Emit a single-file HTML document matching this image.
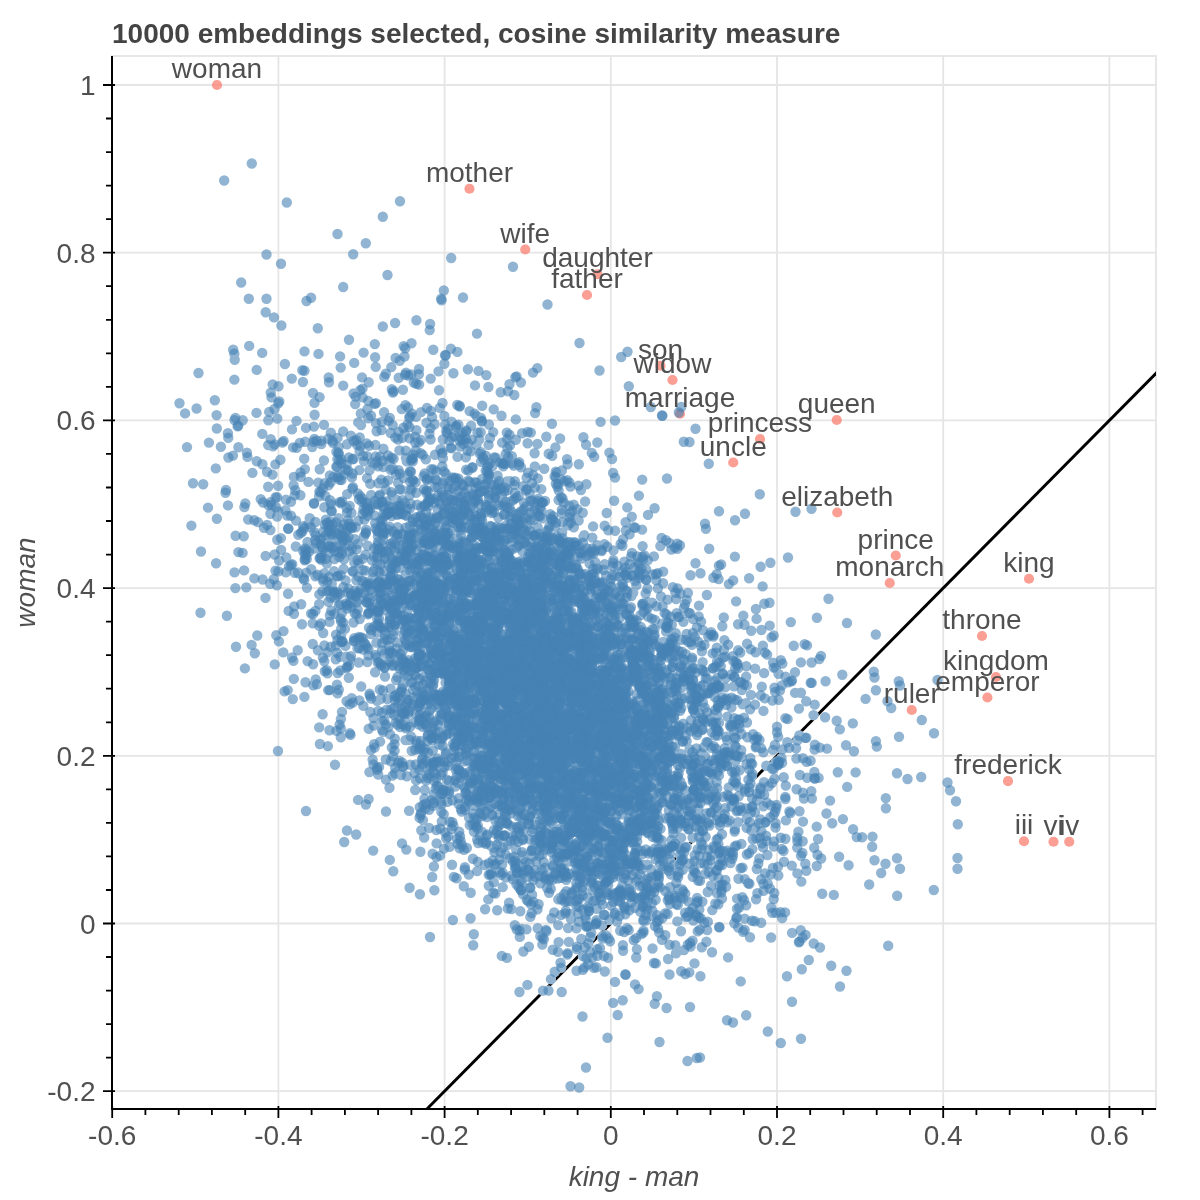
<!DOCTYPE html>
<html><head><meta charset="utf-8"><title>plot</title>
<style>
html,body{margin:0;padding:0;background:#fff;}
body{width:1200px;height:1200px;overflow:hidden;position:relative;font-family:"Liberation Sans",sans-serif;}
svg{position:absolute;left:0;top:0;will-change:transform;}
text{font-family:"Liberation Sans",sans-serif;}
.tk{font-size:28px;fill:#505050;}
.lb{font-size:28px;fill:#505050;text-anchor:middle;}
.ax{font-size:28px;font-style:italic;fill:#505050;text-anchor:middle;}
.ti{font-size:28px;font-weight:bold;fill:#444;}
</style></head><body>
<svg width="1200" height="1200" viewBox="0 0 1200 1200">
<rect width="1200" height="1200" fill="#fff"/>

<rect x="112" y="56" width="1044" height="1053" fill="#fff" stroke="#e5e5e5" stroke-width="1.8"/>
<path d="M278.4 56V1109M444.6 56V1109M610.8 56V1109M777.0 56V1109M943.2 56V1109M1109.4 56V1109M112 1091.2H1156M112 923.5H1156M112 755.8H1156M112 588.1H1156M112 420.4H1156M112 252.7H1156M112 85.0H1156" stroke="#e5e5e5" stroke-width="1.8" fill="none"/>
<clipPath id="c"><rect x="112" y="56" width="1044" height="1053"/></clipPath>
<g clip-path="url(#c)">
<path d="M361.5 1175.0L1192.5 336.6" stroke="#000" stroke-width="2.9" fill="none"/>
<clipPath id="lb"><path d="M363.8 1177.3L1194.8 338.8L1190.2 334.3L359.2 1172.8Z"/></clipPath>
<circle cx="217" cy="85" r="5.1" fill="#fa8072" fill-opacity="0.76"/>
<circle cx="469.5" cy="188.75" r="5.1" fill="#fa8072" fill-opacity="0.76"/>
<circle cx="525.25" cy="249.5" r="5.1" fill="#fa8072" fill-opacity="0.76"/>
<circle cx="597.5" cy="274.25" r="5.1" fill="#fa8072" fill-opacity="0.76"/>
<circle cx="587" cy="295" r="5.1" fill="#fa8072" fill-opacity="0.76"/>
<circle cx="660.5" cy="365.75" r="5.1" fill="#fa8072" fill-opacity="0.76"/>
<circle cx="672.5" cy="380" r="5.1" fill="#fa8072" fill-opacity="0.76"/>
<circle cx="680" cy="413.75" r="5.1" fill="#fa8072" fill-opacity="0.76"/>
<circle cx="760" cy="439" r="5.1" fill="#fa8072" fill-opacity="0.76"/>
<circle cx="733.25" cy="462.5" r="5.1" fill="#fa8072" fill-opacity="0.76"/>
<circle cx="836.75" cy="420" r="5.1" fill="#fa8072" fill-opacity="0.76"/>
<circle cx="837.25" cy="512.5" r="5.1" fill="#fa8072" fill-opacity="0.76"/>
<circle cx="895.75" cy="555.5" r="5.1" fill="#fa8072" fill-opacity="0.76"/>
<circle cx="889.75" cy="583" r="5.1" fill="#fa8072" fill-opacity="0.76"/>
<circle cx="1029" cy="578.75" r="5.1" fill="#fa8072" fill-opacity="0.76"/>
<circle cx="982" cy="636" r="5.1" fill="#fa8072" fill-opacity="0.76"/>
<circle cx="996" cy="677" r="5.1" fill="#fa8072" fill-opacity="0.76"/>
<circle cx="987.4" cy="697.5" r="5.1" fill="#fa8072" fill-opacity="0.76"/>
<circle cx="911.75" cy="710" r="5.1" fill="#fa8072" fill-opacity="0.76"/>
<circle cx="1008" cy="781.1" r="5.1" fill="#fa8072" fill-opacity="0.76"/>
<circle cx="1024" cy="841.25" r="5.1" fill="#fa8072" fill-opacity="0.76"/>
<circle cx="1053.5" cy="841.75" r="5.1" fill="#fa8072" fill-opacity="0.76"/>
<circle cx="1069.25" cy="841.75" r="5.1" fill="#fa8072" fill-opacity="0.76"/>
<g clip-path="url(#lb)"><path d="M825.1 717.3h0M576.8 949.1h0M617.1 921.6h0M749.0 792.1h0M779.0 761.8h0M642.7 885.9h0M588.3 943.4h0M602.0 925.4h0M733.1 799.5h0M716.6 820.0h0M637.6 898.5h0M645.8 883.8h0M709.5 825.6h0M685.0 847.4h0M639.9 885.8h0M647.0 887.0h0M561.2 967.6h0M625.1 909.1h0M619.4 916.0h0M738.7 796.3h0M686.6 847.0h0M683.4 859.5h0M705.6 836.7h0M751.8 776.6h0M641.5 897.1h0M648.0 879.7h0M725.2 808.2h0M732.8 798.3h0M643.8 894.3h0M681.5 860.0h0M723.7 818.1h0M773.8 768.7h0M645.3 895.3h0M777.9 763.6h0M799.3 735.5h0M663.7 866.1h0M734.3 799.5h0M789.1 747.9h0M651.8 877.3h0M645.7 892.4h0M635.3 897.9h0M658.3 883.5h0M724.7 814.1h0M669.9 853.7h0M729.3 796.4h0M586.4 958.2h0M723.7 818.8h0M634.7 907.8h0M703.1 831.1h0M720.1 822.1h0M548.5 990.6h0M797.4 740.4h0M682.2 860.9h0M543.0 990.6h0M660.1 864.6h0M734.0 801.4h0M658.1 873.5h0M699.2 830.5h0M669.5 859.2h0M667.2 869.5h0M654.5 888.1h0M631.7 902.6h0M787.3 742.3h0M630.5 896.9h0M584.9 947.2h0M775.6 762.4h0M583.0 956.0h0M684.2 852.0h0M632.6 895.7h0M738.4 786.9h0M648.3 888.8h0M657.9 874.4h0M678.9 847.3h0M640.4 902.2h0M647.8 878.1h0M668.8 870.7h0M669.1 867.6h0M629.4 910.3h0M782.5 749.4h0M711.4 812.2h0M692.6 837.6h0M624.8 906.5h0M731.5 806.5h0M752.2 773.8h0M656.2 876.0h0M773.0 749.9h0M766.3 765.7h0M659.1 875.8h0M745.1 789.0h0M554.7 971.7h0M750.5 783.6h0M699.1 836.9h0M748.4 779.8h0M730.1 799.2h0M772.2 768.7h0M715.4 808.3h0M673.9 864.7h0M708.7 823.3h0M657.3 886.0h0M605.8 935.1h0M614.8 914.4h0M781.5 758.1h0M590.4 952.3h0M710.7 812.7h0M663.2 860.8h0M550.9 979.1h0M717.3 816.2h0M681.8 851.1h0M645.0 898.6h0M590.3 937.0h0M744.9 791.6h0M749.2 787.4h0M680.0 855.0h0M731.9 800.4h0M602.7 936.2h0M615.1 912.8h0M813.5 715.1h0M778.5 764.3h0M777.9 761.2h0M623.9 907.3h0M602.5 938.6h0M650.1 890.9h0M707.4 822.4h0M717.0 806.5h0M609.5 919.8h0M658.8 879.1h0M702.3 830.2h0M625.3 914.3h0" stroke="#fff" stroke-width="10.4" stroke-linecap="round" fill="none"/></g>
<g stroke="#4682b4" stroke-opacity="0.6" stroke-width="10.4" stroke-linecap="round" fill="none"><path d="M404.0 670.0h0M757.1 737.0h0M490.2 789.3h0M447.4 665.0h0M552.7 723.3h0M442.0 557.6h0M483.6 656.4h0M353.6 393.5h0M719.0 511.2h0M755.7 747.2h0M475.4 668.8h0M549.6 778.9h0M818.6 777.9h0M434.4 631.5h0M548.0 560.2h0M459.3 576.8h0M492.1 814.9h0M328.8 531.5h0M611.6 645.2h0M521.9 753.2h0M495.1 755.0h0M208.0 507.6h0M636.8 676.5h0M678.2 758.2h0M338.6 447.2h0M476.0 703.2h0M535.1 413.1h0M457.8 692.9h0M657.8 806.8h0M421.5 618.5h0M502.0 753.9h0M422.5 532.2h0M733.1 799.5h0M468.5 693.1h0M704.9 756.2h0M588.6 615.6h0M705.0 523.7h0M595.4 702.1h0M510.5 668.2h0M429.4 478.2h0M375.6 528.2h0M526.5 627.2h0M639.9 885.8h0M555.9 769.1h0M449.2 650.7h0M283.5 631.1h0M313.6 441.7h0M481.6 547.8h0M515.2 777.6h0M459.5 612.3h0M654.0 766.5h0M436.2 604.6h0M540.9 771.8h0M458.5 478.7h0M575.8 545.5h0M481.1 516.8h0M552.4 823.3h0M746.7 818.7h0M514.0 749.3h0M430.5 500.2h0M581.4 626.5h0M698.2 762.2h0M553.6 673.9h0M463.0 724.2h0M554.8 743.0h0M523.2 578.3h0M579.3 858.1h0M670.2 645.9h0M319.1 496.3h0M657.9 700.1h0M419.8 714.6h0M642.8 800.9h0M715.2 735.5h0M433.2 676.2h0M399.5 761.0h0M750.0 709.4h0M272.9 446.2h0M448.2 733.4h0M659.5 758.6h0M543.5 737.8h0M566.3 620.2h0M564.8 644.8h0M354.7 613.2h0M399.3 603.9h0M570.2 588.6h0M527.2 784.2h0M412.7 597.5h0M395.2 544.4h0M610.0 735.9h0M569.1 729.6h0M529.3 596.5h0M536.6 615.2h0M712.3 910.1h0M576.5 779.1h0M495.8 612.9h0M610.1 854.7h0M701.6 849.1h0M519.3 513.1h0M551.8 764.5h0M496.1 723.0h0M510.3 632.7h0M496.5 721.7h0M321.3 559.8h0M568.4 658.3h0M469.4 786.2h0M579.6 718.4h0M477.6 575.8h0M700.5 863.4h0M607.6 785.5h0M632.0 678.7h0M513.0 861.6h0M398.1 584.4h0M583.7 799.5h0M538.2 501.1h0M416.4 740.6h0M635.6 667.3h0M421.0 412.1h0M557.3 546.2h0M584.4 846.3h0M590.4 817.3h0M665.5 779.7h0M490.3 637.7h0M565.6 799.0h0M484.6 730.0h0M543.5 555.7h0M536.6 672.8h0M530.0 768.3h0M605.8 727.2h0M294.2 606.4h0M464.9 608.3h0M605.3 711.4h0M676.3 882.7h0M816.9 617.7h0M412.1 647.4h0M436.4 595.0h0M494.6 761.7h0M503.7 713.2h0M346.6 668.0h0M563.0 572.8h0M476.7 721.0h0M486.2 683.9h0M531.8 913.0h0M610.5 642.6h0M569.1 716.3h0M600.6 583.1h0M326.9 522.9h0M569.3 825.8h0M489.0 494.9h0M554.8 626.5h0M278.5 386.3h0M586.4 601.5h0M674.6 797.9h0M888.2 945.8h0M368.7 613.4h0M589.0 908.1h0M637.5 734.7h0M624.2 751.2h0M618.4 716.9h0M303.1 526.1h0M277.3 539.8h0M291.0 515.8h0M443.9 659.4h0M639.4 790.1h0M523.1 838.7h0M409.0 640.9h0M577.1 646.1h0M329.0 576.9h0M588.8 827.8h0M511.9 745.2h0M420.3 702.2h0M542.9 614.9h0M594.6 813.1h0M585.5 744.7h0M663.9 752.8h0M360.2 390.3h0M467.5 667.0h0M614.0 774.0h0M600.9 890.0h0M599.1 645.7h0M334.7 551.3h0M606.2 829.5h0M588.0 615.7h0M528.5 620.1h0M460.3 777.8h0M563.1 556.3h0M498.7 763.1h0M329.0 590.5h0M439.4 535.6h0M585.9 700.0h0M523.5 749.8h0M620.0 802.0h0M467.7 692.5h0M486.1 676.4h0M534.5 735.9h0M545.3 787.9h0M694.0 790.3h0M602.6 686.4h0M330.8 432.7h0M512.3 706.7h0M589.7 853.1h0M520.1 572.0h0M466.1 628.1h0M416.0 416.9h0M582.2 801.7h0M657.7 573.3h0M328.2 690.1h0M536.9 806.0h0M524.2 542.3h0M501.6 557.1h0M382.9 582.7h0M566.2 603.3h0M642.5 757.4h0M690.0 613.3h0M787.3 742.3h0M624.0 878.0h0M487.6 726.1h0M476.7 416.1h0M801.0 1038.8h0M447.1 433.3h0M576.1 843.9h0M578.8 572.3h0M637.3 863.1h0M872.2 846.8h0M596.7 685.6h0M657.2 853.1h0M587.7 612.7h0M545.8 728.5h0M519.3 719.8h0M581.0 676.2h0M539.5 708.5h0M469.4 583.7h0M526.9 805.9h0M541.3 489.1h0M405.5 554.8h0M445.2 707.6h0M331.7 542.7h0M603.3 721.3h0M642.9 714.2h0M445.6 682.8h0M340.8 737.2h0M629.4 738.7h0M356.8 602.3h0M738.4 786.9h0M579.2 817.0h0M287.7 690.1h0M492.0 542.7h0M587.1 731.8h0M626.5 693.4h0M474.4 818.0h0M597.3 867.5h0M656.7 739.2h0M634.8 825.7h0M350.5 601.7h0M538.6 722.2h0M498.9 724.5h0M499.2 624.2h0M529.1 589.9h0M429.6 717.7h0M574.7 806.2h0M275.5 570.6h0M478.2 674.9h0M568.3 555.1h0M483.4 603.6h0M493.2 432.1h0M714.7 763.2h0M329.9 615.3h0M423.2 580.7h0M577.6 641.4h0M474.7 619.9h0M498.4 517.6h0M627.0 626.1h0M697.3 724.0h0M513.1 570.8h0M563.9 655.0h0M477.0 333.6h0M505.3 665.7h0M634.7 871.1h0M671.8 624.7h0M625.3 754.9h0M499.2 582.7h0M581.8 577.7h0M586.4 666.3h0M634.4 567.2h0M446.5 710.2h0M576.0 640.2h0M475.1 632.8h0M628.6 654.5h0M561.3 818.4h0M430.5 763.8h0M510.1 481.3h0M531.6 740.4h0M701.2 753.2h0M567.5 598.3h0M519.0 607.2h0M378.2 774.5h0M256.5 412.9h0M338.9 453.6h0M506.9 481.4h0M671.6 840.0h0M492.1 664.8h0M383.2 514.1h0M364.1 642.8h0M558.7 739.8h0M633.4 663.4h0M503.2 617.4h0M475.4 624.5h0M675.5 647.5h0M575.5 699.8h0M604.4 588.5h0M507.4 448.3h0M394.9 700.3h0M545.4 679.4h0M512.3 688.9h0M480.9 417.9h0M671.4 549.6h0M587.9 897.6h0M560.8 617.5h0M717.6 730.3h0M474.8 789.0h0M608.0 868.7h0M683.4 621.8h0M530.8 761.7h0M560.8 562.9h0M578.6 906.7h0M816.7 866.0h0M403.0 685.0h0M576.9 670.4h0M550.9 979.1h0M620.6 544.0h0M681.8 851.1h0M601.6 782.5h0M654.7 1003.7h0M643.4 773.3h0M425.2 590.3h0M440.5 622.6h0M563.8 868.4h0M463.6 582.5h0M581.1 877.6h0M750.9 812.6h0M484.4 660.8h0M431.3 469.1h0M734.8 846.5h0M699.5 713.0h0M567.0 741.3h0M499.9 872.3h0M662.5 714.9h0M442.7 745.9h0M362.3 580.8h0M484.3 639.5h0M491.9 614.2h0M520.2 661.2h0M291.0 501.7h0M549.2 880.3h0M677.8 905.1h0M504.5 643.4h0M472.6 824.1h0M579.7 634.3h0M589.1 683.3h0M508.4 753.9h0M569.1 582.3h0M573.7 504.7h0M426.5 422.8h0M405.2 640.0h0M416.2 780.4h0M553.0 846.9h0M433.3 349.8h0M519.5 537.9h0M518.5 599.9h0M519.7 834.8h0M369.9 695.8h0M677.1 900.6h0M458.3 658.6h0M556.6 673.3h0M613.2 688.0h0M558.9 624.6h0M582.1 837.4h0M571.9 685.4h0M444.8 676.6h0M343.2 431.5h0M474.7 665.7h0M618.7 828.9h0M268.2 445.1h0"/><path d="M456.2 641.4h0M423.6 576.1h0M452.9 920.0h0M248.8 298.8h0M451.8 703.4h0M684.4 678.3h0M681.2 971.2h0M673.3 833.3h0M401.4 712.1h0M396.8 620.8h0M506.2 532.0h0M542.6 708.4h0M390.7 433.0h0M470.9 506.5h0M624.5 842.5h0M563.9 814.3h0M875.9 741.1h0M470.6 628.6h0M530.9 738.4h0M386.6 501.4h0M489.6 703.1h0M490.1 770.9h0M483.4 719.9h0M646.8 735.1h0M586.4 758.2h0M407.2 703.2h0M597.4 608.4h0M787.0 976.2h0M696.3 914.6h0M337.6 437.9h0M617.9 625.3h0M357.1 593.6h0M531.5 682.8h0M406.0 667.7h0M538.7 733.8h0M519.8 809.4h0M504.9 505.3h0M654.4 637.7h0M587.6 576.4h0M602.6 688.9h0M543.8 939.3h0M536.7 570.1h0M428.6 559.0h0M575.1 778.2h0M238.4 552.1h0M366.7 443.4h0M619.9 901.6h0M510.8 741.7h0M457.2 656.0h0M625.1 909.1h0M463.5 544.2h0M585.6 641.3h0M662.7 802.3h0M665.6 818.2h0M541.7 571.6h0M509.3 688.0h0M531.1 547.5h0M550.5 778.6h0M644.6 768.0h0M723.5 851.3h0M572.6 821.5h0M575.9 716.1h0M752.4 849.1h0M435.6 580.8h0M574.6 851.2h0M580.9 552.7h0M755.1 827.7h0M522.6 840.1h0M658.8 710.7h0M733.0 1022.5h0M604.1 956.0h0M612.5 867.9h0M716.9 893.0h0M781.9 849.0h0M679.3 617.0h0M467.0 527.3h0M614.9 657.2h0M461.1 526.5h0M577.6 568.8h0M614.5 722.3h0M594.4 765.6h0M623.1 539.1h0M356.6 614.1h0M613.1 473.0h0M497.6 620.2h0M698.7 616.4h0M679.4 787.8h0M464.4 505.1h0M384.5 667.2h0M537.6 655.8h0M555.3 688.4h0M574.1 636.7h0M625.4 974.2h0M635.2 853.5h0M578.4 832.2h0M486.3 705.6h0M760.4 819.5h0M524.2 719.1h0M508.7 691.6h0M546.2 644.5h0M636.2 957.5h0M643.4 692.4h0M483.8 663.6h0M452.8 518.3h0M562.0 839.6h0M541.5 869.8h0M543.4 558.0h0M578.7 722.4h0M426.8 609.0h0M554.4 679.4h0M520.2 676.7h0M418.7 654.0h0M529.6 786.7h0M635.6 720.6h0M550.2 707.1h0M470.9 451.4h0M296.5 420.9h0M644.9 745.5h0M606.3 739.6h0M555.8 483.7h0M432.6 853.8h0M694.9 713.2h0M654.0 963.0h0M684.0 950.1h0M443.3 495.0h0M640.8 626.9h0M519.0 722.8h0M254.3 520.3h0M524.4 706.7h0M434.1 582.4h0M475.2 764.7h0M389.5 787.8h0M612.7 755.5h0M482.7 678.3h0M718.3 904.2h0M580.9 742.6h0M497.6 682.1h0M530.7 776.7h0M605.1 884.8h0M478.8 619.1h0M557.8 735.1h0M454.2 478.5h0M587.2 785.4h0M487.2 576.8h0M509.5 655.9h0M735.4 761.3h0M465.5 612.4h0M522.2 732.1h0M621.3 678.9h0M666.6 670.1h0M478.1 593.4h0M376.6 461.5h0M444.0 471.5h0M405.8 450.6h0M640.6 653.4h0M598.0 863.0h0M512.7 688.0h0M542.3 854.2h0M571.2 611.5h0M372.3 462.6h0M427.1 741.5h0M652.9 719.9h0M522.8 665.6h0M481.9 661.9h0M419.2 703.4h0M732.2 858.8h0M430.6 439.5h0M573.4 695.0h0M420.9 515.5h0M575.9 682.6h0M672.1 639.7h0M389.8 607.2h0M576.6 685.8h0M659.7 702.5h0M518.8 614.0h0M425.4 808.5h0M386.8 587.0h0M341.4 480.0h0M485.8 455.8h0M539.2 533.6h0M404.0 714.1h0M621.8 632.6h0M588.6 630.2h0M674.8 779.6h0M526.2 683.5h0M638.3 755.8h0M657.5 697.6h0M448.8 569.3h0M608.2 885.1h0M623.7 777.7h0M538.8 602.1h0M558.7 684.8h0M578.9 673.5h0M713.2 668.5h0M442.8 653.6h0M642.2 479.6h0M458.0 705.8h0M546.2 658.7h0M371.2 494.9h0M608.6 805.7h0M415.5 576.1h0M433.2 670.0h0M755.9 609.0h0M467.7 620.3h0M628.2 880.8h0M443.7 512.3h0M627.6 734.0h0M340.3 604.4h0M541.4 794.9h0M501.5 594.1h0M589.2 738.5h0M608.3 530.2h0M423.4 632.6h0M400.3 505.5h0M450.1 715.8h0M661.7 851.2h0M554.2 912.4h0M532.7 856.4h0M571.5 614.7h0M308.7 523.8h0M540.9 729.8h0M489.6 589.1h0M472.8 678.1h0M436.0 596.0h0M631.2 669.1h0M350.5 734.9h0M475.3 742.5h0M358.7 563.3h0M529.5 702.0h0M302.4 531.4h0M579.9 681.8h0M546.3 436.8h0M293.1 447.4h0M503.7 643.2h0M747.5 737.2h0M814.9 778.6h0M624.7 775.8h0M770.0 888.8h0M371.0 415.7h0M625.6 713.8h0M538.6 904.2h0M459.1 640.2h0M517.2 863.7h0M493.5 605.1h0M506.7 568.5h0M605.0 776.7h0M791.2 681.4h0M654.9 706.8h0M499.1 835.4h0M769.7 625.6h0M409.8 551.8h0M426.3 525.4h0M525.7 687.7h0M504.6 702.0h0M485.3 654.5h0M436.3 664.5h0M381.3 479.6h0M524.9 598.7h0M751.3 830.4h0M759.8 837.8h0M434.1 619.7h0M500.9 716.4h0M407.2 662.8h0M467.9 443.2h0M579.8 655.3h0M522.2 867.1h0M416.7 663.3h0M528.0 667.1h0M501.8 565.7h0M425.0 657.9h0M646.7 666.2h0M409.8 570.4h0M546.5 639.6h0M546.8 702.1h0M521.5 607.8h0M383.4 533.0h0M558.4 670.8h0M776.6 804.9h0M654.0 722.2h0M435.0 454.8h0M595.5 744.8h0M508.7 728.7h0M403.0 599.6h0M781.9 685.4h0M629.5 615.5h0M389.8 859.9h0M552.4 757.6h0M514.2 679.1h0M293.4 660.9h0M735.9 783.2h0M524.8 518.2h0M399.2 529.3h0M407.5 626.8h0M675.3 945.3h0M550.2 514.2h0M554.7 971.7h0M566.4 651.5h0M434.9 592.2h0M724.0 700.0h0M474.7 482.3h0M390.1 511.4h0M462.1 484.5h0M539.4 689.6h0M425.5 583.3h0M539.8 835.8h0M448.9 568.9h0M574.7 648.5h0M493.7 779.7h0M377.6 545.4h0M509.1 902.8h0M364.4 519.6h0M511.2 617.4h0M446.5 790.7h0M586.0 671.8h0M509.6 665.3h0M437.0 738.6h0M501.1 657.4h0M551.4 763.9h0M465.6 718.1h0M444.4 705.9h0M505.6 501.6h0M676.0 953.3h0M504.8 780.6h0M547.6 642.5h0M710.7 812.7h0M480.4 690.9h0M382.1 712.8h0M524.0 566.4h0M441.6 624.5h0M522.5 654.4h0M448.1 613.6h0M636.9 746.5h0M602.7 767.2h0M397.6 527.3h0M619.4 576.9h0M541.9 635.9h0M725.3 687.4h0M608.7 756.5h0M592.9 848.7h0M693.7 821.8h0M662.6 734.9h0M591.8 585.1h0M447.6 801.9h0M734.9 829.2h0M433.5 761.6h0M733.9 686.3h0M466.0 542.6h0M270.4 530.1h0M591.3 755.2h0M654.3 688.7h0M285.8 572.3h0M526.9 726.1h0M420.7 453.1h0M586.4 823.8h0M417.3 638.5h0M589.1 790.4h0M637.4 724.6h0M380.1 587.8h0M283.6 441.0h0M479.6 660.8h0M591.5 735.7h0M607.2 875.4h0M493.8 573.5h0M487.2 718.6h0M349.1 523.5h0M581.3 604.1h0M413.8 382.6h0M276.0 507.2h0M482.4 606.0h0M665.5 714.3h0M581.3 731.0h0M491.7 660.5h0M474.8 709.6h0M494.8 632.8h0M309.7 518.2h0M451.3 606.6h0M511.3 712.1h0M561.7 643.3h0M544.8 734.7h0M737.9 822.2h0M530.9 596.8h0M682.9 741.9h0"/><path d="M462.0 551.1h0M506.1 767.6h0M657.0 740.5h0M762.6 586.4h0M627.1 593.4h0M567.0 747.8h0M627.2 591.1h0M629.8 609.3h0M616.5 815.5h0M562.8 757.0h0M528.6 615.3h0M466.3 800.1h0M457.0 838.7h0M444.6 521.8h0M586.1 730.8h0M413.5 704.3h0M304.4 696.9h0M436.0 539.8h0M471.6 676.2h0M510.1 594.7h0M442.7 584.8h0M517.2 766.5h0M790.8 622.1h0M602.0 925.4h0M482.2 615.7h0M524.4 815.0h0M697.1 735.0h0M559.7 563.5h0M431.9 591.7h0M552.8 557.3h0M355.2 404.1h0M689.2 679.2h0M579.4 603.0h0M603.6 679.9h0M313.9 426.6h0M388.5 420.9h0M569.0 702.4h0M596.2 686.4h0M540.9 770.4h0M399.4 450.4h0M665.3 913.3h0M605.9 721.7h0M551.3 574.9h0M726.1 886.8h0M536.7 638.0h0M687.6 916.4h0M442.9 736.7h0M368.7 382.3h0M605.5 794.7h0M501.7 616.0h0M638.1 669.0h0M699.0 605.6h0M538.2 660.6h0M618.4 825.9h0M731.5 697.8h0M447.5 543.9h0M340.0 502.0h0M531.1 773.9h0M681.1 672.2h0M623.5 850.3h0M702.5 729.4h0M400.4 654.0h0M508.3 713.0h0M644.6 715.2h0M636.0 938.2h0M526.7 627.8h0M455.2 780.3h0M523.3 744.5h0M588.2 926.1h0M485.0 744.3h0M573.0 746.3h0M531.4 730.9h0M677.3 776.5h0M392.6 580.2h0M418.3 641.0h0M532.0 585.2h0M683.4 859.5h0M451.3 448.4h0M702.4 901.6h0M621.3 668.3h0M508.5 570.0h0M814.6 749.6h0M532.8 802.5h0M477.8 798.6h0M674.9 656.5h0M462.5 737.7h0M466.4 697.6h0M570.7 680.1h0M576.2 842.9h0M568.0 776.3h0M548.3 789.9h0M766.8 802.5h0M456.4 426.0h0M664.5 785.9h0M707.8 742.5h0M545.5 636.6h0M584.9 609.3h0M713.4 803.4h0M746.1 676.7h0M669.1 762.4h0M629.1 804.5h0M711.6 760.8h0M577.1 668.5h0M639.4 577.7h0M569.2 611.6h0M579.0 772.4h0M491.5 583.2h0M701.0 785.8h0M459.2 543.3h0M722.2 697.5h0M437.5 758.5h0M640.5 646.4h0M691.2 689.7h0M594.6 871.3h0M642.1 529.6h0M712.3 690.0h0M613.3 726.4h0M576.9 946.8h0M548.6 552.0h0M491.6 672.9h0M413.4 480.6h0M346.6 701.3h0M528.3 702.5h0M473.7 757.8h0M554.8 585.5h0M504.6 640.7h0M546.7 811.5h0M482.1 520.4h0M294.0 613.8h0M430.9 738.2h0M534.8 755.8h0M524.0 761.6h0M504.2 799.0h0M440.0 614.3h0M597.6 626.7h0M661.8 802.4h0M664.3 645.5h0M594.5 720.5h0M430.1 324.0h0M410.2 534.6h0M445.0 355.3h0M533.2 475.1h0M386.8 584.0h0M509.6 508.0h0M429.2 587.5h0M502.7 887.1h0M606.6 622.9h0M666.6 621.4h0M568.9 637.4h0M465.0 657.8h0M512.3 696.8h0M633.0 663.0h0M574.5 715.9h0M785.4 838.7h0M663.4 642.0h0M511.8 826.5h0M488.8 885.7h0M463.1 696.5h0M431.0 543.4h0M482.5 769.0h0M373.8 556.4h0M575.9 564.8h0M352.6 473.5h0M570.1 851.5h0M624.5 705.2h0M639.3 764.2h0M664.6 613.1h0M703.8 747.2h0M476.5 628.7h0M595.1 550.6h0M703.1 831.1h0M499.7 814.5h0M498.1 720.3h0M493.3 592.4h0M631.5 707.6h0M613.4 847.6h0M773.1 662.6h0M544.6 755.5h0M543.6 791.8h0M380.7 663.7h0M636.6 783.3h0M276.9 585.2h0M723.0 796.8h0M320.9 544.4h0M608.5 666.9h0M351.7 698.2h0M455.9 769.9h0M544.2 811.3h0M572.8 773.4h0M628.8 386.2h0M509.3 619.4h0M376.1 657.1h0M527.7 666.0h0M510.1 617.8h0M474.7 757.6h0M543.7 739.1h0M486.8 645.1h0M572.1 511.2h0M412.8 521.7h0M625.2 761.2h0M490.5 675.5h0M573.8 568.2h0M714.6 848.2h0M510.9 638.4h0M571.4 832.5h0M746.2 1015.2h0M502.0 805.0h0M505.2 679.0h0M520.9 872.4h0M421.3 830.2h0M334.8 597.6h0M476.5 597.6h0M806.2 701.2h0M511.5 767.5h0M592.7 687.7h0M419.5 666.1h0M274.6 554.5h0M581.3 718.0h0M552.9 640.0h0M505.1 738.1h0M415.7 640.2h0M579.7 552.8h0M357.8 493.5h0M442.7 613.6h0M514.3 587.6h0M657.8 687.0h0M266.5 254.5h0M410.0 471.3h0M644.8 645.3h0M527.4 984.9h0M485.9 688.7h0M622.7 1000.3h0M795.0 672.2h0M437.7 487.1h0M334.6 592.6h0M539.8 508.0h0M747.7 809.0h0M525.2 700.8h0M631.7 756.8h0M538.8 707.6h0M589.3 684.1h0M522.8 579.3h0M577.8 832.8h0M691.7 689.7h0M652.8 574.4h0M575.4 778.9h0M505.1 614.0h0M489.0 670.5h0M557.3 629.5h0M520.6 639.6h0M577.0 719.6h0M384.0 610.4h0M745.7 808.5h0M496.1 633.4h0M314.4 532.3h0M441.0 774.7h0M274.0 317.4h0M456.9 697.3h0M568.0 784.1h0M631.8 516.7h0M513.6 529.3h0M497.2 749.6h0M658.8 838.9h0M645.1 772.8h0M602.5 832.8h0M619.2 774.7h0M586.2 726.3h0M505.2 835.4h0M463.8 492.5h0M528.5 700.4h0M545.7 588.9h0M746.6 827.7h0M487.2 471.6h0M671.5 805.3h0M633.6 626.7h0M601.1 763.6h0M454.2 660.5h0M549.8 664.5h0M657.2 668.2h0M434.6 424.3h0M514.8 925.3h0M526.0 774.4h0M556.5 792.7h0M673.3 648.9h0M531.3 783.3h0M521.6 688.4h0M595.3 583.6h0M681.8 814.9h0M464.8 809.7h0M643.5 930.6h0M541.8 731.7h0M466.9 559.2h0M598.6 809.9h0M439.4 644.6h0M541.5 736.0h0M337.6 533.6h0M699.4 782.4h0M401.9 713.3h0M237.6 426.4h0M639.8 686.4h0M522.3 660.2h0M480.0 637.4h0M515.3 669.9h0M542.3 685.3h0M515.0 860.5h0M544.0 800.8h0M387.5 699.0h0M550.2 667.6h0M618.5 708.2h0M552.2 669.8h0M458.7 481.6h0M881.2 873.0h0M552.9 759.1h0M362.6 397.4h0M574.2 755.1h0M521.7 882.1h0M566.8 853.5h0M503.3 466.2h0M368.7 612.5h0M575.1 875.6h0M781.5 758.1h0M597.6 694.5h0M658.3 787.9h0M608.6 695.5h0M470.3 624.8h0M508.1 595.0h0M407.3 610.5h0M394.6 750.8h0M546.4 705.7h0M340.9 719.0h0M511.3 755.7h0M482.2 791.7h0M480.7 432.2h0M378.6 531.8h0M549.7 790.4h0M369.0 627.7h0M723.7 884.7h0M699.0 797.5h0M564.6 873.3h0M540.8 739.9h0M389.0 646.3h0M482.0 610.4h0M827.0 748.6h0M559.3 804.3h0M615.2 730.6h0M561.1 784.3h0M715.8 798.0h0M561.4 777.8h0M578.4 757.6h0M552.7 693.5h0M699.7 697.6h0M486.0 610.9h0M606.1 743.8h0M384.3 531.6h0M570.2 587.8h0M603.4 690.3h0M440.3 504.1h0M500.6 852.5h0M662.2 623.7h0M591.9 665.3h0M406.4 555.9h0M611.4 736.7h0M606.8 589.8h0M430.7 378.6h0M747.0 722.5h0M615.2 689.9h0M636.7 678.8h0M764.8 698.4h0M774.0 841.4h0M262.6 579.5h0M471.7 593.2h0M557.0 857.2h0M543.7 668.9h0M695.1 777.2h0M615.9 644.1h0M723.3 657.6h0M716.3 846.3h0M724.6 752.7h0M465.2 562.2h0M535.5 825.0h0M392.8 573.9h0M505.8 816.6h0"/><path d="M597.5 545.2h0M586.8 715.4h0M389.8 651.0h0M439.3 700.8h0M734.2 676.9h0M488.5 627.6h0M548.8 657.6h0M367.0 478.1h0M728.1 957.4h0M548.6 529.6h0M497.2 690.5h0M454.6 641.5h0M502.5 633.6h0M595.9 737.6h0M534.0 663.6h0M457.2 563.4h0M615.1 530.8h0M779.0 761.8h0M598.7 893.2h0M628.3 799.8h0M477.2 839.6h0M510.9 696.9h0M545.0 650.8h0M508.7 557.3h0M547.1 686.5h0M485.8 811.8h0M734.1 753.9h0M659.2 744.3h0M403.0 649.6h0M653.0 667.4h0M710.4 860.0h0M603.6 569.8h0M714.9 713.7h0M572.1 598.0h0M672.4 746.6h0M470.5 554.5h0M655.8 963.4h0M310.8 527.2h0M411.4 618.6h0M586.2 926.2h0M528.9 559.2h0M446.9 564.9h0M518.1 601.8h0M623.6 703.7h0M373.1 607.4h0M582.0 836.0h0M373.5 718.1h0M399.4 668.2h0M516.1 835.1h0M377.7 612.3h0M508.3 755.6h0M505.8 594.6h0M578.7 628.0h0M631.7 638.6h0M655.8 713.4h0M846.5 970.8h0M641.3 829.5h0M433.3 656.9h0M542.6 518.3h0M756.8 869.0h0M444.3 632.5h0M610.3 583.6h0M557.1 720.3h0M503.8 740.0h0M453.5 616.9h0M632.0 726.2h0M487.1 764.5h0M557.5 701.7h0M459.4 664.0h0M492.8 505.9h0M597.6 831.7h0M587.6 716.8h0M466.3 751.5h0M802.7 841.2h0M641.9 819.2h0M492.1 814.8h0M331.7 534.6h0M578.8 824.7h0M422.7 726.8h0M552.3 740.0h0M659.0 858.1h0M467.4 623.4h0M474.5 502.0h0M741.3 682.2h0M628.2 684.1h0M577.8 795.8h0M537.8 478.4h0M569.7 720.7h0M319.1 604.3h0M418.5 591.5h0M358.1 799.9h0M662.0 742.7h0M481.4 771.3h0M604.4 544.2h0M647.4 700.2h0M595.2 715.0h0M510.9 634.3h0M492.1 604.3h0M579.4 774.1h0M459.6 848.2h0M440.1 559.4h0M489.8 778.9h0M710.9 718.4h0M507.0 754.3h0M519.1 831.9h0M433.7 654.6h0M470.1 561.3h0M501.4 584.6h0M469.9 651.0h0M652.9 663.6h0M622.6 849.3h0M404.2 713.3h0M459.7 435.2h0M470.0 557.1h0M657.0 852.2h0M475.8 515.7h0M380.2 627.5h0M600.0 708.6h0M559.4 726.7h0M490.5 508.9h0M713.0 686.9h0M583.4 803.0h0M390.5 576.1h0M611.6 811.5h0M572.1 619.6h0M307.5 542.0h0M647.0 804.4h0M383.6 506.0h0M655.7 821.3h0M572.7 697.2h0M433.8 794.3h0M716.8 647.7h0M735.9 746.7h0M549.5 720.1h0M579.4 668.5h0M557.2 612.8h0M583.4 437.2h0M632.2 575.7h0M653.8 756.7h0M628.7 645.5h0M607.7 727.5h0M711.1 885.5h0M707.3 721.5h0M599.8 754.2h0M515.8 768.8h0M362.0 377.4h0M546.9 543.8h0M749.3 769.6h0M268.4 505.0h0M488.6 560.0h0M865.6 698.9h0M529.1 588.4h0M458.6 664.9h0M579.8 809.2h0M673.3 731.2h0M270.7 439.1h0M553.3 694.2h0M378.6 607.9h0M567.1 719.5h0M570.9 754.4h0M477.1 742.2h0M402.3 651.5h0M516.3 751.5h0M453.7 545.6h0M505.0 650.4h0M578.7 629.6h0M498.8 741.8h0M598.5 800.6h0M570.7 831.2h0M531.7 563.1h0M352.3 459.2h0M656.4 701.3h0M686.5 675.6h0M258.0 522.1h0M671.2 731.6h0M442.1 793.9h0M592.5 683.7h0M574.7 594.7h0M540.4 602.1h0M631.4 753.7h0M482.7 526.9h0M328.5 485.2h0M553.4 664.0h0M410.2 726.7h0M785.4 718.1h0M503.3 618.6h0M575.8 795.3h0M687.8 944.8h0M532.5 600.7h0M806.3 870.7h0M342.1 641.3h0M718.9 565.6h0M553.0 684.7h0M577.3 815.3h0M439.0 786.7h0M396.2 593.5h0M403.0 619.7h0M549.0 552.5h0M477.3 657.5h0M737.8 756.3h0M490.4 696.1h0M406.2 590.7h0M612.8 877.5h0M551.0 624.7h0M506.4 681.8h0M561.7 992.0h0M527.5 768.8h0M766.5 840.8h0M612.8 566.2h0M513.7 533.0h0M606.2 720.1h0M436.1 582.7h0M541.3 770.6h0M488.5 683.9h0M456.3 508.2h0M500.6 635.2h0M583.5 710.7h0M656.6 707.0h0M382.0 502.1h0M564.2 894.3h0M584.0 664.8h0M552.0 733.2h0M816.7 826.6h0M638.2 823.3h0M591.8 833.8h0M467.1 665.5h0M706.5 721.9h0M448.6 581.2h0M594.8 887.4h0M410.9 460.4h0M567.2 670.2h0M504.3 714.1h0M455.5 477.7h0M605.4 627.7h0M515.4 525.2h0M630.0 774.5h0M501.1 669.9h0M562.2 818.7h0M319.6 558.3h0M630.9 607.2h0M515.2 526.0h0M570.2 631.3h0M473.2 783.1h0M764.3 603.8h0M600.4 738.4h0M574.3 752.7h0M485.2 534.2h0M508.1 792.0h0M603.3 679.5h0M631.0 676.7h0M420.1 658.8h0M398.6 470.3h0M559.8 619.8h0M581.0 729.7h0M575.6 542.6h0M558.7 680.9h0M586.8 873.4h0M455.0 746.1h0M683.2 723.7h0M602.4 797.2h0M435.2 523.5h0M538.2 628.2h0M459.7 440.8h0M491.7 713.6h0M453.4 661.4h0M463.8 565.8h0M589.0 554.4h0M476.2 604.0h0M515.8 419.4h0M337.2 652.9h0M591.6 641.4h0M647.6 784.0h0M344.3 524.5h0M567.6 464.3h0M419.6 719.0h0M717.3 715.2h0M224.2 180.5h0M740.3 652.5h0M519.5 713.7h0M456.8 716.6h0M438.7 624.2h0M544.3 748.3h0M733.0 855.6h0M644.7 694.9h0M611.5 857.9h0M477.4 758.9h0M639.3 803.7h0M488.8 863.2h0M493.9 701.5h0M497.5 658.6h0M373.4 764.4h0M563.5 782.6h0M446.5 543.9h0M591.3 819.4h0M659.1 875.8h0M606.7 847.0h0M451.9 725.7h0M621.5 646.7h0M801.8 969.2h0M636.5 714.6h0M449.0 723.6h0M365.6 533.6h0M562.0 680.7h0M522.9 653.8h0M581.3 639.3h0M496.4 652.9h0M546.2 736.3h0M520.5 620.1h0M464.7 761.3h0M502.4 757.6h0M583.1 692.4h0M487.0 817.0h0M634.7 762.7h0M578.1 738.4h0M584.6 730.5h0M592.0 685.7h0M608.5 671.2h0M421.5 584.8h0M418.9 374.2h0M500.9 488.3h0M412.6 596.2h0M582.2 773.1h0M471.3 558.7h0M505.7 567.2h0M423.6 586.6h0M647.0 757.3h0M821.0 655.9h0M670.3 779.1h0M612.9 867.4h0M617.3 695.7h0M518.3 841.7h0M737.0 898.6h0M485.2 697.7h0M593.7 716.1h0M421.2 699.7h0M531.4 850.7h0M490.7 611.6h0M554.7 781.1h0M662.1 715.9h0M466.1 701.7h0M438.4 695.5h0M536.4 407.3h0M704.3 786.5h0M580.1 594.9h0M689.5 442.0h0M474.7 617.2h0M554.6 591.9h0M464.9 651.3h0M583.5 701.1h0M461.5 575.5h0M813.5 715.1h0M506.8 646.1h0M683.9 728.4h0M545.0 501.0h0M382.2 643.2h0M688.4 642.1h0M523.4 629.2h0M616.3 802.2h0M662.0 656.3h0M441.8 492.7h0M588.5 606.0h0M582.8 729.6h0M566.6 807.1h0M661.4 781.0h0M484.9 611.9h0M673.0 666.9h0M424.7 543.1h0M874.5 860.3h0M404.6 587.7h0M716.7 839.8h0M366.5 507.4h0M468.8 568.2h0M434.8 626.0h0M504.7 771.9h0M558.5 579.5h0M509.5 630.8h0M390.6 662.1h0M694.2 729.8h0M586.9 632.0h0M539.1 661.0h0M756.9 793.7h0M484.9 512.5h0"/><path d="M662.2 918.3h0M574.1 699.2h0M380.9 600.0h0M366.8 602.5h0M457.3 405.0h0M404.7 502.6h0M489.2 603.3h0M470.4 551.9h0M588.0 634.9h0M346.5 540.3h0M425.0 611.1h0M518.6 496.0h0M533.8 766.9h0M512.1 670.0h0M548.9 797.5h0M721.4 892.2h0M580.1 753.4h0M697.4 819.5h0M454.8 586.0h0M585.3 574.0h0M490.9 778.9h0M317.9 650.3h0M597.5 768.0h0M565.4 913.4h0M584.7 661.6h0M451.9 499.4h0M614.0 729.2h0M446.7 619.3h0M605.6 670.6h0M521.5 579.2h0M701.6 780.6h0M455.1 698.3h0M615.1 609.9h0M507.7 618.1h0M646.8 728.9h0M552.7 773.0h0M489.6 701.5h0M419.0 618.5h0M683.3 891.1h0M419.2 654.0h0M486.4 611.4h0M606.3 807.3h0M647.0 887.0h0M435.1 631.9h0M489.0 550.5h0M501.3 573.9h0M359.7 437.4h0M634.2 671.4h0M524.8 736.1h0M658.7 848.8h0M469.2 731.0h0M501.4 720.5h0M595.7 900.3h0M715.8 728.2h0M532.0 726.1h0M636.6 751.6h0M468.3 629.8h0M617.0 776.8h0M619.4 916.0h0M508.0 645.6h0M367.4 409.3h0M565.5 808.8h0M571.3 822.0h0M539.7 841.9h0M563.6 678.4h0M623.5 771.9h0M611.1 791.1h0M513.8 645.1h0M461.4 496.4h0M456.5 571.0h0M661.3 778.3h0M644.4 555.4h0M486.7 589.3h0M522.4 737.7h0M604.0 819.9h0M625.8 530.5h0M509.8 592.8h0M235.4 417.9h0M493.7 632.2h0M510.9 523.9h0M412.9 519.1h0M616.4 830.5h0M358.4 592.4h0M545.1 628.0h0M512.0 772.5h0M632.1 730.6h0M542.3 591.0h0M610.8 579.4h0M562.3 769.2h0M472.8 537.3h0M555.4 590.8h0M358.3 520.7h0M370.1 509.2h0M456.0 695.9h0M374.8 569.2h0M449.4 624.8h0M435.5 618.2h0M580.1 655.4h0M576.7 618.5h0M505.3 599.1h0M665.0 707.7h0M694.7 855.1h0M351.4 512.9h0M514.7 748.2h0M567.5 790.1h0M443.0 691.7h0M526.2 594.9h0M501.9 698.6h0M435.2 566.5h0M434.7 531.3h0M303.5 578.3h0M481.4 513.3h0M597.6 885.7h0M516.8 827.3h0M346.3 532.4h0M630.1 652.8h0M315.7 535.5h0M562.4 622.9h0M573.0 623.6h0M581.6 731.8h0M388.4 512.2h0M430.8 646.7h0M590.1 718.5h0M533.4 741.6h0M646.7 697.7h0M679.9 864.6h0M220.9 446.8h0M430.1 498.5h0M561.9 785.4h0M775.9 912.8h0M921.8 720.0h0M802.9 758.2h0M594.8 849.3h0M404.3 675.1h0M511.6 587.7h0M442.8 790.1h0M610.3 597.5h0M800.9 662.4h0M465.9 711.0h0M535.7 658.5h0M507.8 908.6h0M610.1 941.3h0M545.9 929.9h0M311.1 613.6h0M666.6 614.5h0M487.3 649.8h0M525.5 733.2h0M642.9 747.7h0M500.1 655.0h0M594.6 820.5h0M600.0 766.7h0M489.7 645.1h0M377.2 769.8h0M506.7 612.1h0M424.0 615.8h0M479.7 527.0h0M491.5 602.0h0M669.9 853.7h0M627.8 657.2h0M546.1 555.8h0M527.3 699.9h0M540.0 802.1h0M415.7 713.9h0M446.0 754.0h0M508.0 766.0h0M424.5 798.8h0M478.1 765.1h0M422.9 542.6h0M553.2 519.9h0M434.1 679.6h0M431.9 648.7h0M602.1 680.3h0M599.7 637.1h0M504.0 835.7h0M493.2 659.4h0M466.4 724.6h0M461.7 733.4h0M601.1 702.0h0M425.3 680.6h0M540.4 771.0h0M655.0 619.9h0M412.7 461.4h0M363.4 705.9h0M619.7 892.9h0M545.5 732.3h0M566.9 644.9h0M558.1 640.6h0M499.5 732.7h0M382.4 501.8h0M336.3 466.8h0M467.4 664.5h0M547.8 566.2h0M719.4 927.4h0M537.0 754.4h0M367.6 515.9h0M505.4 760.8h0M448.7 614.7h0M604.4 649.4h0M491.4 680.1h0M629.7 862.4h0M456.4 564.3h0M541.6 565.1h0M478.1 665.4h0M377.1 624.9h0M704.5 863.7h0M561.8 785.6h0M518.0 786.7h0M574.1 848.8h0M524.7 587.6h0M442.3 466.3h0M544.3 651.6h0M631.7 902.6h0M414.5 527.5h0M711.4 855.9h0M611.4 865.4h0M530.6 672.8h0M756.3 838.4h0M484.9 568.6h0M693.3 790.1h0M640.3 677.4h0M568.4 552.7h0M492.2 639.0h0M429.0 628.2h0M583.5 664.8h0M652.7 694.4h0M488.4 387.0h0M624.8 780.1h0M558.9 714.9h0M429.3 517.1h0M337.7 576.4h0M378.3 571.8h0M479.2 559.8h0M545.7 733.5h0M741.9 690.0h0M821.2 858.5h0M542.7 741.1h0M648.9 691.5h0M475.2 633.6h0M543.5 609.2h0M548.5 570.8h0M600.0 705.6h0M633.4 663.9h0M756.8 739.3h0M674.4 759.1h0M519.2 462.1h0M436.0 732.6h0M433.9 802.5h0M719.7 865.5h0M734.1 730.9h0M665.9 540.3h0M594.8 677.0h0M582.6 886.8h0M529.0 578.2h0M494.4 641.7h0M799.0 708.6h0M585.3 668.7h0M518.5 638.8h0M553.0 621.0h0M461.3 699.6h0M581.5 558.5h0M391.6 623.5h0M502.0 807.1h0M588.0 821.1h0M516.7 602.8h0M556.2 694.2h0M562.6 733.2h0M445.9 604.8h0M731.8 725.0h0M479.2 603.4h0M410.9 682.6h0M642.8 730.8h0M550.2 600.7h0M563.4 707.7h0M433.0 805.9h0M395.5 599.4h0M556.3 747.4h0M648.6 754.0h0M693.2 765.7h0M681.9 786.2h0M581.6 692.2h0M623.1 950.7h0M537.5 909.2h0M448.6 664.7h0M586.6 706.2h0M558.5 618.3h0M380.0 456.7h0M644.0 679.5h0M485.7 504.7h0M691.3 809.8h0M678.6 682.4h0M635.9 863.6h0M671.7 692.2h0M656.2 876.0h0M306.5 301.0h0M707.4 692.9h0M585.7 919.2h0M509.7 648.2h0M590.8 783.9h0M325.7 535.3h0M403.9 661.5h0M559.7 797.9h0M359.7 619.0h0M458.5 671.0h0M523.1 674.3h0M337.5 234.0h0M744.0 717.7h0M623.5 678.6h0M634.4 774.3h0M637.9 712.9h0M624.3 695.7h0M377.8 662.8h0M600.3 718.9h0M336.2 522.4h0M531.3 622.7h0M718.9 853.1h0M588.3 803.2h0M464.5 734.7h0M585.6 633.2h0M696.5 703.1h0M540.8 705.8h0M481.8 755.6h0M631.2 556.5h0M414.8 618.4h0M506.5 614.7h0M542.5 701.0h0M323.1 578.7h0M381.7 586.0h0M601.0 745.8h0M402.2 595.2h0M578.0 685.0h0M401.8 582.4h0M641.8 803.2h0M343.2 385.6h0M494.4 625.8h0M496.5 527.0h0M488.1 612.9h0M645.0 810.7h0M555.4 748.2h0M456.7 556.5h0M400.8 591.7h0M384.1 516.6h0M538.9 675.3h0M314.1 503.6h0M528.8 729.7h0M519.9 662.1h0M622.7 609.3h0M678.8 412.5h0M558.2 565.5h0M548.7 598.0h0M687.5 727.4h0M392.6 665.9h0M567.9 664.7h0M457.6 568.2h0M419.6 516.9h0M736.8 811.3h0M539.2 682.4h0M487.2 466.9h0M265.6 555.9h0M664.9 729.7h0M420.8 740.9h0M419.5 706.4h0M620.4 722.1h0M687.3 802.7h0M564.8 690.0h0M540.5 798.7h0M400.6 508.1h0M660.6 697.1h0M589.6 767.3h0M487.7 608.2h0M485.8 843.7h0M601.6 864.8h0M516.3 565.1h0M558.7 490.6h0M440.6 567.9h0M718.3 877.7h0M656.8 710.9h0M544.9 731.2h0M592.9 834.9h0M368.7 728.8h0M561.5 777.1h0M620.5 745.5h0"/><path d="M581.9 741.7h0M571.5 846.7h0M480.9 765.3h0M602.3 787.7h0M596.6 650.3h0M534.9 554.8h0M568.8 824.7h0M557.9 878.5h0M440.9 586.3h0M561.3 594.4h0M365.8 243.2h0M594.6 611.0h0M421.1 710.4h0M521.0 816.9h0M697.1 688.6h0M719.4 759.5h0M267.1 524.9h0M418.8 656.5h0M578.5 744.2h0M530.8 694.9h0M564.3 740.7h0M477.9 561.5h0M488.9 474.9h0M427.9 623.9h0M612.4 574.9h0M594.8 652.6h0M435.0 479.3h0M541.3 755.3h0M539.8 581.0h0M572.9 677.9h0M729.5 755.4h0M559.2 770.4h0M544.1 630.7h0M429.0 637.6h0M343.2 540.3h0M490.1 534.8h0M457.5 843.8h0M680.1 767.9h0M387.5 275.0h0M500.0 606.3h0M610.8 705.0h0M414.5 537.8h0M509.4 666.4h0M508.7 810.1h0M669.1 781.6h0M402.3 533.7h0M412.5 629.6h0M404.8 630.9h0M503.1 671.7h0M506.8 777.3h0M553.8 599.6h0M523.3 713.5h0M577.5 765.7h0M595.9 708.9h0M652.9 723.0h0M426.6 600.2h0M567.4 827.6h0M627.5 805.5h0M600.5 815.8h0M574.9 675.1h0M379.1 611.1h0M751.0 763.2h0M420.4 851.7h0M467.1 557.3h0M634.3 664.5h0M580.7 778.6h0M488.4 671.1h0M528.1 556.9h0M544.2 839.8h0M527.6 443.3h0M440.5 636.4h0M428.1 688.5h0M560.1 673.3h0M404.3 616.0h0M680.9 754.0h0M526.4 762.0h0M621.2 895.5h0M803.9 798.5h0M575.7 656.8h0M549.4 878.6h0M387.2 606.2h0M707.8 763.6h0M658.7 683.1h0M755.0 812.2h0M490.9 716.1h0M672.0 666.9h0M300.8 476.8h0M430.5 519.1h0M502.4 544.1h0M406.3 726.6h0M697.1 897.9h0M699.3 774.5h0M627.0 928.2h0M591.8 452.9h0M285.4 510.3h0M576.2 845.3h0M414.1 533.1h0M610.7 755.8h0M436.6 843.4h0M765.0 822.5h0M465.8 687.4h0M389.5 653.2h0M593.1 526.4h0M443.3 539.5h0M524.4 762.1h0M325.8 558.9h0M574.4 780.0h0M520.7 543.6h0M654.8 645.9h0M323.2 581.2h0M572.7 600.9h0M580.2 636.8h0M528.3 659.4h0M463.2 595.0h0M441.3 811.7h0M362.5 388.6h0M365.0 502.5h0M511.0 688.7h0M533.6 750.7h0M535.5 775.5h0M689.8 811.8h0M334.6 613.7h0M514.5 716.8h0M586.2 696.3h0M516.7 693.3h0M837.8 772.2h0M454.2 519.1h0M549.1 892.7h0M532.6 691.4h0M541.1 695.0h0M554.7 611.8h0M565.7 634.5h0M542.1 609.9h0M621.3 735.1h0M499.7 671.6h0M525.2 623.1h0M503.0 546.7h0M447.1 692.2h0M494.3 551.5h0M557.9 731.6h0M599.4 582.9h0M576.1 850.8h0M423.8 506.4h0M458.7 798.2h0M615.3 779.6h0M652.2 747.3h0M614.2 682.0h0M563.8 646.5h0M542.5 688.7h0M552.3 754.3h0M286.0 499.7h0M551.1 812.3h0M635.3 897.9h0M485.1 484.1h0M600.7 762.1h0M482.6 599.4h0M618.3 658.3h0M499.9 685.9h0M637.3 556.5h0M459.4 770.1h0M419.0 369.0h0M436.4 471.4h0M472.6 556.0h0M660.8 660.2h0M558.1 597.4h0M634.7 907.8h0M382.3 521.2h0M360.3 496.2h0M483.3 623.0h0M584.4 627.1h0M527.7 432.0h0M464.3 700.9h0M488.5 582.9h0M673.9 784.4h0M375.1 357.3h0M304.1 528.1h0M312.7 644.0h0M546.1 809.3h0M561.7 686.4h0M649.8 652.0h0M606.6 614.0h0M444.2 544.4h0M610.4 796.0h0M460.0 446.6h0M797.4 740.4h0M559.4 576.0h0M413.3 563.1h0M476.1 669.9h0M660.1 864.6h0M597.1 816.5h0M373.6 725.6h0M831.2 965.8h0M806.6 761.9h0M553.1 579.7h0M579.1 574.4h0M637.3 862.2h0M527.4 772.0h0M438.1 632.6h0M570.9 522.8h0M636.9 730.0h0M587.1 805.9h0M591.9 712.5h0M541.5 764.0h0M780.5 912.3h0M677.2 543.7h0M521.0 625.1h0M629.4 713.3h0M642.6 790.4h0M421.7 599.9h0M368.2 596.4h0M492.7 786.6h0M492.4 567.2h0M460.7 555.4h0M510.0 711.8h0M518.6 766.7h0M561.5 679.6h0M622.3 602.8h0M588.6 757.9h0M527.4 626.9h0M478.9 628.2h0M343.2 287.0h0M704.8 768.7h0M511.1 575.1h0M454.7 685.2h0M533.3 684.8h0M500.0 790.4h0M320.4 539.8h0M367.6 545.8h0M563.1 598.5h0M445.4 657.3h0M593.0 573.7h0M550.0 638.1h0M409.8 605.0h0M464.9 652.2h0M577.2 689.3h0M716.6 574.1h0M773.7 635.5h0M416.5 743.4h0M533.9 728.8h0M490.7 845.6h0M535.0 612.4h0M502.1 864.5h0M391.1 709.1h0M648.3 888.8h0M487.5 695.5h0M430.2 618.9h0M457.4 351.9h0M623.0 728.6h0M483.1 639.6h0M693.2 619.1h0M635.0 865.7h0M640.4 902.2h0M457.7 672.5h0M493.7 708.8h0M514.3 682.9h0M562.7 846.6h0M634.9 852.9h0M554.0 813.7h0M692.8 764.6h0M464.8 664.0h0M400.9 723.8h0M799.5 941.6h0M523.7 608.0h0M524.8 691.3h0M601.2 777.6h0M746.3 666.2h0M785.4 799.0h0M443.1 671.1h0M630.6 620.2h0M435.2 601.3h0M418.2 633.4h0M777.0 732.3h0M517.8 590.9h0M449.3 719.0h0M468.1 578.8h0M510.7 651.5h0M641.3 934.1h0M604.8 971.5h0M524.4 780.8h0M524.2 676.7h0M683.3 659.2h0M713.0 668.0h0M667.7 710.5h0M571.3 548.7h0M454.9 665.9h0M525.2 631.9h0M405.4 693.4h0M468.4 557.2h0M354.3 638.1h0M528.5 749.3h0M353.2 254.2h0M538.2 735.6h0M775.2 811.8h0M493.6 847.8h0M225.5 492.7h0M347.0 512.6h0M528.5 622.7h0M448.4 676.1h0M527.9 572.3h0M573.6 628.2h0M713.9 790.9h0M634.3 704.3h0M530.5 520.3h0M476.4 683.5h0M426.1 780.6h0M440.8 801.7h0M526.7 612.3h0M661.0 596.5h0M536.1 813.5h0M600.9 839.3h0M517.4 655.7h0M625.8 757.4h0M598.8 744.4h0M585.7 756.2h0M523.4 647.5h0M478.7 486.3h0M543.0 683.7h0M614.8 914.4h0M552.4 663.7h0M673.2 846.1h0M659.7 694.7h0M560.3 688.8h0M414.0 722.4h0M525.0 800.0h0M509.6 757.3h0M578.6 702.0h0M557.2 650.4h0M447.4 662.7h0M390.1 616.5h0M647.8 560.1h0M555.6 577.9h0M421.7 625.6h0M451.2 258.0h0M428.1 573.8h0M517.1 737.7h0M544.5 694.1h0M532.1 782.9h0M564.6 828.3h0M759.0 823.5h0M464.0 684.5h0M381.1 593.3h0M493.1 714.4h0M626.9 800.1h0M609.5 691.4h0M596.0 779.9h0M478.0 601.7h0M679.9 797.0h0M674.4 637.5h0M583.4 788.6h0M520.0 540.4h0M696.4 748.4h0M374.6 747.6h0M601.3 652.4h0M333.6 592.0h0M604.0 719.1h0M459.6 580.8h0M633.3 665.5h0M667.6 651.8h0M669.2 817.6h0M677.9 807.5h0M518.8 887.3h0M536.3 679.8h0M434.6 636.9h0M658.1 928.4h0M496.3 679.2h0M500.8 646.8h0M583.6 881.6h0M336.0 634.6h0M613.3 615.8h0M571.0 658.5h0M527.3 608.5h0M586.1 641.0h0M717.0 806.5h0M329.5 730.2h0M573.5 819.7h0M540.2 790.6h0M566.9 789.3h0M541.1 713.0h0M568.5 797.3h0M700.0 880.9h0M488.4 672.4h0"/><path d="M444.1 513.5h0M605.5 762.5h0M586.0 785.6h0M398.7 657.6h0M647.4 832.4h0M397.7 506.0h0M629.5 892.8h0M593.4 790.7h0M566.4 891.2h0M695.3 762.6h0M450.8 579.4h0M620.9 653.0h0M543.4 786.5h0M537.1 701.3h0M542.8 736.0h0M513.5 701.3h0M641.8 817.2h0M530.8 432.6h0M367.3 662.0h0M628.1 752.2h0M609.2 668.3h0M431.1 540.3h0M555.9 522.6h0M366.5 602.3h0M540.9 773.2h0M495.3 650.1h0M490.1 525.9h0M465.4 556.5h0M624.6 785.9h0M391.3 546.3h0M360.4 446.1h0M561.5 809.1h0M549.1 750.6h0M625.0 567.6h0M738.1 624.2h0M510.3 807.3h0M574.7 587.5h0M349.1 665.9h0M661.8 653.8h0M565.8 854.4h0M645.8 883.8h0M536.4 575.1h0M491.4 484.6h0M732.7 656.3h0M719.6 755.5h0M571.1 675.7h0M448.0 643.7h0M520.7 725.9h0M662.4 719.3h0M523.5 533.4h0M592.1 882.1h0M556.0 571.0h0M564.3 570.0h0M477.3 792.0h0M431.0 613.7h0M409.9 525.8h0M597.0 810.0h0M425.1 660.2h0M507.5 584.9h0M579.8 645.3h0M705.5 694.4h0M448.4 762.1h0M682.8 869.8h0M563.8 790.1h0M501.6 746.8h0M563.1 744.2h0M584.0 672.4h0M594.9 643.2h0M408.0 598.0h0M547.0 656.0h0M623.1 586.8h0M470.9 622.0h0M638.2 820.2h0M392.9 756.1h0M530.2 798.7h0M611.2 664.1h0M705.6 836.7h0M517.4 663.0h0M506.4 747.4h0M670.7 648.9h0M671.2 718.9h0M520.4 766.2h0M606.5 881.4h0M638.5 686.6h0M475.6 685.6h0M767.7 883.8h0M569.9 693.9h0M569.5 712.6h0M275.4 464.4h0M464.6 512.4h0M415.6 482.4h0M449.6 681.4h0M727.4 716.6h0M337.5 592.3h0M678.8 735.3h0M608.3 778.0h0M660.4 546.0h0M542.6 717.5h0M633.7 940.1h0M654.3 728.7h0M528.2 681.5h0M385.9 724.6h0M695.5 428.8h0M445.4 591.1h0M743.1 931.8h0M599.3 738.9h0M544.3 703.4h0M329.2 553.3h0M513.2 763.6h0M666.5 749.4h0M414.6 773.1h0M765.0 652.6h0M531.8 568.5h0M456.7 761.0h0M589.9 812.7h0M626.9 833.8h0M734.7 745.4h0M524.7 530.5h0M590.5 740.8h0M465.0 504.5h0M513.8 734.7h0M359.4 700.4h0M628.9 842.3h0M523.5 871.0h0M448.7 699.5h0M559.4 540.9h0M510.8 578.7h0M384.8 552.6h0M591.4 781.4h0M578.5 485.6h0M501.8 650.1h0M539.4 696.2h0M734.3 799.5h0M595.2 675.9h0M457.0 650.5h0M407.0 541.6h0M583.7 632.5h0M522.8 791.0h0M388.9 626.8h0M455.4 616.2h0M639.3 831.2h0M625.0 713.3h0M656.2 838.4h0M563.0 585.7h0M543.9 607.7h0M449.4 440.7h0M563.5 809.3h0M517.2 629.7h0M547.0 759.9h0M557.6 682.6h0M556.5 831.5h0M515.8 798.2h0M318.2 482.6h0M633.1 653.9h0M618.9 727.1h0M298.3 534.7h0M324.4 507.3h0M588.6 789.9h0M467.4 450.5h0M302.3 370.2h0M448.7 494.9h0M390.9 550.2h0M559.3 734.4h0M319.3 625.9h0M627.0 717.0h0M598.4 734.2h0M495.8 763.4h0M508.0 391.3h0M424.2 837.5h0M779.9 690.6h0M611.4 680.4h0M528.2 472.7h0M436.3 540.2h0M709.7 688.4h0M527.0 790.6h0M561.0 662.3h0M553.0 717.6h0M613.8 697.9h0M543.3 801.2h0M613.1 724.3h0M667.0 478.5h0M638.3 756.1h0M314.4 438.9h0M604.0 697.2h0M545.8 610.6h0M549.7 770.4h0M343.2 622.6h0M598.2 838.6h0M426.3 715.8h0M637.2 841.6h0M506.1 640.9h0M561.1 798.3h0M578.4 822.7h0M556.6 717.6h0M356.0 596.0h0M626.0 807.0h0M588.2 744.0h0M562.5 592.9h0M658.7 755.2h0M459.2 831.7h0M306.2 572.6h0M524.3 624.4h0M614.0 605.8h0M600.4 670.5h0M568.0 778.7h0M433.9 591.2h0M555.3 811.8h0M454.9 585.7h0M353.0 487.1h0M541.9 663.4h0M629.4 892.2h0M502.1 792.7h0M536.0 646.7h0M634.0 830.7h0M654.1 746.5h0M663.2 719.1h0M741.5 734.0h0M717.3 772.5h0M684.4 805.1h0M424.1 588.5h0M652.1 801.0h0M503.9 586.2h0M408.9 533.1h0M465.3 806.9h0M528.3 819.9h0M567.4 734.7h0M681.1 837.8h0M751.2 630.7h0M615.7 679.6h0M511.1 691.8h0M321.2 440.8h0M654.7 829.3h0M803.0 821.6h0M498.7 586.3h0M407.9 548.8h0M536.5 697.3h0M425.5 531.4h0M423.0 582.8h0M447.3 656.0h0M609.0 591.2h0M541.1 558.2h0M494.0 788.3h0M271.5 505.1h0M530.6 666.8h0M640.4 771.3h0M554.7 653.8h0M436.1 593.8h0M554.4 859.4h0M713.4 635.1h0M584.9 711.9h0M381.8 422.0h0M498.9 601.5h0M407.1 620.7h0M411.9 533.3h0M649.5 724.3h0M610.2 626.3h0M546.5 538.2h0M596.5 770.8h0M666.5 626.1h0M669.1 867.6h0M362.0 501.7h0M645.2 685.6h0M446.4 574.7h0M621.9 779.9h0M553.3 865.9h0M652.6 720.3h0M636.5 674.7h0M536.7 676.1h0M514.8 577.9h0M703.0 685.0h0M458.6 558.0h0M431.4 521.1h0M495.4 893.6h0M576.2 567.4h0M638.9 495.6h0M440.3 828.5h0M531.7 717.9h0M398.7 377.7h0M463.4 678.0h0M585.2 616.2h0M497.0 844.8h0M777.9 866.7h0M349.7 704.3h0M510.2 697.7h0M875.8 634.5h0M545.3 575.9h0M728.8 858.5h0M639.9 799.1h0M731.5 806.5h0M606.6 788.0h0M532.5 811.4h0M497.0 743.8h0M541.6 812.8h0M533.4 610.5h0M605.5 733.7h0M551.4 707.1h0M480.7 669.1h0M447.2 637.2h0M730.5 863.0h0M327.1 591.2h0M531.2 693.4h0M580.8 643.3h0M677.6 875.1h0M508.8 777.4h0M438.2 596.7h0M573.6 801.8h0M637.5 710.9h0M487.5 695.3h0M763.4 806.2h0M656.0 574.2h0M524.8 771.1h0M521.6 629.5h0M494.7 608.2h0M694.3 707.4h0M619.0 810.8h0M494.7 536.2h0M648.2 741.8h0M505.0 752.2h0M810.7 682.8h0M451.1 675.5h0M582.5 610.1h0M476.7 617.5h0M542.2 819.1h0M421.9 655.8h0M663.2 860.8h0M325.4 552.2h0M546.2 751.2h0M555.0 874.2h0M707.2 930.1h0M523.6 634.3h0M478.3 667.2h0M470.6 547.7h0M496.0 611.8h0M510.0 622.9h0M449.0 622.5h0M614.6 873.8h0M537.6 556.2h0M364.0 593.5h0M484.4 707.5h0M507.2 690.4h0M479.3 503.8h0M343.6 568.9h0M555.8 471.7h0M413.0 458.4h0M630.5 821.9h0M512.7 763.7h0M477.8 714.7h0M499.6 718.4h0M592.5 768.4h0M550.3 815.1h0M545.3 558.0h0M577.2 791.5h0M777.9 761.2h0M508.8 557.0h0M590.8 682.7h0M432.4 657.5h0M580.0 726.4h0M581.8 748.0h0M736.4 755.8h0M551.6 666.1h0M770.2 817.4h0M623.9 907.3h0M481.5 588.8h0M506.7 555.5h0M448.4 619.1h0M573.1 830.2h0M538.1 662.6h0M405.3 348.3h0M528.3 562.5h0M707.4 822.4h0M550.8 555.5h0M645.8 650.7h0M624.8 757.3h0M523.6 532.4h0M590.8 872.4h0M545.9 626.2h0M842.3 674.8h0M279.3 401.4h0M605.1 745.0h0M504.5 514.4h0M430.4 683.6h0"/><path d="M326.8 670.1h0M589.6 725.5h0M604.5 730.3h0M539.0 601.6h0M389.0 513.3h0M609.0 849.2h0M347.8 604.8h0M588.2 841.4h0M533.2 713.5h0M635.3 724.4h0M749.0 792.1h0M409.5 739.9h0M543.1 549.4h0M708.8 693.1h0M468.8 624.5h0M411.0 471.8h0M574.2 676.4h0M538.3 643.6h0M811.3 791.3h0M606.0 869.7h0M628.5 830.8h0M470.9 591.1h0M439.6 651.8h0M512.1 620.4h0M541.7 599.1h0M683.9 681.5h0M527.5 517.3h0M648.7 642.5h0M385.8 759.5h0M453.7 702.4h0M646.1 761.1h0M564.8 901.7h0M737.1 665.3h0M679.2 727.3h0M538.3 587.7h0M233.2 349.8h0M515.4 570.1h0M514.5 734.1h0M412.5 479.9h0M426.8 643.2h0M709.5 825.6h0M629.6 534.4h0M578.2 789.1h0M540.4 563.7h0M548.7 763.4h0M560.5 651.0h0M611.8 785.2h0M501.8 717.2h0M472.4 496.2h0M661.4 649.5h0M641.0 806.4h0M582.9 969.7h0M709.2 783.2h0M420.2 719.7h0M549.8 673.1h0M458.2 609.8h0M474.5 633.5h0M458.9 664.5h0M459.4 717.0h0M468.1 480.7h0M480.0 573.7h0M442.4 713.9h0M734.6 772.6h0M679.0 651.3h0M551.4 620.9h0M558.1 484.0h0M557.9 727.4h0M641.7 817.2h0M625.7 707.9h0M394.2 625.1h0M345.6 469.5h0M584.4 639.8h0M565.5 716.7h0M487.7 621.7h0M491.5 526.5h0M472.8 744.2h0M531.1 639.6h0M641.4 820.1h0M546.2 748.5h0M698.0 880.5h0M292.0 657.5h0M569.5 791.2h0M641.8 756.5h0M512.3 804.2h0M325.3 496.0h0M600.1 685.6h0M560.5 559.7h0M356.4 580.3h0M384.3 570.8h0M573.5 852.5h0M612.0 459.0h0M624.8 748.8h0M630.5 769.6h0M416.1 557.7h0M564.3 784.0h0M625.9 842.1h0M607.8 821.5h0M561.7 559.9h0M450.6 599.3h0M470.6 918.2h0M584.3 535.1h0M254.4 578.4h0M626.5 701.4h0M524.3 696.0h0M501.7 655.9h0M278.0 751.0h0M504.7 657.5h0M375.2 523.1h0M632.9 619.5h0M622.7 708.9h0M678.2 877.0h0M475.3 700.5h0M572.6 679.4h0M332.6 524.6h0M442.6 772.3h0M451.3 530.6h0M431.0 593.2h0M610.1 780.3h0M587.8 642.0h0M761.2 748.4h0M780.7 837.7h0M638.1 562.6h0M444.0 702.3h0M715.1 710.1h0M496.2 733.2h0M609.4 741.5h0M600.4 812.5h0M571.0 569.1h0M532.5 741.4h0M421.7 591.9h0M550.4 836.0h0M591.1 765.5h0M654.1 892.1h0M586.2 644.5h0M347.3 666.9h0M460.6 686.8h0M599.7 598.2h0M628.1 682.6h0M520.0 736.5h0M450.6 696.7h0M668.0 750.3h0M604.8 716.8h0M510.0 516.9h0M957.8 824.2h0M606.0 575.6h0M390.6 638.6h0M593.9 713.9h0M531.4 616.0h0M454.6 436.1h0M524.1 592.1h0M445.4 709.6h0M752.8 839.2h0M567.4 954.5h0M568.5 634.6h0M459.0 756.7h0M509.1 661.5h0M458.2 667.2h0M587.1 870.6h0M474.8 645.5h0M569.2 688.5h0M717.9 688.4h0M300.4 495.3h0M438.5 672.7h0M501.3 607.3h0M685.5 823.0h0M418.1 596.5h0M610.6 705.0h0M532.6 581.1h0M472.8 727.9h0M531.2 689.3h0M461.9 598.4h0M478.2 616.2h0M608.4 765.6h0M416.3 492.7h0M554.0 793.2h0M405.2 374.7h0M603.9 834.9h0M427.2 727.2h0M579.5 343.0h0M489.1 680.0h0M433.3 683.7h0M720.8 768.4h0M554.6 649.6h0M569.6 666.8h0M495.1 614.0h0M682.2 860.9h0M655.3 673.0h0M793.7 645.7h0M460.9 809.0h0M377.2 632.6h0M693.8 819.5h0M471.0 559.7h0M516.2 605.4h0M467.6 557.1h0M496.8 575.3h0M484.8 599.5h0M569.5 645.2h0M625.4 737.8h0M371.1 589.9h0M580.7 821.5h0M460.9 534.4h0M551.8 843.4h0M553.8 607.2h0M591.2 932.9h0M619.2 860.0h0M570.8 667.2h0M792.0 680.5h0M592.3 778.8h0M536.1 788.6h0M632.7 658.1h0M460.9 584.0h0M566.3 551.1h0M519.1 694.3h0M630.5 896.9h0M507.0 782.6h0M598.5 804.7h0M739.6 770.3h0M587.2 652.4h0M379.8 548.5h0M518.0 816.2h0M513.0 266.8h0M542.0 693.6h0M526.4 721.9h0M674.9 703.7h0M417.5 694.3h0M617.9 784.7h0M421.4 628.5h0M649.1 820.4h0M515.8 788.7h0M713.8 746.1h0M655.7 678.1h0M785.9 820.4h0M574.5 707.3h0M527.9 691.2h0M227.9 433.3h0M422.1 517.6h0M507.5 573.1h0M391.7 567.0h0M648.0 798.4h0M717.2 788.2h0M403.4 427.7h0M519.1 675.1h0M503.6 672.7h0M708.4 850.0h0M592.4 673.8h0M540.1 677.8h0M426.0 690.8h0M522.9 628.7h0M494.0 512.3h0M266.5 298.8h0M891.2 708.0h0M503.8 799.1h0M524.9 608.6h0M613.4 560.1h0M519.4 774.7h0M547.0 633.1h0M531.9 578.8h0M396.8 648.5h0M639.9 685.5h0M521.9 637.3h0M496.2 715.1h0M544.9 832.3h0M522.8 724.1h0M583.5 536.7h0M544.9 656.7h0M643.6 611.8h0M405.5 740.1h0M505.0 599.1h0M523.1 582.5h0M277.1 516.5h0M802.5 937.7h0M475.9 661.6h0M745.8 703.1h0M238.4 447.3h0M203.2 484.3h0M756.5 746.6h0M469.4 592.7h0M421.8 607.6h0M631.7 875.4h0M511.7 500.9h0M488.3 465.5h0M458.4 424.7h0M526.5 653.2h0M579.4 847.4h0M589.6 823.6h0M504.2 553.4h0M410.5 630.3h0M457.7 655.3h0M499.2 661.6h0M675.0 843.8h0M355.7 527.2h0M484.7 865.0h0M704.4 789.3h0M485.9 631.3h0M478.2 647.5h0M631.9 765.8h0M475.2 499.9h0M500.8 694.6h0M805.3 863.7h0M595.1 580.8h0M507.5 695.7h0M554.0 669.4h0M485.1 531.2h0M462.8 439.7h0M699.3 909.5h0M397.5 697.1h0M377.2 611.1h0M750.4 758.2h0M612.1 776.8h0M487.6 577.7h0M513.5 590.1h0M568.1 663.4h0M618.6 683.8h0M633.3 672.6h0M605.8 935.1h0M588.1 735.8h0M644.7 717.6h0M664.4 770.4h0M545.2 875.7h0M278.2 511.5h0M727.0 1020.2h0M425.4 697.7h0M321.8 546.7h0M497.9 623.8h0M591.2 788.9h0M505.1 540.5h0M490.3 624.5h0M424.9 598.3h0M570.5 569.8h0M567.6 614.1h0M574.2 722.9h0M577.4 788.2h0M640.4 911.9h0M505.9 786.8h0M676.1 599.1h0M611.9 642.7h0M469.7 796.6h0M448.7 615.7h0M368.3 418.2h0M899.0 736.8h0M688.1 799.6h0M506.2 728.9h0M428.3 669.7h0M480.0 453.9h0M633.7 734.7h0M379.4 522.9h0M696.3 702.4h0M415.5 687.3h0M590.7 592.2h0M616.6 848.6h0M495.1 751.7h0M605.3 671.4h0M408.1 713.5h0M588.3 602.4h0M586.1 607.2h0M409.1 810.7h0M625.9 863.8h0M488.8 791.6h0M568.6 578.4h0M540.2 685.1h0M489.9 703.3h0M603.0 816.7h0M408.6 663.6h0M542.9 637.8h0M576.7 887.8h0M473.8 934.3h0M563.9 757.1h0M648.3 702.4h0M742.6 704.2h0M509.1 551.9h0M398.0 561.9h0M708.3 798.5h0M700.4 976.2h0M552.7 678.6h0M549.9 709.4h0M509.9 681.0h0M608.9 625.7h0M599.5 670.3h0M594.5 685.6h0M506.4 529.1h0M497.8 649.1h0"/><path d="M539.7 730.2h0M578.8 464.2h0M484.7 599.3h0M437.0 633.9h0M818.1 839.0h0M554.0 812.3h0M512.9 673.7h0M718.5 686.3h0M576.8 949.1h0M604.7 679.5h0M534.8 692.7h0M554.6 832.0h0M474.4 758.8h0M615.2 640.0h0M743.9 684.5h0M405.1 706.9h0M760.4 787.5h0M531.6 646.1h0M246.9 452.7h0M560.3 757.8h0M588.3 943.4h0M589.1 911.1h0M488.5 700.8h0M482.1 589.6h0M493.1 604.8h0M567.3 853.5h0M639.2 574.0h0M605.1 767.0h0M433.1 762.8h0M552.4 848.2h0M536.1 614.3h0M405.5 527.8h0M398.1 763.2h0M490.3 796.2h0M324.7 483.3h0M364.0 461.3h0M582.7 631.9h0M716.6 820.0h0M344.9 537.7h0M370.3 483.9h0M608.0 767.3h0M476.7 548.8h0M616.8 750.9h0M304.9 469.1h0M546.7 819.0h0M304.7 554.2h0M349.2 551.2h0M510.6 662.9h0M581.6 735.0h0M476.1 579.6h0M463.9 702.2h0M646.0 773.0h0M519.3 795.0h0M595.6 608.3h0M617.2 794.8h0M567.3 689.8h0M484.0 814.8h0M473.5 508.4h0M441.9 569.3h0M483.4 625.4h0M561.3 865.2h0M509.1 757.5h0M472.3 467.1h0M475.1 823.5h0M587.0 773.4h0M451.9 725.0h0M467.6 703.0h0M503.5 805.5h0M560.5 652.4h0M775.5 827.5h0M400.1 567.7h0M454.1 501.0h0M367.2 583.8h0M333.8 547.0h0M458.4 561.8h0M425.7 561.4h0M482.9 690.9h0M467.2 679.1h0M525.8 684.5h0M584.9 691.6h0M557.6 682.8h0M603.9 655.7h0M751.8 806.9h0M519.0 464.8h0M760.6 566.7h0M692.7 876.7h0M648.0 685.3h0M494.0 753.2h0M565.7 911.0h0M488.7 505.2h0M540.5 545.4h0M540.5 847.0h0M368.5 655.4h0M554.3 833.7h0M525.4 732.8h0M447.8 540.4h0M555.2 640.7h0M494.6 705.1h0M628.8 821.1h0M557.3 717.1h0M354.8 539.2h0M852.8 723.4h0M464.1 501.7h0M476.7 482.7h0M614.5 752.0h0M465.3 754.5h0M947.5 782.5h0M728.9 584.1h0M340.0 544.0h0M552.4 581.7h0M583.3 632.4h0M577.4 509.1h0M472.5 766.6h0M523.2 831.8h0M848.6 865.3h0M484.5 801.9h0M434.9 565.0h0M577.5 737.6h0M522.1 662.0h0M571.7 696.0h0M630.7 626.9h0M327.2 581.8h0M562.5 498.4h0M613.2 715.4h0M235.4 588.1h0M427.5 502.9h0M427.5 613.6h0M278.9 641.4h0M665.6 702.0h0M629.4 818.6h0M680.9 819.9h0M607.4 609.5h0M241.2 282.5h0M610.3 699.2h0M658.5 667.7h0M579.6 863.6h0M416.3 594.6h0M696.5 699.2h0M606.4 741.6h0M492.1 637.8h0M481.5 810.0h0M395.6 695.1h0M322.6 714.2h0M365.4 511.4h0M643.6 737.2h0M467.5 646.6h0M599.2 727.7h0M432.2 644.3h0M737.4 700.1h0M644.6 721.4h0M436.3 672.4h0M391.8 389.2h0M467.2 648.2h0M602.9 743.6h0M340.7 575.1h0M426.4 490.5h0M503.9 730.3h0M530.3 916.9h0M540.8 632.7h0M487.8 749.2h0M468.7 801.4h0M553.5 835.4h0M372.1 560.4h0M644.2 710.2h0M490.8 672.6h0M618.7 773.9h0M673.0 792.4h0M458.3 641.0h0M498.7 579.2h0M564.7 634.3h0M419.5 564.8h0M595.4 602.2h0M460.2 620.9h0M494.0 864.8h0M593.4 771.7h0M488.5 808.8h0M680.6 897.6h0M547.1 776.5h0M619.9 798.7h0M518.5 653.8h0M498.2 675.6h0M422.3 636.0h0M535.4 710.0h0M648.7 697.4h0M491.2 683.0h0M651.4 718.6h0M607.8 753.2h0M553.1 626.4h0M481.0 461.7h0M625.8 613.6h0M516.1 730.6h0M591.0 756.4h0M658.1 873.5h0M571.5 704.9h0M580.0 695.6h0M416.6 646.1h0M561.8 699.2h0M533.8 587.5h0M442.6 673.2h0M326.8 563.5h0M608.0 699.9h0M461.3 704.1h0M351.0 593.9h0M624.1 775.0h0M662.7 765.7h0M585.8 763.6h0M504.3 742.6h0M428.2 576.5h0M612.2 772.2h0M429.1 809.8h0M516.3 688.0h0M527.1 689.0h0M490.9 726.2h0M502.1 805.2h0M456.0 593.3h0M493.2 794.0h0M315.5 522.0h0M425.4 632.8h0M357.1 444.7h0M743.3 615.6h0M717.1 754.1h0M775.6 762.4h0M802.9 792.7h0M629.3 747.2h0M599.4 721.8h0M704.7 707.8h0M470.5 783.5h0M414.1 633.3h0M500.6 779.4h0M442.4 560.0h0M557.4 749.4h0M600.8 734.7h0M548.8 745.9h0M292.2 564.3h0M515.3 864.9h0M473.6 623.6h0M472.5 605.4h0M537.2 614.5h0M424.3 524.8h0M664.0 745.8h0M542.2 824.7h0M534.6 724.1h0M607.4 643.7h0M410.3 549.3h0M543.2 733.2h0M617.0 744.9h0M397.2 534.1h0M545.0 867.7h0M653.9 668.1h0M434.1 780.9h0M579.2 808.4h0M489.3 763.4h0M550.2 713.6h0M567.3 877.0h0M402.9 389.7h0M504.3 491.2h0M561.6 687.2h0M505.3 671.9h0M581.9 773.0h0M466.2 469.6h0M515.9 660.5h0M384.6 639.1h0M468.7 620.2h0M580.4 646.3h0M509.0 799.1h0M482.6 619.7h0M450.2 679.1h0M748.2 883.2h0M442.5 557.1h0M497.2 539.1h0M773.7 667.6h0M710.6 796.7h0M524.7 668.7h0M631.6 794.7h0M535.7 647.0h0M673.6 846.3h0M434.9 541.5h0M701.9 651.2h0M613.2 600.0h0M341.2 628.8h0M287.2 515.6h0M403.6 591.1h0M654.3 785.4h0M299.7 442.9h0M286.3 557.5h0M446.7 502.4h0M465.0 684.0h0M518.1 733.0h0M557.2 719.5h0M772.9 867.9h0M650.6 776.9h0M456.0 584.2h0M324.9 524.8h0M434.4 890.2h0M530.2 512.7h0M750.5 783.6h0M584.2 669.0h0M760.3 793.9h0M615.1 716.7h0M595.9 792.1h0M711.1 632.2h0M588.3 799.2h0M590.2 589.2h0M537.7 527.4h0M583.9 778.2h0M417.2 504.7h0M553.4 657.0h0M530.4 887.7h0M620.5 692.2h0M501.7 720.8h0M242.7 420.3h0M542.8 581.1h0M624.5 827.3h0M500.1 714.3h0M560.7 782.6h0M379.7 572.4h0M403.5 556.1h0M675.0 726.1h0M606.2 680.7h0M500.0 804.9h0M493.8 578.5h0M514.5 652.0h0M458.9 594.3h0M419.7 603.8h0M492.3 665.4h0M478.4 631.0h0M574.3 665.3h0M685.5 790.2h0M535.5 692.2h0M667.7 900.1h0M725.3 880.0h0M688.5 829.4h0M494.6 630.3h0M451.1 516.5h0M463.2 700.0h0M566.0 555.8h0M719.0 775.4h0M569.3 692.9h0M468.4 676.3h0M689.3 797.4h0M600.8 681.5h0M598.9 822.4h0M560.5 810.6h0M539.6 876.0h0M521.1 714.1h0M466.7 731.8h0M776.3 807.7h0M631.7 703.9h0M650.9 823.7h0M638.9 758.2h0M577.3 619.3h0M647.1 762.4h0M479.4 681.2h0M587.2 742.3h0M340.3 670.4h0M291.8 378.6h0M449.4 539.6h0M528.0 649.2h0M485.9 531.6h0M503.9 593.1h0M566.7 693.8h0M485.9 744.1h0M701.8 947.2h0M391.9 569.3h0M473.3 805.2h0M862.1 837.2h0M654.6 644.1h0M518.4 591.9h0M475.1 580.8h0M636.0 652.2h0M452.5 800.3h0M660.5 828.8h0M493.8 540.3h0M539.9 821.1h0M607.0 835.5h0M609.5 919.8h0M622.0 748.2h0M489.7 543.2h0M471.6 580.5h0M707.2 678.5h0M534.9 730.2h0"/><path d="M644.4 826.0h0M417.4 521.9h0M701.3 701.2h0M636.2 733.0h0M574.6 798.4h0M596.3 660.0h0M667.7 647.6h0M491.8 666.1h0M469.1 817.7h0M467.6 611.0h0M590.6 870.6h0M500.7 746.1h0M746.8 854.5h0M477.5 651.3h0M268.3 420.3h0M492.3 466.3h0M570.9 750.0h0M395.1 535.1h0M576.6 684.4h0M474.6 740.0h0M579.9 661.0h0M515.5 673.4h0M545.9 805.4h0M478.1 560.0h0M523.2 775.2h0M496.8 736.3h0M636.3 585.4h0M586.7 665.0h0M581.4 761.5h0M599.4 815.8h0M567.1 625.3h0M543.3 647.3h0M530.6 695.0h0M527.0 544.9h0M379.1 619.0h0M518.9 545.6h0M481.7 592.0h0M486.4 835.7h0M386.6 514.5h0M577.8 815.6h0M481.5 548.9h0M807.0 645.4h0M517.1 727.2h0M496.8 582.2h0M497.0 461.8h0M496.4 710.5h0M651.0 658.5h0M476.0 487.6h0M629.0 810.3h0M452.1 671.5h0M622.1 795.6h0M513.1 836.2h0M676.3 678.5h0M514.3 608.2h0M729.5 820.4h0M382.5 551.5h0M591.4 672.5h0M720.9 702.6h0M551.8 584.0h0M428.4 499.4h0M634.6 626.3h0M516.6 626.5h0M702.9 702.7h0M411.3 623.6h0M508.9 704.1h0M604.7 525.8h0M654.6 508.3h0M401.5 489.6h0M503.5 685.6h0M609.8 623.9h0M795.5 511.8h0M288.1 593.8h0M462.2 516.4h0M408.4 660.1h0M393.1 664.8h0M677.4 828.2h0M459.7 406.6h0M607.2 743.5h0M573.7 669.9h0M270.6 502.3h0M487.5 611.0h0M514.5 484.9h0M597.1 863.3h0M570.6 675.7h0M614.0 726.1h0M478.6 679.9h0M523.4 629.0h0M617.9 900.6h0M633.9 679.1h0M661.6 775.2h0M612.2 638.8h0M565.9 622.9h0M616.0 750.8h0M653.9 556.4h0M502.8 640.5h0M388.1 480.4h0M641.7 694.0h0M525.3 535.4h0M450.9 348.8h0M669.2 650.0h0M579.3 898.7h0M374.2 504.2h0M579.3 852.3h0M487.5 700.6h0M567.3 551.5h0M327.5 673.2h0M504.4 564.6h0M305.2 441.7h0M601.4 638.2h0M601.6 761.4h0M674.0 799.6h0M534.3 676.7h0M466.8 635.8h0M690.1 863.8h0M234.5 420.1h0M581.5 868.4h0M474.1 698.4h0M600.2 795.2h0M531.1 558.9h0M633.1 650.2h0M505.1 737.4h0M421.2 507.3h0M689.6 912.0h0M409.5 646.8h0M516.2 658.2h0M520.3 702.6h0M652.4 640.5h0M571.6 730.1h0M384.4 604.3h0M685.3 974.0h0M532.8 766.4h0M414.9 594.9h0M626.2 726.1h0M614.7 858.6h0M595.5 924.4h0M632.1 863.5h0M597.1 645.1h0M814.4 772.0h0M543.2 502.6h0M555.3 629.0h0M420.4 626.3h0M552.9 843.3h0M502.8 623.0h0M518.4 787.3h0M555.1 686.9h0M639.3 756.3h0M530.6 740.6h0M518.4 524.9h0M645.7 892.4h0M598.9 617.2h0M569.1 505.8h0M368.0 614.2h0M571.8 799.3h0M618.3 741.6h0M476.2 518.7h0M774.5 687.7h0M661.6 651.2h0M589.6 604.5h0M502.1 442.6h0M599.5 758.9h0M492.8 860.5h0M638.6 632.1h0M459.6 704.2h0M557.0 715.6h0M694.8 872.0h0M460.1 698.5h0M615.7 709.1h0M465.9 457.4h0M680.4 593.5h0M755.6 652.3h0M620.3 739.9h0M662.5 688.5h0M610.3 626.8h0M560.5 586.0h0M499.3 534.7h0M621.9 669.0h0M620.4 710.3h0M288.1 528.9h0M565.4 875.5h0M492.1 653.9h0M562.0 658.0h0M433.6 469.5h0M715.8 723.1h0M552.4 794.8h0M445.2 587.0h0M591.2 760.1h0M511.4 661.6h0M532.2 831.8h0M616.4 807.8h0M558.9 678.9h0M588.1 629.1h0M374.2 515.4h0M371.0 634.1h0M445.2 832.4h0M615.0 981.9h0M778.3 765.1h0M531.8 751.9h0M370.9 750.0h0M516.5 884.4h0M558.9 752.7h0M460.7 603.6h0M458.2 633.5h0M666.9 786.7h0M274.5 409.0h0M543.6 686.2h0M487.6 767.5h0M410.2 489.4h0M778.7 699.9h0M434.0 693.4h0M339.3 557.1h0M605.3 772.5h0M649.6 706.4h0M569.2 641.5h0M533.0 621.9h0M398.1 483.1h0M593.1 568.6h0M853.1 829.2h0M546.8 587.7h0M529.9 817.0h0M801.0 855.7h0M564.2 681.0h0M551.3 549.5h0M437.0 514.9h0M611.5 745.4h0M631.2 835.4h0M495.8 457.6h0M456.8 696.8h0M462.2 647.9h0M492.2 596.4h0M475.8 773.0h0M571.4 687.0h0M531.5 688.8h0M676.4 691.0h0M421.2 575.4h0M769.5 602.8h0M620.3 758.4h0M511.7 723.8h0M597.5 705.7h0M407.4 424.6h0M577.3 730.4h0M569.7 774.9h0M553.5 778.6h0M428.7 663.4h0M629.2 737.6h0M734.6 831.6h0M482.2 779.7h0M652.6 703.3h0M459.6 634.0h0M678.9 847.3h0M553.7 599.7h0M734.9 556.6h0M626.5 799.3h0M876.8 746.6h0M585.3 818.2h0M555.1 708.9h0M606.8 689.8h0M365.4 570.6h0M676.6 688.2h0M506.8 432.6h0M493.0 574.7h0M621.4 791.2h0M629.2 808.1h0M483.8 759.7h0M751.9 920.7h0M534.8 564.5h0M567.0 726.8h0M542.0 736.9h0M633.8 527.3h0M631.4 596.0h0M525.7 719.6h0M302.0 624.2h0M534.3 689.2h0M426.8 594.5h0M510.5 647.4h0M375.4 445.0h0M469.3 658.3h0M621.7 677.9h0M478.3 668.1h0M716.3 688.0h0M658.7 726.8h0M490.5 580.6h0M572.0 681.2h0M463.8 741.7h0M621.6 643.7h0M565.2 718.9h0M577.1 777.7h0M570.0 542.2h0M521.4 613.1h0M693.0 633.0h0M422.3 523.6h0M499.6 774.3h0M442.8 483.4h0M662.0 415.5h0M555.6 652.7h0M511.4 689.8h0M200.5 612.8h0M511.6 762.3h0M566.4 728.9h0M607.6 894.8h0M637.3 820.9h0M691.9 797.1h0M437.7 509.3h0M441.5 539.4h0M650.8 706.1h0M558.9 832.4h0M630.9 654.2h0M614.3 725.7h0M580.3 588.5h0M464.0 849.8h0M607.1 635.7h0M469.4 575.0h0M725.1 762.9h0M409.9 508.6h0M738.2 650.3h0M515.8 789.2h0M328.4 438.7h0M525.6 654.8h0M606.2 770.9h0M480.3 520.8h0M483.3 688.8h0M601.3 742.5h0M574.5 890.4h0M539.2 855.9h0M506.7 656.7h0M446.8 534.8h0M582.5 653.7h0M552.2 797.6h0M411.3 604.9h0M551.7 647.0h0M475.6 702.9h0M520.7 625.1h0M581.6 617.0h0M531.3 724.0h0M508.8 578.3h0M574.7 671.8h0M604.0 595.2h0M408.0 407.4h0M633.2 592.7h0M561.6 595.9h0M454.8 631.7h0M491.8 752.8h0M772.3 912.7h0M566.8 775.3h0M502.0 691.6h0M340.8 728.5h0M437.4 704.5h0M514.5 709.6h0M533.9 535.0h0M531.7 598.6h0M510.3 664.3h0M570.1 834.0h0M635.1 639.2h0M525.0 798.8h0M557.0 785.2h0M281.0 263.8h0M511.3 511.4h0M613.5 550.4h0M304.2 579.9h0M711.5 747.7h0M586.5 661.7h0M426.7 478.9h0M381.5 526.2h0M577.0 741.3h0M826.5 813.5h0M549.2 799.9h0M602.5 938.6h0M550.8 888.9h0M552.8 865.8h0M541.7 566.3h0M664.3 766.5h0M501.6 646.6h0M598.1 697.8h0M564.4 650.7h0M608.0 768.3h0M494.0 633.3h0M506.4 613.7h0M534.2 714.8h0M530.4 636.0h0M702.3 830.2h0M643.4 801.9h0M761.8 686.8h0"/><path d="M510.0 445.2h0M496.4 645.3h0M525.1 704.2h0M545.1 806.8h0M548.0 689.8h0M676.5 695.5h0M727.3 850.6h0M380.4 604.4h0M495.9 864.3h0M646.0 579.9h0M607.8 739.0h0M425.9 724.5h0M599.1 874.0h0M665.3 891.1h0M503.5 610.6h0M682.6 740.9h0M542.8 846.4h0M395.6 358.0h0M590.1 768.0h0M494.3 616.2h0M359.3 648.1h0M492.9 761.4h0M698.4 809.0h0M692.8 781.4h0M469.6 411.1h0M670.5 803.9h0M545.0 697.6h0M719.0 852.3h0M471.9 743.9h0M605.3 640.8h0M666.7 795.9h0M615.5 827.6h0M533.5 741.9h0M350.1 658.9h0M417.0 591.4h0M439.8 657.5h0M535.1 790.4h0M696.0 695.2h0M586.5 555.9h0M449.1 681.7h0M322.8 488.4h0M317.6 574.7h0M545.9 579.9h0M636.9 949.3h0M642.3 691.6h0M451.9 437.2h0M561.2 967.6h0M575.8 584.1h0M541.3 631.6h0M396.1 602.5h0M519.9 639.1h0M591.5 581.6h0M709.0 793.5h0M670.2 677.5h0M578.1 818.7h0M478.5 581.9h0M683.9 608.0h0M516.3 693.2h0M541.8 502.6h0M312.7 623.4h0M440.1 584.2h0M431.7 677.1h0M588.6 622.3h0M517.0 683.6h0M514.6 840.0h0M458.1 491.2h0M533.7 618.8h0M620.6 763.2h0M561.9 666.5h0M677.9 806.9h0M604.0 776.4h0M525.6 745.7h0M669.5 944.8h0M619.4 596.2h0M621.9 725.1h0M415.6 570.2h0M590.3 671.4h0M439.3 638.0h0M506.2 581.4h0M771.9 783.0h0M637.1 722.9h0M467.2 760.3h0M598.2 737.3h0M429.9 698.9h0M635.2 831.8h0M741.7 756.8h0M378.1 503.2h0M885.5 863.8h0M494.4 686.5h0M651.1 700.1h0M389.3 601.0h0M651.4 744.5h0M521.7 826.0h0M506.0 731.9h0M735.6 738.3h0M491.3 644.6h0M448.2 532.8h0M552.6 834.7h0M444.4 363.7h0M503.2 779.5h0M469.3 481.7h0M552.2 455.9h0M712.1 732.5h0M234.4 379.6h0M603.2 751.5h0M504.6 789.6h0M392.3 495.2h0M588.6 911.3h0M599.7 716.9h0M575.6 738.0h0M469.9 704.4h0M604.8 708.7h0M544.3 615.0h0M458.2 607.0h0M324.4 645.5h0M562.2 675.4h0M536.3 797.7h0M553.5 592.3h0M486.3 666.2h0M450.4 677.9h0M620.1 871.0h0M485.1 717.3h0M374.8 501.0h0M428.6 557.0h0M681.2 407.0h0M478.4 611.1h0M663.7 866.1h0M588.8 747.0h0M392.6 775.6h0M653.2 795.4h0M544.1 747.2h0M424.3 540.5h0M722.0 834.2h0M338.2 453.2h0M493.5 690.2h0M379.7 592.7h0M421.4 602.6h0M621.6 739.1h0M594.4 576.9h0M653.6 725.2h0M461.7 811.5h0M477.6 547.4h0M453.7 736.0h0M433.2 726.9h0M486.6 579.9h0M301.0 532.9h0M527.2 746.4h0M345.0 628.9h0M515.5 616.0h0M732.1 771.8h0M485.3 540.2h0M497.7 588.3h0M715.6 799.7h0M526.9 755.6h0M456.2 693.0h0M565.2 727.4h0M482.8 842.5h0M674.8 895.8h0M379.8 689.5h0M547.9 743.9h0M597.4 709.4h0M663.2 571.6h0M419.6 817.9h0M630.9 754.4h0M341.2 634.8h0M669.5 974.5h0M536.5 724.4h0M600.0 948.3h0M582.4 585.8h0M773.7 899.0h0M678.9 730.9h0M799.5 811.3h0M593.2 831.6h0M431.3 638.9h0M216.6 415.1h0M598.8 708.4h0M447.0 779.8h0M775.6 823.2h0M468.7 677.8h0M469.4 669.4h0M460.6 718.4h0M509.0 640.5h0M656.8 745.5h0M491.1 785.7h0M304.8 560.3h0M543.0 990.6h0M477.5 432.7h0M348.1 661.4h0M432.0 619.4h0M338.9 552.2h0M414.2 583.9h0M422.5 557.4h0M523.7 509.2h0M617.7 1015.0h0M638.6 733.7h0M584.1 612.1h0M560.1 438.5h0M648.3 662.7h0M339.0 527.9h0M476.5 763.6h0M563.8 815.3h0M340.3 656.7h0M726.2 736.8h0M583.1 684.7h0M811.9 798.6h0M515.5 676.3h0M897.2 895.8h0M628.8 720.6h0M571.1 693.6h0M479.3 632.9h0M508.3 677.4h0M667.0 772.6h0M421.4 620.8h0M612.0 606.7h0M393.8 613.2h0M516.5 643.9h0M340.6 618.8h0M512.6 711.0h0M533.7 550.4h0M507.1 663.0h0M582.2 692.2h0M488.6 473.4h0M476.3 528.3h0M594.2 743.9h0M476.2 826.8h0M638.2 879.3h0M522.8 584.7h0M238.3 425.6h0M465.0 643.5h0M733.2 580.4h0M531.8 803.9h0M410.3 602.8h0M413.4 544.7h0M668.4 647.5h0M558.7 682.3h0M636.9 806.9h0M490.9 687.4h0M545.3 708.0h0M616.2 800.4h0M525.0 592.6h0M521.6 684.1h0M503.3 665.3h0M461.0 652.1h0M507.8 743.5h0M643.8 830.0h0M657.9 874.4h0M501.6 744.9h0M525.5 620.4h0M322.4 591.2h0M626.9 829.0h0M449.6 506.1h0M356.2 440.3h0M423.5 589.9h0M437.9 495.7h0M642.4 756.4h0M549.2 778.6h0M554.6 646.4h0M667.8 628.0h0M648.0 514.9h0M701.1 842.7h0M604.8 737.4h0M766.0 835.8h0M600.6 421.9h0M507.7 553.0h0M491.1 713.8h0M530.7 753.9h0M646.1 635.1h0M579.6 680.7h0M457.9 707.3h0M432.8 750.5h0M540.9 692.6h0M567.6 953.1h0M511.7 541.9h0M430.8 410.9h0M649.4 670.9h0M642.2 854.2h0M656.7 808.8h0M346.2 656.6h0M609.5 744.8h0M539.7 728.3h0M801.3 881.6h0M453.4 373.3h0M381.0 526.7h0M561.3 690.1h0M571.5 667.8h0M406.2 642.1h0M416.1 667.6h0M607.9 776.3h0M484.6 701.2h0M555.9 593.1h0M394.5 744.1h0M649.2 656.1h0M501.3 673.7h0M635.4 856.4h0M515.5 766.4h0M627.3 859.6h0M690.5 575.3h0M459.6 405.8h0M571.0 634.7h0M676.3 904.1h0M639.1 656.7h0M497.1 696.3h0M476.1 661.0h0M365.6 554.6h0M735.8 662.0h0M523.3 683.5h0M364.0 536.4h0M674.4 786.4h0M216.1 563.3h0M726.1 758.4h0M529.6 493.7h0M654.6 629.3h0M461.5 439.2h0M567.4 559.4h0M441.8 714.4h0M770.9 805.3h0M500.4 724.6h0M398.5 600.7h0M737.0 908.7h0M523.5 650.0h0M557.8 708.7h0M482.9 625.7h0M573.2 662.5h0M531.9 599.4h0M639.0 790.7h0M608.2 796.8h0M538.5 579.5h0M539.1 645.2h0M638.3 718.2h0M603.3 785.6h0M550.8 821.0h0M614.9 620.8h0M785.8 785.6h0M503.7 586.1h0M462.6 656.1h0M521.0 695.2h0M437.5 566.9h0M480.2 528.8h0M496.5 647.0h0M454.1 597.7h0M407.7 643.9h0M601.6 790.8h0M602.9 836.4h0M677.6 588.5h0M349.0 339.7h0M702.6 662.1h0M609.0 862.5h0M610.5 616.8h0M554.2 677.8h0M527.7 606.0h0M611.0 586.4h0M481.7 420.7h0M522.1 433.2h0M571.7 693.4h0M477.8 654.4h0M427.9 668.6h0M582.0 719.3h0M396.4 499.8h0M509.8 858.2h0M957.5 858.0h0M541.9 568.8h0M638.5 714.3h0M468.4 603.5h0M716.0 748.6h0M648.1 778.1h0M650.1 890.9h0M574.4 781.6h0M451.7 829.0h0M297.7 650.3h0M730.8 727.0h0M533.2 901.8h0M523.7 652.8h0M833.8 894.9h0M563.1 854.1h0M394.2 608.5h0M494.3 793.6h0M564.8 542.6h0M425.1 594.7h0M560.3 627.5h0M697.6 849.5h0M409.1 564.9h0"/><path d="M506.4 619.7h0M319.7 469.3h0M577.1 829.1h0M361.4 637.4h0M425.1 724.1h0M513.3 794.3h0M368.5 649.0h0M704.2 922.7h0M641.5 568.7h0M424.8 790.0h0M606.7 892.3h0M524.1 502.8h0M429.9 654.4h0M782.1 762.7h0M547.7 737.7h0M357.5 560.3h0M760.4 789.3h0M448.1 598.7h0M511.1 746.3h0M643.0 688.7h0M502.2 673.1h0M536.3 658.3h0M541.8 713.0h0M527.1 608.3h0M415.2 749.7h0M534.2 666.8h0M512.3 765.1h0M562.5 522.1h0M420.6 592.6h0M628.3 705.9h0M589.5 837.6h0M459.3 510.2h0M510.2 538.1h0M619.9 891.0h0M630.1 619.7h0M785.1 912.4h0M477.5 801.9h0M398.3 702.9h0M524.6 800.0h0M455.9 684.1h0M604.2 675.1h0M680.0 545.3h0M677.3 706.7h0M443.7 814.1h0M551.1 688.6h0M638.3 633.6h0M497.9 629.5h0M689.5 912.0h0M463.1 772.6h0M484.8 653.4h0M885.9 808.2h0M341.6 550.6h0M611.9 696.0h0M638.6 819.3h0M767.4 855.0h0M512.0 593.4h0M603.9 853.9h0M515.6 802.6h0M588.0 625.8h0M592.7 890.2h0M561.1 744.5h0M605.0 848.1h0M537.3 547.3h0M646.0 782.9h0M466.7 510.4h0M448.3 599.5h0M557.1 639.6h0M657.6 770.0h0M507.8 647.1h0M529.7 619.7h0M511.4 703.4h0M541.4 593.4h0M603.6 618.4h0M515.9 789.1h0M588.9 608.9h0M499.7 717.4h0M645.1 791.7h0M432.1 417.1h0M273.7 579.3h0M486.4 563.8h0M436.4 830.0h0M529.1 637.5h0M556.3 644.9h0M569.7 590.4h0M580.8 573.9h0M713.4 636.5h0M594.2 456.8h0M490.2 704.1h0M699.1 778.8h0M512.1 597.1h0M548.8 700.0h0M508.4 601.7h0M637.2 700.7h0M522.3 521.3h0M582.0 610.2h0M546.3 674.5h0M560.2 709.9h0M514.0 619.5h0M731.4 707.6h0M530.7 664.7h0M247.5 456.9h0M634.5 756.5h0M485.3 603.3h0M319.3 594.4h0M499.9 706.9h0M674.2 690.5h0M546.9 629.3h0M607.2 756.9h0M456.7 590.1h0M567.0 459.1h0M557.4 486.7h0M531.9 795.6h0M438.5 371.4h0M581.4 651.0h0M513.0 739.6h0M604.3 796.0h0M593.3 723.5h0M501.2 634.3h0M804.6 644.1h0M369.5 470.2h0M512.3 532.6h0M306.0 427.9h0M527.6 525.9h0M597.6 594.3h0M547.7 743.1h0M532.6 749.2h0M544.4 557.5h0M475.8 728.3h0M626.7 703.2h0M579.7 758.4h0M475.5 628.5h0M595.6 615.2h0M585.3 860.1h0M814.5 778.3h0M612.9 840.6h0M399.7 590.4h0M463.6 575.1h0M636.0 726.5h0M537.1 608.8h0M644.4 724.8h0M497.2 910.3h0M736.8 917.3h0M612.2 783.1h0M646.7 906.4h0M663.5 723.5h0M320.3 558.0h0M562.8 608.8h0M589.8 747.2h0M591.0 722.8h0M517.4 546.4h0M547.8 624.5h0M617.1 732.4h0M595.8 760.9h0M598.2 795.3h0M516.3 613.3h0M392.9 542.4h0M493.7 550.7h0M423.0 820.1h0M565.5 847.0h0M718.4 707.6h0M571.4 715.6h0M560.3 541.7h0M579.4 755.9h0M534.2 503.0h0M544.9 728.7h0M454.6 655.5h0M671.8 846.2h0M471.2 653.5h0M408.2 667.8h0M554.8 763.3h0M623.5 656.5h0M416.3 668.2h0M569.9 671.5h0M534.3 620.3h0M374.5 464.0h0M646.3 761.7h0M624.2 932.0h0M436.9 785.6h0M559.4 733.6h0M411.7 413.5h0M505.3 526.0h0M624.0 721.4h0M555.0 661.8h0M515.5 623.9h0M622.4 706.0h0M502.2 675.4h0M407.3 564.3h0M347.0 444.3h0M523.7 748.5h0M683.6 676.0h0M538.8 547.2h0M605.9 892.3h0M609.7 774.8h0M476.4 637.2h0M468.4 499.9h0M539.7 619.7h0M582.6 895.4h0M558.0 756.7h0M691.9 659.7h0M469.1 801.3h0M491.3 609.9h0M608.0 693.8h0M454.9 721.3h0M595.9 820.5h0M442.4 592.6h0M427.8 606.6h0M563.5 728.3h0M542.4 695.9h0M366.0 529.8h0M404.6 619.6h0M361.0 425.1h0M733.3 661.0h0M507.9 671.0h0M482.2 405.7h0M454.5 643.6h0M318.5 353.9h0M275.5 497.5h0M633.6 778.6h0M475.7 703.0h0M489.0 698.6h0M637.7 716.3h0M637.4 682.6h0M589.6 563.6h0M440.4 601.3h0M352.1 548.4h0M191.4 525.6h0M545.3 557.1h0M536.5 839.5h0M614.1 673.3h0M514.2 499.4h0M517.6 674.4h0M565.2 795.5h0M657.0 922.0h0M510.6 665.6h0M706.6 741.9h0M518.0 591.0h0M397.1 514.7h0M471.3 529.9h0M703.7 781.0h0M377.1 700.9h0M527.0 489.3h0M626.3 785.2h0M385.0 676.5h0M696.9 627.4h0M269.2 411.9h0M718.4 844.1h0M367.0 503.0h0M467.8 795.2h0M587.7 833.5h0M609.1 879.9h0M456.7 578.3h0M477.6 650.6h0M595.4 621.6h0M314.4 548.5h0M652.8 638.9h0M320.6 492.0h0M579.7 647.4h0M668.8 870.7h0M548.9 685.0h0M555.4 703.0h0M526.9 737.2h0M614.9 805.4h0M452.0 547.7h0M644.3 720.5h0M647.7 900.5h0M523.2 598.8h0M437.9 623.4h0M599.4 685.2h0M665.3 935.3h0M546.3 738.5h0M448.1 564.4h0M481.2 621.6h0M685.1 912.7h0M592.3 957.8h0M727.4 751.7h0M574.0 542.1h0M615.1 477.6h0M567.4 724.6h0M395.3 437.6h0M358.2 422.4h0M855.6 772.4h0M560.0 843.2h0M397.0 538.6h0M457.7 548.8h0M573.3 623.5h0M623.8 656.8h0M499.3 611.5h0M330.7 597.6h0M493.6 741.8h0M568.9 832.3h0M618.7 801.9h0M637.7 635.6h0M680.6 665.4h0M536.9 785.6h0M337.5 693.4h0M477.2 623.0h0M380.5 564.3h0M555.3 691.5h0M611.3 664.1h0M313.3 685.2h0M457.8 712.2h0M721.9 884.7h0M433.5 637.1h0M508.5 682.2h0M618.6 692.7h0M558.4 602.7h0M434.8 605.3h0M591.8 613.0h0M569.6 708.2h0M340.6 536.2h0M483.9 727.9h0M640.8 824.2h0M515.2 781.9h0M431.8 731.4h0M478.5 370.9h0M546.7 730.8h0M703.2 719.5h0M571.1 790.9h0M663.1 583.3h0M723.0 860.5h0M538.5 687.4h0M612.5 829.0h0M492.7 596.3h0M685.7 736.0h0M480.0 594.4h0M578.4 556.2h0M397.7 535.1h0M477.2 871.1h0M472.7 527.8h0M546.2 787.4h0M749.1 578.3h0M576.6 730.7h0M545.3 709.7h0M515.1 642.9h0M478.8 597.7h0M697.7 793.4h0M514.4 726.6h0M635.3 794.3h0M604.8 670.1h0M628.5 691.6h0M452.8 637.5h0M427.5 557.7h0M315.7 679.5h0M499.7 489.0h0M749.9 822.0h0M429.4 433.8h0M634.2 794.5h0M388.6 506.2h0M573.1 559.6h0M641.6 701.8h0M615.0 637.9h0M718.2 838.4h0M437.9 603.0h0M510.5 560.2h0M578.5 616.5h0M736.5 845.5h0M380.9 698.8h0M552.0 753.4h0M702.3 694.1h0M346.2 603.2h0M498.2 642.6h0M587.5 656.2h0M526.6 477.8h0M620.9 760.6h0M556.6 574.0h0M696.9 688.5h0M561.9 815.5h0M477.5 499.0h0M620.3 701.6h0M632.0 733.2h0M441.5 631.9h0M558.2 735.2h0M619.2 830.9h0M491.2 683.7h0M654.6 634.9h0M629.6 796.8h0M516.7 547.5h0M411.0 538.4h0M625.3 914.3h0M588.4 825.6h0M582.4 806.7h0"/><path d="M393.1 634.9h0M605.4 738.8h0M590.2 629.1h0M514.8 782.6h0M540.3 936.2h0M496.4 497.7h0M411.0 706.6h0M409.3 427.0h0M504.1 758.9h0M950.0 790.2h0M720.8 666.2h0M584.2 612.5h0M532.5 809.9h0M516.3 729.8h0M539.7 709.5h0M449.1 712.7h0M686.6 741.3h0M634.1 776.7h0M352.9 556.7h0M406.4 710.2h0M390.8 543.7h0M481.7 563.1h0M493.6 683.1h0M614.3 661.8h0M508.8 528.4h0M563.8 836.3h0M466.5 430.4h0M338.9 605.4h0M625.6 974.9h0M513.5 709.6h0M687.7 758.5h0M460.8 550.4h0M407.2 599.1h0M430.0 734.9h0M458.0 539.3h0M585.1 660.6h0M687.9 593.0h0M640.7 575.5h0M570.0 751.3h0M572.7 798.8h0M674.9 547.6h0M558.8 659.3h0M621.4 781.1h0M621.3 802.6h0M482.5 652.7h0M708.3 636.5h0M362.9 570.1h0M458.8 559.3h0M560.4 558.4h0M305.0 548.4h0M354.3 562.4h0M605.5 881.0h0M515.7 770.1h0M459.6 693.2h0M538.0 716.7h0M481.7 789.3h0M660.9 666.4h0M532.8 654.2h0M534.2 760.5h0M609.3 717.0h0M571.2 801.1h0M464.6 624.8h0M535.2 535.8h0M690.2 942.7h0M492.1 875.4h0M564.3 754.3h0M566.7 608.1h0M668.9 847.7h0M516.1 809.1h0M504.1 657.2h0M832.2 823.2h0M677.8 655.4h0M652.2 747.0h0M446.5 613.9h0M391.0 608.9h0M643.7 573.9h0M775.2 691.9h0M500.7 620.7h0M522.9 725.9h0M403.8 584.3h0M711.4 687.2h0M726.2 704.8h0M468.8 874.5h0M329.5 545.8h0M562.8 873.0h0M457.5 648.5h0M570.3 750.5h0M610.8 711.1h0M517.6 755.0h0M817.5 854.8h0M665.9 728.0h0M580.0 819.6h0M524.5 583.5h0M337.2 466.8h0M436.5 778.5h0M424.7 473.4h0M521.2 511.3h0M589.5 652.5h0M605.6 631.9h0M356.2 834.5h0M574.6 545.8h0M539.1 703.6h0M771.5 637.4h0M546.5 547.4h0M576.1 781.5h0M559.4 762.2h0M599.7 695.8h0M311.2 569.3h0M558.6 500.0h0M773.8 768.7h0M558.9 755.0h0M530.4 785.4h0M689.6 749.2h0M621.8 814.4h0M610.9 628.6h0M622.2 726.8h0M424.4 748.5h0M559.6 800.5h0M384.6 667.7h0M501.9 798.0h0M466.7 726.5h0M583.6 828.6h0M591.3 636.7h0M474.5 629.2h0M505.5 854.4h0M409.7 416.3h0M570.9 646.7h0M514.8 747.7h0M461.0 733.0h0M628.6 821.4h0M406.3 849.6h0M533.5 716.7h0M658.0 731.3h0M337.5 576.1h0M571.8 892.4h0M464.8 603.5h0M663.4 791.6h0M499.6 772.4h0M467.7 642.7h0M813.7 943.5h0M321.0 623.5h0M583.2 638.6h0M519.2 622.4h0M591.0 649.9h0M516.6 518.2h0M557.8 727.1h0M435.6 788.6h0M700.7 918.3h0M626.9 894.9h0M392.9 602.9h0M547.4 769.9h0M521.3 748.6h0M464.9 591.6h0M477.3 565.5h0M602.7 875.9h0M474.8 545.4h0M567.2 480.3h0M559.3 853.4h0M740.7 981.4h0M573.5 622.0h0M670.8 705.1h0M655.6 899.8h0M617.9 641.0h0M542.4 673.4h0M559.7 554.2h0M869.2 884.5h0M434.9 587.7h0M547.0 747.1h0M583.0 703.2h0M420.6 572.6h0M523.4 951.5h0M552.5 733.7h0M604.7 564.3h0M533.7 713.0h0M670.4 729.5h0M534.2 519.5h0M492.2 708.2h0M483.6 792.4h0M634.4 622.1h0M447.2 694.0h0M654.0 659.9h0M443.6 789.8h0M499.7 581.2h0M692.7 668.2h0M411.9 545.7h0M485.8 550.4h0M586.0 717.1h0M712.7 653.4h0M341.2 641.8h0M524.8 644.0h0M582.7 799.2h0M568.2 700.2h0M664.0 725.2h0M538.4 730.6h0M343.4 587.2h0M617.8 782.1h0M576.8 687.9h0M651.3 729.9h0M491.5 687.3h0M470.9 538.2h0M398.6 432.0h0M482.2 631.1h0M619.6 729.0h0M668.8 810.3h0M395.5 568.2h0M465.1 670.8h0M608.0 750.3h0M611.7 840.6h0M727.1 766.1h0M584.7 734.9h0M509.7 721.4h0M592.6 723.7h0M693.6 780.1h0M569.4 834.5h0M313.8 503.3h0M511.3 665.0h0M648.8 853.6h0M448.5 765.6h0M531.8 722.6h0M313.0 393.0h0M390.0 734.4h0M696.9 781.2h0M657.0 836.6h0M677.3 921.4h0M475.3 564.9h0M506.4 572.2h0M565.3 856.0h0M439.1 501.3h0M750.8 649.4h0M656.1 693.6h0M477.6 643.9h0M605.7 641.3h0M579.0 668.2h0M592.4 867.4h0M488.1 731.8h0M730.3 852.6h0M525.8 596.9h0M460.2 615.2h0M468.6 752.3h0M657.1 915.1h0M549.4 526.2h0M771.1 937.5h0M669.9 904.1h0M558.5 678.3h0M544.3 745.0h0M502.8 800.6h0M579.7 688.9h0M214.8 400.3h0M638.8 718.2h0M684.8 680.8h0M460.6 840.8h0M589.8 770.2h0M739.8 682.1h0M478.8 530.0h0M405.4 405.1h0M613.0 644.7h0M399.6 692.7h0M491.7 728.9h0M642.3 651.3h0M529.6 666.9h0M611.4 657.5h0M614.6 640.4h0M581.7 761.5h0M448.5 718.8h0M386.8 584.9h0M597.3 955.7h0M646.1 639.5h0M516.6 624.2h0M505.5 704.0h0M508.9 651.6h0M504.1 835.5h0M661.6 537.9h0M495.0 793.3h0M378.3 711.0h0M414.9 658.5h0M580.8 758.6h0M521.7 806.0h0M503.2 463.3h0M621.2 665.5h0M477.3 655.8h0M507.8 718.7h0M488.0 478.8h0M477.4 601.2h0M659.6 647.3h0M352.0 528.0h0M443.0 593.8h0M663.5 750.4h0M532.3 764.2h0M755.1 668.6h0M473.6 712.4h0M671.9 713.1h0M752.2 773.8h0M773.0 749.9h0M766.3 765.7h0M394.5 707.6h0M396.1 559.9h0M493.9 654.3h0M481.2 513.3h0M549.0 740.1h0M573.6 723.0h0M399.1 580.2h0M546.5 931.2h0M502.1 497.5h0M551.4 626.8h0M563.5 610.5h0M668.0 622.4h0M759.3 858.5h0M556.6 619.7h0M496.5 579.2h0M427.8 735.3h0M456.5 878.3h0M564.1 587.8h0M526.7 600.3h0M502.8 502.1h0M507.0 667.8h0M531.9 483.3h0M445.9 588.1h0M467.9 369.3h0M517.8 644.1h0M735.9 778.8h0M265.7 312.3h0M353.7 441.0h0M510.4 642.6h0M570.9 861.5h0M522.2 690.4h0M538.5 786.2h0M466.7 607.0h0M702.2 772.1h0M573.1 827.8h0M645.0 898.6h0M489.0 797.9h0M502.7 730.1h0M522.8 639.4h0M577.0 850.8h0M645.2 773.2h0M324.4 573.1h0M466.3 567.9h0M474.0 608.6h0M605.1 655.2h0M553.4 756.5h0M520.3 669.6h0M327.6 652.3h0M558.0 951.9h0M579.9 810.6h0M780.8 1043.0h0M651.0 674.8h0M561.0 679.9h0M667.0 761.0h0M707.7 800.1h0M402.4 500.1h0M581.4 778.8h0M496.1 643.7h0M397.4 724.6h0M466.8 710.7h0M543.4 795.7h0M885.8 798.1h0M626.2 669.3h0M527.8 763.9h0M543.7 707.4h0M493.8 882.4h0M517.1 634.5h0M607.5 778.2h0M543.2 665.5h0M734.9 781.9h0M438.4 636.8h0M519.5 617.1h0M504.9 653.5h0M475.0 667.8h0M644.3 673.6h0M454.0 539.0h0M735.4 777.5h0M599.8 747.0h0M427.6 595.7h0M530.8 542.9h0M591.8 833.8h0M426.1 492.7h0M470.8 636.5h0M566.8 700.9h0M724.8 748.1h0M327.9 746.1h0M585.4 784.8h0"/><path d="M589.0 730.4h0M542.0 697.5h0M799.9 775.0h0M690.9 642.1h0M639.0 564.5h0M536.6 538.6h0M689.3 972.4h0M520.4 717.9h0M810.6 760.7h0M545.3 632.0h0M470.2 570.6h0M405.1 560.6h0M519.0 667.0h0M613.5 804.9h0M566.9 661.9h0M493.8 548.1h0M409.5 631.7h0M427.9 590.0h0M537.6 630.3h0M583.1 773.0h0M444.7 697.7h0M646.2 579.5h0M933.8 890.0h0M537.4 443.9h0M640.5 615.1h0M529.2 824.0h0M343.0 528.4h0M592.3 548.4h0M406.0 372.6h0M814.7 704.6h0M569.7 792.4h0M507.6 711.5h0M659.2 674.2h0M513.4 753.6h0M552.7 803.2h0M667.7 599.6h0M395.0 773.2h0M506.9 674.9h0M476.6 522.0h0M581.3 939.0h0M700.4 803.0h0M469.1 736.0h0M434.8 612.7h0M615.7 834.2h0M469.8 825.1h0M660.1 703.9h0M538.4 702.3h0M332.5 440.8h0M483.8 593.2h0M525.7 862.1h0M441.5 701.7h0M559.9 776.9h0M595.3 647.1h0M546.2 719.0h0M494.6 601.9h0M431.7 580.3h0M562.6 633.4h0M677.2 799.7h0M684.9 698.2h0M472.5 671.2h0M583.5 696.3h0M544.6 569.2h0M474.4 631.2h0M741.4 843.9h0M738.7 796.3h0M228.0 505.4h0M456.1 500.9h0M819.9 747.6h0M521.0 890.0h0M617.6 677.4h0M540.7 698.2h0M468.4 622.9h0M603.8 914.7h0M499.3 777.8h0M615.0 420.5h0M672.5 815.5h0M782.4 663.6h0M469.9 574.9h0M551.8 731.1h0M522.0 929.0h0M368.6 799.0h0M657.8 716.8h0M727.0 740.0h0M460.0 653.0h0M514.5 770.0h0M645.9 849.4h0M511.6 587.5h0M471.5 663.5h0M571.7 712.2h0M624.1 702.3h0M610.5 713.7h0M511.0 564.9h0M440.5 449.2h0M668.7 657.5h0M725.2 808.2h0M505.3 681.7h0M618.0 687.1h0M591.5 656.6h0M522.5 705.8h0M683.4 898.5h0M614.4 838.8h0M701.1 821.2h0M323.2 633.0h0M625.6 794.0h0M519.1 707.7h0M542.1 571.8h0M412.4 682.1h0M525.9 751.3h0M602.8 774.3h0M401.3 708.4h0M296.0 520.6h0M588.2 964.3h0M535.9 609.8h0M636.3 729.9h0M496.9 583.3h0M670.2 785.6h0M544.1 821.3h0M738.2 668.0h0M403.6 544.7h0M391.6 457.7h0M526.6 690.2h0M691.4 694.6h0M578.2 745.8h0M773.9 846.5h0M639.0 658.8h0M300.5 472.5h0M594.8 862.8h0M590.7 702.5h0M712.0 952.2h0M381.6 430.1h0M589.4 866.0h0M431.4 558.7h0M457.2 636.1h0M338.8 689.7h0M543.1 791.8h0M707.2 712.2h0M532.8 714.1h0M639.8 687.5h0M445.0 531.5h0M613.3 771.0h0M658.7 920.1h0M606.5 685.9h0M313.1 614.0h0M349.8 733.3h0M443.5 669.4h0M401.2 624.2h0M653.4 681.8h0M635.0 984.4h0M647.3 690.4h0M379.9 494.6h0M472.7 518.8h0M553.4 644.6h0M600.6 896.9h0M458.4 557.2h0M306.8 559.1h0M643.1 807.6h0M646.0 766.0h0M553.4 722.5h0M628.7 766.5h0M541.4 650.3h0M454.4 669.5h0M469.9 713.4h0M502.7 505.6h0M604.9 695.8h0M507.2 571.4h0M644.2 723.0h0M539.1 745.6h0M466.1 723.0h0M472.3 624.4h0M599.5 370.5h0M450.6 683.2h0M720.1 822.1h0M567.2 725.3h0M589.2 662.7h0M489.8 607.2h0M590.5 688.1h0M479.0 526.5h0M549.8 702.9h0M575.2 862.5h0M616.8 727.9h0M561.3 818.7h0M605.2 836.7h0M356.2 596.3h0M618.3 698.3h0M524.6 730.0h0M686.3 697.7h0M555.3 526.2h0M466.9 848.0h0M455.0 692.2h0M450.0 480.9h0M489.6 593.2h0M562.6 603.3h0M560.6 855.9h0M657.4 836.7h0M627.1 577.7h0M548.8 783.3h0M488.9 424.5h0M525.3 633.7h0M669.5 859.2h0M546.3 665.8h0M796.1 748.2h0M623.3 796.1h0M577.1 668.8h0M539.5 775.4h0M647.6 808.8h0M483.9 786.8h0M616.5 825.0h0M516.5 743.7h0M696.0 873.4h0M556.7 630.4h0M456.5 550.1h0M493.7 409.4h0M541.8 762.1h0M494.0 699.9h0M797.2 847.6h0M474.2 765.5h0M653.6 817.1h0M576.5 928.2h0M523.7 676.4h0M489.6 551.3h0M496.1 531.5h0M460.9 515.0h0M583.4 597.2h0M482.2 773.4h0M579.6 649.2h0M409.3 418.0h0M328.7 377.5h0M670.1 887.2h0M466.6 705.5h0M532.3 591.8h0M426.2 598.6h0M619.4 686.3h0M423.5 676.7h0M531.6 645.3h0M522.2 791.9h0M422.0 766.8h0M521.3 677.4h0M645.6 610.3h0M582.1 695.6h0M605.9 652.8h0M615.9 608.2h0M553.9 793.6h0M382.5 602.7h0M481.7 731.0h0M611.6 781.2h0M719.6 686.7h0M614.7 722.4h0M701.1 760.5h0M558.2 925.1h0M570.0 513.4h0M472.9 799.7h0M622.1 571.3h0M647.8 878.1h0M480.4 759.8h0M438.9 642.9h0M673.0 828.9h0M451.1 639.1h0M563.3 658.7h0M570.7 799.9h0M675.4 592.7h0M527.6 824.0h0M568.9 673.0h0M814.2 847.8h0M349.4 545.5h0M451.8 556.2h0M690.2 671.9h0M666.3 693.3h0M660.3 792.9h0M668.1 959.0h0M594.3 824.8h0M689.3 680.4h0M568.1 747.4h0M314.5 402.9h0M550.6 849.2h0M488.7 769.0h0M561.5 729.8h0M619.3 848.1h0M421.2 666.9h0M216.9 518.8h0M500.9 644.2h0M488.1 568.1h0M396.6 604.3h0M487.3 740.2h0M431.0 595.9h0M538.8 698.2h0M520.9 561.0h0M637.6 664.3h0M301.2 604.2h0M797.4 873.4h0M669.8 755.0h0M345.6 580.4h0M504.0 684.8h0M401.0 775.0h0M504.2 648.7h0M488.6 719.9h0M553.9 735.8h0M418.9 611.8h0M658.5 715.1h0M523.1 729.7h0M438.3 707.2h0M556.3 681.9h0M399.6 549.0h0M748.4 779.8h0M764.2 794.8h0M514.6 720.8h0M615.4 839.4h0M645.6 851.1h0M692.2 657.6h0M525.2 611.1h0M581.7 705.4h0M657.3 886.0h0M650.8 823.7h0M529.4 839.3h0M550.1 651.0h0M603.9 675.1h0M360.0 599.5h0M499.6 581.1h0M228.4 457.5h0M601.3 718.4h0M395.7 722.6h0M538.1 667.8h0M507.7 725.2h0M757.4 893.3h0M525.7 759.2h0M613.7 783.1h0M457.3 681.3h0M434.7 721.3h0M400.1 727.0h0M669.4 542.9h0M655.0 761.2h0M608.5 796.7h0M537.7 655.7h0M467.3 682.7h0M358.0 543.9h0M674.6 811.7h0M493.1 625.5h0M548.4 672.7h0M526.5 929.4h0M420.5 748.4h0M464.3 505.6h0M468.4 470.6h0M560.1 768.2h0M571.4 643.8h0M570.4 686.3h0M478.8 644.8h0M429.4 711.1h0M502.7 847.6h0M595.6 802.8h0M711.3 773.4h0M578.7 684.8h0M514.1 652.5h0M650.3 787.1h0M811.7 682.9h0M431.4 572.4h0M524.0 796.1h0M722.0 898.6h0M481.8 536.5h0M542.1 688.2h0M609.8 637.4h0M438.1 572.2h0M433.9 866.5h0M481.7 738.0h0M494.7 732.8h0M386.7 551.0h0M547.6 659.4h0M671.2 734.9h0M512.3 607.9h0M571.4 730.4h0M378.0 466.4h0M681.6 758.8h0M368.0 584.9h0M469.3 684.4h0M524.2 641.7h0M696.0 758.9h0M580.9 665.3h0M464.0 541.5h0M295.3 490.2h0M658.8 879.1h0M571.5 671.1h0M595.8 713.8h0M591.1 786.7h0"/><path d="M494.9 560.1h0M435.8 521.8h0M594.8 798.9h0M535.6 597.4h0M825.1 717.3h0M524.4 751.7h0M661.6 798.8h0M428.1 735.2h0M539.3 772.9h0M629.3 867.7h0M646.6 823.5h0M526.9 578.5h0M501.2 593.0h0M586.7 645.4h0M582.1 605.0h0M335.8 645.6h0M437.8 574.7h0M533.8 589.2h0M649.5 804.3h0M463.8 886.3h0M278.3 403.3h0M585.9 675.7h0M434.6 522.5h0M617.3 736.8h0M467.5 678.5h0M506.9 743.0h0M541.9 627.4h0M486.9 736.0h0M420.9 665.9h0M491.0 672.0h0M582.2 596.7h0M368.5 509.7h0M560.2 543.7h0M384.3 376.9h0M717.8 700.6h0M718.6 579.1h0M448.1 836.6h0M567.8 805.1h0M778.5 673.8h0M529.4 649.5h0M509.7 691.4h0M479.7 735.5h0M682.1 651.7h0M535.0 487.6h0M586.8 585.1h0M504.0 748.1h0M533.0 829.1h0M452.3 477.4h0M647.4 588.8h0M614.1 659.4h0M423.4 630.1h0M563.0 735.4h0M251.8 163.5h0M510.5 809.4h0M400.1 507.9h0M576.7 726.8h0M600.8 737.8h0M440.2 665.6h0M510.6 576.3h0M615.5 821.9h0M442.9 571.9h0M497.9 484.3h0M396.4 613.5h0M514.9 481.1h0M497.8 805.9h0M774.9 744.9h0M551.5 918.2h0M454.9 578.8h0M540.6 716.9h0M533.1 776.5h0M575.2 580.0h0M428.0 600.4h0M658.3 793.3h0M734.3 737.5h0M887.5 701.2h0M448.3 546.2h0M476.1 551.9h0M472.0 537.3h0M463.5 785.3h0M567.9 685.8h0M498.4 744.0h0M451.8 702.7h0M518.6 755.6h0M464.9 867.3h0M561.3 868.5h0M388.3 564.6h0M502.4 694.2h0M498.6 505.3h0M187.0 447.1h0M609.4 452.6h0M348.6 537.1h0M604.6 706.9h0M700.8 796.6h0M575.6 664.1h0M780.8 660.1h0M545.4 757.5h0M451.4 515.8h0M606.6 648.2h0M957.5 868.8h0M485.9 597.9h0M592.1 663.4h0M521.6 649.5h0M524.6 642.7h0M614.9 866.6h0M430.9 698.5h0M457.7 782.5h0M525.6 678.1h0M723.7 818.1h0M455.3 588.6h0M539.7 655.5h0M716.1 870.3h0M548.5 671.3h0M328.3 601.7h0M438.5 596.8h0M585.0 669.3h0M645.3 757.8h0M541.8 603.1h0M559.8 665.5h0M493.3 892.9h0M473.8 665.3h0M489.8 665.0h0M493.3 677.4h0M617.8 624.9h0M553.1 734.6h0M578.3 876.0h0M551.8 852.3h0M477.6 534.1h0M657.6 669.6h0M662.6 755.8h0M425.1 695.4h0M569.7 558.3h0M546.4 747.1h0M525.7 580.9h0M600.3 851.6h0M519.5 523.5h0M565.8 729.7h0M419.9 524.5h0M628.6 710.7h0M403.6 346.1h0M579.2 780.2h0M514.0 674.6h0M538.6 725.9h0M673.4 821.0h0M358.9 637.0h0M617.3 668.2h0M442.1 738.8h0M566.7 842.7h0M495.8 532.7h0M474.8 682.0h0M425.4 557.7h0M618.3 849.5h0M577.1 700.4h0M562.1 532.5h0M487.7 591.5h0M508.0 662.4h0M429.1 828.0h0M642.3 692.4h0M421.1 812.9h0M613.2 842.2h0M544.9 679.4h0M556.2 753.3h0M506.8 726.1h0M622.9 945.2h0M604.9 687.7h0M623.3 865.4h0M733.3 781.4h0M636.4 675.7h0M774.3 893.0h0M516.3 727.4h0M547.6 572.0h0M596.9 684.8h0M553.0 551.7h0M405.4 663.1h0M429.7 330.1h0M717.8 706.6h0M619.4 690.8h0M469.1 634.6h0M553.0 516.1h0M584.5 967.4h0M572.0 814.4h0M474.8 798.6h0M531.9 768.2h0M599.5 893.2h0M636.4 668.9h0M626.6 714.1h0M565.7 839.7h0M458.1 732.6h0M589.9 710.1h0M457.3 584.5h0M483.7 786.2h0M472.8 494.2h0M601.5 746.8h0M591.7 604.9h0M744.0 900.3h0M563.9 502.8h0M598.0 626.0h0M401.6 607.7h0M397.5 677.0h0M538.3 737.2h0M525.9 574.6h0M513.2 609.4h0M441.8 821.4h0M712.3 774.1h0M449.3 632.8h0M657.0 830.3h0M543.7 579.9h0M539.8 836.0h0M319.2 727.4h0M589.8 789.3h0M583.3 714.1h0M408.9 581.1h0M356.5 549.4h0M311.1 297.8h0M505.7 454.3h0M517.9 759.7h0M610.5 705.0h0M713.0 723.8h0M341.3 545.3h0M604.1 660.9h0M531.9 733.1h0M598.9 777.8h0M478.7 619.5h0M627.2 637.4h0M623.6 696.6h0M391.8 559.1h0M642.4 603.8h0M348.1 470.8h0M543.0 744.8h0M684.2 852.0h0M568.5 827.0h0M579.8 882.2h0M536.2 784.0h0M632.6 895.7h0M570.8 740.9h0M667.9 783.6h0M567.9 802.8h0M662.9 677.2h0M531.4 873.3h0M474.5 413.6h0M552.0 667.6h0M507.2 560.2h0M544.9 810.9h0M489.5 550.4h0M672.9 587.1h0M498.3 694.6h0M435.9 564.4h0M506.7 761.5h0M339.8 594.1h0M727.3 700.5h0M532.0 708.0h0M585.5 715.9h0M584.7 805.7h0M493.8 586.4h0M500.8 791.8h0M424.9 504.8h0M694.6 727.9h0M457.3 547.1h0M463.3 556.3h0M587.9 861.1h0M491.9 513.0h0M424.0 751.4h0M822.2 893.7h0M605.1 642.2h0M641.4 720.8h0M719.0 662.6h0M587.6 639.0h0M546.1 540.0h0M435.4 773.5h0M591.9 750.7h0M570.0 807.4h0M391.1 713.1h0M530.7 628.6h0M446.3 651.7h0M516.3 600.8h0M659.2 714.6h0M430.2 766.3h0M686.6 633.9h0M796.6 789.3h0M756.1 899.3h0M536.1 861.4h0M577.9 714.6h0M557.0 638.3h0M531.0 741.9h0M394.5 696.4h0M431.6 587.6h0M423.3 719.4h0M718.8 731.3h0M417.7 596.7h0M525.5 639.9h0M521.8 646.0h0M440.2 761.0h0M754.7 921.3h0M425.7 700.2h0M384.3 482.9h0M531.0 639.9h0M547.2 804.9h0M449.7 846.7h0M434.7 533.2h0M550.7 749.5h0M473.8 698.5h0M642.5 715.9h0M470.3 703.4h0M544.0 560.5h0M582.2 679.1h0M640.0 803.9h0M431.3 708.6h0M784.0 861.8h0M874.5 677.5h0M390.7 568.4h0M516.8 872.6h0M600.0 704.4h0M643.4 932.6h0M463.7 777.0h0M575.4 793.8h0M528.4 623.8h0M541.0 622.6h0M319.4 491.6h0M669.7 785.3h0M319.6 397.1h0M416.1 607.0h0M568.0 525.3h0M443.1 606.8h0M480.4 650.1h0M251.6 644.9h0M584.3 764.4h0M613.1 1002.9h0M568.4 522.5h0M496.7 664.9h0M533.5 721.0h0M506.4 680.2h0M434.6 764.1h0M654.0 737.2h0M588.1 860.2h0M596.6 657.2h0M685.3 826.1h0M462.2 745.3h0M508.0 740.9h0M776.0 668.2h0M400.4 540.9h0M563.6 739.5h0M465.0 602.2h0M577.9 862.4h0M573.5 701.5h0M594.9 717.2h0M652.2 602.7h0M329.8 524.8h0M442.0 579.3h0M511.8 685.8h0M263.1 502.5h0M756.6 618.9h0M648.0 602.1h0M474.0 779.7h0M468.1 515.6h0M640.4 792.5h0M304.2 458.7h0M568.0 719.3h0M609.9 701.8h0M484.0 671.8h0M622.9 803.1h0M731.4 674.5h0M445.8 355.2h0M331.0 504.3h0M581.2 677.6h0M602.0 646.5h0M686.7 763.8h0M425.1 666.2h0M511.6 686.5h0M558.7 725.9h0M432.0 654.4h0M378.4 483.2h0M621.0 745.7h0M438.3 700.4h0M442.0 619.9h0M470.7 516.5h0M445.8 673.2h0M635.7 794.5h0M498.1 585.3h0M451.0 703.5h0M590.3 586.2h0M584.5 747.9h0M643.9 659.2h0"/><path d="M585.2 750.8h0M331.2 533.2h0M601.7 599.2h0M341.3 459.4h0M567.3 901.2h0M499.0 481.3h0M635.2 846.0h0M577.1 719.4h0M476.0 741.5h0M530.5 622.0h0M586.6 672.9h0M479.4 799.4h0M572.9 690.2h0M520.9 598.3h0M551.1 797.9h0M568.3 762.4h0M468.6 554.0h0M802.4 853.0h0M488.7 874.7h0M622.0 768.4h0M613.3 691.1h0M549.6 740.9h0M349.7 506.0h0M474.4 605.1h0M600.1 750.4h0M691.7 705.3h0M697.6 802.9h0M658.8 820.4h0M393.7 391.3h0M531.3 769.5h0M585.8 734.6h0M613.3 562.7h0M555.6 802.8h0M466.4 605.4h0M591.4 698.7h0M478.8 633.8h0M412.2 666.7h0M586.3 750.7h0M268.2 486.8h0M663.1 716.3h0M685.0 847.4h0M721.1 564.5h0M579.9 806.9h0M535.7 641.2h0M404.7 434.3h0M706.4 813.4h0M371.2 630.0h0M581.5 651.7h0M606.1 871.4h0M454.0 747.0h0M584.9 667.1h0M590.7 832.4h0M484.4 652.3h0M464.7 869.6h0M513.6 613.1h0M440.7 718.4h0M530.1 625.9h0M389.2 460.8h0M615.6 758.5h0M640.4 795.0h0M485.7 545.3h0M464.1 687.4h0M674.5 699.6h0M614.3 784.1h0M542.0 765.1h0M543.3 623.7h0M466.0 431.6h0M374.1 744.3h0M632.3 766.0h0M630.0 742.2h0M598.7 612.1h0M621.2 638.4h0M462.7 567.4h0M618.4 892.3h0M403.7 477.9h0M412.1 458.4h0M531.0 553.7h0M407.3 633.0h0M492.8 741.2h0M584.8 667.9h0M404.6 589.1h0M461.9 573.4h0M556.4 536.3h0M558.6 839.1h0M555.0 818.1h0M522.3 688.5h0M393.3 871.3h0M396.1 680.1h0M444.0 762.1h0M535.1 638.8h0M495.7 641.7h0M591.6 646.2h0M570.4 486.6h0M507.3 439.3h0M539.4 620.1h0M409.4 541.2h0M606.0 821.0h0M548.9 722.4h0M457.7 640.6h0M447.3 576.6h0M543.5 712.7h0M430.6 428.1h0M647.7 743.4h0M610.6 821.9h0M501.1 722.5h0M515.4 377.3h0M545.6 759.6h0M561.2 633.4h0M445.2 694.2h0M676.7 613.1h0M658.0 731.3h0M517.6 562.8h0M528.0 789.1h0M560.9 639.4h0M659.8 700.5h0M457.9 736.7h0M503.1 558.7h0M331.7 583.7h0M417.4 691.6h0M527.9 870.0h0M447.3 562.3h0M446.8 675.2h0M578.9 787.8h0M549.8 710.6h0M625.4 639.3h0M552.3 563.4h0M574.8 739.1h0M543.2 756.3h0M515.8 439.8h0M550.0 666.3h0M452.5 547.9h0M442.3 597.6h0M573.8 527.2h0M497.8 629.2h0M490.8 639.4h0M640.3 630.3h0M544.8 765.8h0M692.6 940.8h0M375.7 366.9h0M468.4 513.0h0M515.9 707.2h0M353.3 571.3h0M539.1 574.0h0M514.1 706.4h0M564.6 649.3h0M391.3 466.9h0M644.3 795.3h0M432.2 548.9h0M467.9 496.8h0M543.4 678.1h0M508.8 653.2h0M637.5 800.6h0M531.9 686.9h0M529.8 887.5h0M448.8 686.8h0M692.6 752.3h0M575.5 587.7h0M532.2 595.3h0M471.2 713.8h0M512.2 549.4h0M518.7 669.3h0M477.9 744.2h0M552.1 561.2h0M627.6 778.3h0M526.1 636.2h0M235.6 535.7h0M518.6 687.1h0M523.3 873.5h0M469.8 581.1h0M453.9 630.2h0M466.2 590.8h0M629.6 828.0h0M485.1 652.5h0M705.6 770.9h0M609.6 670.8h0M452.4 643.6h0M504.5 806.2h0M580.7 717.5h0M521.9 723.0h0M484.1 644.2h0M603.9 864.4h0M746.2 905.2h0M549.9 739.1h0M576.1 869.6h0M549.3 538.4h0M532.2 769.0h0M792.1 932.9h0M544.2 468.7h0M303.2 550.7h0M641.4 850.7h0M503.4 463.7h0M562.2 678.3h0M691.1 720.3h0M464.2 774.5h0M561.8 650.7h0M744.8 879.1h0M480.7 672.4h0M772.4 700.6h0M602.7 749.0h0M477.7 861.7h0M631.3 777.3h0M402.4 437.7h0M431.3 649.6h0M370.4 583.5h0M517.4 579.9h0M456.8 767.6h0M617.4 753.5h0M507.6 490.3h0M505.4 725.4h0M458.3 653.4h0M619.0 674.8h0M473.4 569.3h0M467.5 708.2h0M459.9 502.0h0M351.0 656.3h0M727.6 822.2h0M735.3 770.6h0M551.8 653.3h0M449.2 793.6h0M441.6 300.3h0M472.1 569.3h0M506.2 808.5h0M527.1 717.3h0M341.8 613.1h0M565.6 872.3h0M524.6 596.8h0M715.6 666.7h0M454.6 674.0h0M563.9 755.6h0M576.5 906.2h0M658.8 722.0h0M459.1 770.2h0M534.2 631.4h0M542.4 672.5h0M416.3 563.9h0M535.9 655.2h0M470.3 523.6h0M684.5 660.1h0M422.8 758.0h0M487.1 708.0h0M540.6 671.8h0M636.8 830.4h0M636.0 673.7h0M667.0 723.7h0M637.7 677.4h0M558.2 728.8h0M572.7 744.5h0M433.3 803.0h0M566.2 773.6h0M602.2 582.1h0M460.8 569.5h0M584.3 740.0h0M518.3 688.2h0M626.4 572.1h0M373.4 610.4h0M340.7 367.6h0M652.5 948.5h0M331.7 511.1h0M798.4 831.8h0M490.9 664.1h0M615.2 787.1h0M645.8 920.6h0M418.2 706.7h0M471.8 731.6h0M616.7 765.4h0M640.6 726.1h0M437.3 664.8h0M478.6 580.0h0M606.7 513.0h0M397.6 578.9h0M472.6 647.0h0M575.7 698.6h0M562.7 751.3h0M450.1 522.1h0M408.1 474.4h0M592.3 823.5h0M612.4 612.2h0M305.5 682.3h0M560.6 556.4h0M653.9 730.5h0M475.8 643.7h0M542.7 726.7h0M393.1 468.9h0M488.3 754.5h0M633.4 678.1h0M559.2 687.0h0M585.9 721.8h0M486.7 557.2h0M470.1 782.2h0M633.3 639.2h0M529.9 699.1h0M633.0 762.4h0M830.1 800.6h0M586.3 641.3h0M616.2 671.8h0M763.5 890.9h0M699.1 836.9h0M621.3 838.3h0M567.1 739.8h0M643.3 920.8h0M384.1 412.3h0M377.5 549.7h0M898.8 681.2h0M551.6 564.3h0M377.7 587.2h0M561.9 567.0h0M730.1 799.2h0M539.5 573.3h0M506.9 957.9h0M402.6 550.1h0M561.8 648.9h0M512.9 673.1h0M265.5 597.9h0M495.4 702.0h0M700.1 822.2h0M490.2 580.5h0M578.7 633.9h0M550.1 737.2h0M472.0 665.7h0M317.8 328.3h0M249.2 345.9h0M668.9 896.5h0M599.4 770.4h0M644.0 643.3h0M584.2 738.7h0M537.3 571.9h0M749.4 883.8h0M657.1 692.2h0M615.0 648.0h0M432.4 541.5h0M521.8 639.9h0M491.1 567.9h0M535.0 840.5h0M498.9 573.6h0M620.4 693.0h0M493.5 751.8h0M447.3 663.7h0M746.6 764.2h0M413.1 689.9h0M601.1 748.9h0M383.4 467.1h0M731.9 800.4h0M602.7 936.2h0M469.0 528.6h0M489.6 759.5h0M622.8 776.3h0M331.9 587.9h0M515.6 763.4h0M578.5 670.8h0M463.1 611.4h0M541.7 502.6h0M433.1 498.8h0M540.4 639.5h0M591.0 586.1h0M307.6 661.1h0M653.0 809.5h0M770.8 874.6h0M385.9 533.1h0M621.0 696.5h0M316.2 543.2h0M624.5 690.5h0M518.3 595.1h0M580.0 700.7h0M450.3 607.2h0M406.5 515.8h0M590.7 729.0h0M549.2 756.0h0M651.9 903.3h0M570.5 1086.2h0M565.1 731.7h0M572.0 686.4h0M501.6 561.0h0M330.7 482.3h0M379.4 581.6h0M402.8 766.9h0M469.6 664.8h0M428.2 636.0h0M642.9 764.6h0M487.8 740.1h0M428.9 552.0h0M471.8 555.7h0"/><path d="M573.2 803.1h0M647.3 788.5h0M535.5 742.6h0M674.1 718.1h0M616.8 869.9h0M193.0 483.3h0M557.2 622.6h0M479.9 565.4h0M596.4 922.8h0M636.2 881.2h0M601.6 652.9h0M444.4 480.8h0M605.0 793.1h0M666.1 631.6h0M274.7 664.4h0M764.0 782.2h0M418.4 638.9h0M519.2 720.3h0M596.1 693.7h0M337.5 640.0h0M719.2 927.0h0M652.4 911.0h0M663.2 780.7h0M547.9 732.8h0M662.4 744.6h0M562.5 873.6h0M631.4 786.7h0M516.4 646.3h0M526.7 713.3h0M842.9 819.1h0M390.3 579.8h0M589.5 708.3h0M423.7 476.2h0M622.4 764.5h0M465.4 793.3h0M582.9 809.8h0M351.4 607.3h0M411.6 489.7h0M554.4 555.1h0M598.2 807.4h0M594.6 842.3h0M452.1 604.1h0M543.8 558.5h0M594.8 711.5h0M409.7 495.0h0M494.6 667.3h0M481.8 732.8h0M526.9 598.6h0M651.3 851.3h0M264.0 527.7h0M328.3 526.2h0M581.1 640.0h0M550.1 642.5h0M591.0 712.0h0M563.6 765.7h0M442.5 552.9h0M625.3 773.7h0M532.2 723.6h0M547.1 531.0h0M575.7 599.5h0M445.3 535.7h0M560.5 584.8h0M519.3 707.0h0M921.2 777.0h0M382.8 506.7h0M477.5 631.4h0M367.9 511.9h0M652.5 836.7h0M445.9 560.0h0M615.0 797.2h0M488.4 551.8h0M531.1 904.4h0M347.2 494.1h0M500.0 684.2h0M615.6 776.0h0M416.7 660.1h0M564.8 781.2h0M551.7 644.9h0M657.6 850.7h0M759.8 494.2h0M445.7 628.5h0M566.9 782.1h0M756.9 800.3h0M430.3 541.0h0M751.8 776.6h0M579.0 691.2h0M956.0 801.2h0M712.8 722.0h0M744.7 918.6h0M537.7 512.2h0M459.1 523.4h0M689.2 815.5h0M495.4 790.1h0M391.8 747.5h0M390.7 512.3h0M656.5 706.2h0M281.4 325.5h0M430.4 561.0h0M556.7 630.9h0M347.0 830.5h0M431.1 573.0h0M640.1 640.6h0M612.3 868.3h0M532.0 657.4h0M610.5 820.0h0M543.5 673.0h0M586.4 743.8h0M577.7 717.8h0M603.0 798.4h0M616.5 697.1h0M492.3 662.3h0M652.4 835.2h0M432.1 740.1h0M431.9 562.9h0M430.9 572.6h0M534.0 647.3h0M420.9 439.9h0M777.9 763.6h0M660.5 674.7h0M561.6 899.6h0M566.4 546.4h0M467.6 489.1h0M563.3 733.7h0M435.8 561.0h0M528.4 562.5h0M461.7 705.2h0M591.1 551.6h0M561.0 750.3h0M666.4 710.0h0M480.2 616.7h0M639.0 828.2h0M601.3 684.3h0M478.3 650.1h0M727.5 795.0h0M497.2 620.1h0M721.1 858.3h0M648.7 764.6h0M483.4 768.1h0M455.7 743.0h0M789.4 811.5h0M627.3 839.6h0M651.8 877.3h0M511.3 875.8h0M527.4 766.3h0M560.0 701.4h0M494.9 532.0h0M363.6 352.6h0M603.0 656.7h0M512.0 659.8h0M713.4 577.7h0M346.7 605.6h0M450.1 589.9h0M591.5 553.2h0M598.0 841.5h0M456.4 642.7h0M638.6 989.1h0M473.4 558.7h0M478.1 604.7h0M377.9 542.4h0M513.8 693.4h0M505.9 577.5h0M736.4 918.1h0M481.3 712.0h0M605.9 702.1h0M555.2 787.1h0M716.7 870.8h0M479.7 813.3h0M662.4 753.0h0M657.9 588.4h0M525.0 770.8h0M662.9 758.7h0M548.5 990.6h0M293.8 678.9h0M635.7 721.9h0M713.4 846.5h0M495.6 490.2h0M378.7 581.7h0M566.5 589.8h0M382.8 326.5h0M765.2 873.5h0M619.6 760.2h0M389.6 621.3h0M589.7 691.2h0M360.8 413.4h0M554.2 785.8h0M540.1 677.4h0M696.5 695.9h0M383.0 539.7h0M493.2 762.1h0M589.3 749.2h0M672.8 643.0h0M592.3 537.6h0M528.4 672.8h0M568.8 941.9h0M358.5 638.8h0M582.7 654.5h0M635.4 670.6h0M447.8 671.5h0M629.6 564.3h0M546.5 729.4h0M439.1 694.8h0M674.6 713.7h0M599.9 655.0h0M632.1 823.7h0M481.3 712.7h0M593.7 684.8h0M593.3 775.2h0M528.9 946.7h0M510.6 813.5h0M503.3 750.7h0M443.4 626.3h0M505.2 815.6h0M507.6 845.0h0M457.3 659.7h0M615.1 594.2h0M475.1 563.5h0M592.5 877.6h0M778.3 875.5h0M398.0 439.5h0M407.0 551.2h0M585.0 666.2h0M514.1 856.7h0M583.0 956.0h0M529.5 654.5h0M445.5 527.5h0M600.3 783.4h0M534.6 598.5h0M584.5 785.2h0M548.9 773.9h0M516.2 497.7h0M408.5 536.3h0M633.1 861.8h0M745.0 513.8h0M623.7 755.2h0M632.6 669.3h0M434.3 653.1h0M338.5 476.2h0M321.3 444.0h0M550.4 712.8h0M565.2 765.0h0M433.1 722.7h0M637.0 777.7h0M491.8 659.6h0M725.9 678.1h0M548.6 598.8h0M642.5 556.8h0M378.2 623.4h0M479.7 729.8h0M579.6 833.8h0M557.5 640.5h0M581.9 697.4h0M696.3 916.3h0M476.7 494.5h0M466.2 699.0h0M520.0 659.2h0M423.6 604.8h0M501.7 662.7h0M538.8 776.9h0M688.1 760.3h0M523.7 586.7h0M626.1 729.2h0M487.0 722.4h0M524.8 578.4h0M562.0 684.2h0M391.7 652.4h0M503.2 580.9h0M580.6 735.2h0M462.3 713.0h0M361.0 589.0h0M782.5 749.4h0M672.2 757.1h0M448.3 586.8h0M641.7 781.1h0M471.9 622.7h0M457.2 724.9h0M472.3 655.9h0M431.1 650.7h0M573.2 831.6h0M650.9 894.3h0M425.9 459.3h0M421.7 692.0h0M740.4 807.3h0M509.3 601.0h0M547.1 721.3h0M652.4 916.1h0M545.6 792.4h0M516.3 649.3h0M569.7 517.1h0M584.5 721.8h0M267.0 471.8h0M540.4 704.9h0M443.8 290.5h0M233.0 455.6h0M616.1 802.6h0M568.6 658.5h0M611.4 721.7h0M438.6 644.8h0M567.1 671.2h0M429.0 557.1h0M577.0 748.3h0M463.9 638.6h0M523.5 614.3h0M563.7 840.9h0M739.0 724.3h0M729.6 753.1h0M701.5 818.5h0M542.1 776.0h0M626.7 614.7h0M655.0 848.5h0M377.0 767.8h0M638.0 656.7h0M488.6 728.3h0M435.5 612.8h0M551.9 844.4h0M294.8 572.9h0M312.2 447.1h0M257.3 635.5h0M575.4 758.8h0M690.4 699.4h0M658.7 745.0h0M475.3 567.6h0M675.7 633.1h0M575.9 900.7h0M599.3 634.7h0M449.4 584.5h0M423.3 684.3h0M633.3 650.7h0M449.3 644.7h0M373.8 626.6h0M517.7 598.4h0M508.5 663.6h0M432.2 877.0h0M546.7 630.8h0M515.0 868.2h0M566.2 879.9h0M597.3 442.5h0M479.8 682.0h0M445.8 473.6h0M508.1 678.3h0M537.9 558.6h0M627.8 770.8h0M846.0 745.2h0M517.8 706.3h0M385.9 779.6h0M532.9 644.8h0M546.6 731.8h0M610.3 684.4h0M714.6 696.7h0M451.6 421.8h0M559.3 562.9h0M576.3 883.5h0M377.5 553.5h0M598.1 832.1h0M451.0 615.0h0M514.4 534.1h0M583.0 771.5h0M329.5 621.9h0M545.1 807.0h0M719.9 825.5h0M380.1 741.6h0M452.5 680.4h0M589.5 754.1h0M434.7 486.9h0M487.5 834.5h0M661.7 852.8h0M522.1 660.4h0M441.7 539.8h0M606.5 687.1h0M383.0 690.5h0M611.3 905.6h0M568.0 542.3h0M589.3 695.3h0M421.2 560.4h0M449.6 564.2h0M586.1 704.7h0M429.9 582.0h0M450.5 649.8h0M545.7 732.1h0M507.6 660.4h0M482.7 491.1h0M649.9 696.9h0"/><path d="M455.4 688.1h0M533.0 730.2h0M426.2 511.4h0M442.5 403.0h0M456.8 723.7h0M694.8 787.9h0M494.7 497.5h0M654.9 926.0h0M788.4 682.3h0M617.1 921.6h0M505.7 731.1h0M553.4 737.2h0M538.2 681.4h0M514.6 745.3h0M413.0 646.7h0M681.2 639.8h0M623.6 761.2h0M578.8 622.7h0M741.2 750.3h0M749.1 853.1h0M571.8 788.7h0M524.5 684.6h0M593.6 900.8h0M488.9 757.5h0M596.4 967.3h0M425.7 525.8h0M389.5 526.8h0M508.1 824.4h0M767.2 654.6h0M422.2 644.8h0M324.8 671.2h0M651.3 852.2h0M582.3 815.8h0M458.6 770.0h0M486.0 506.6h0M492.3 510.4h0M690.0 1007.0h0M402.7 514.4h0M565.2 770.4h0M479.2 695.6h0M510.0 660.4h0M585.2 656.7h0M520.8 880.6h0M445.2 548.0h0M499.2 587.7h0M536.1 546.2h0M524.3 589.6h0M578.1 899.0h0M701.7 669.4h0M386.7 709.7h0M519.0 775.0h0M534.4 732.5h0M525.5 726.1h0M511.7 775.7h0M492.8 791.4h0M449.2 725.9h0M576.0 727.4h0M520.9 382.5h0M392.8 392.5h0M523.0 527.4h0M695.5 563.2h0M428.5 580.3h0M624.6 632.8h0M415.7 675.4h0M529.5 863.5h0M522.6 635.4h0M658.8 722.7h0M534.0 604.3h0M513.4 744.5h0M622.7 719.1h0M588.1 846.2h0M601.6 549.7h0M667.2 768.8h0M719.7 885.5h0M433.7 555.0h0M481.9 726.7h0M605.2 594.0h0M437.2 618.5h0M358.7 662.5h0M541.0 843.3h0M499.8 673.4h0M597.8 853.4h0M617.5 751.1h0M532.1 894.8h0M472.9 553.8h0M690.6 731.2h0M589.7 749.5h0M339.7 479.9h0M512.6 784.0h0M718.5 705.1h0M282.5 442.5h0M636.0 790.5h0M569.1 742.4h0M308.5 481.9h0M470.9 665.0h0M465.6 748.9h0M643.8 894.3h0M304.8 559.3h0M647.0 641.4h0M334.5 559.0h0M325.8 519.7h0M605.3 728.5h0M387.5 514.1h0M652.4 771.1h0M561.4 793.5h0M314.6 414.7h0M516.1 752.0h0M465.9 439.2h0M744.7 930.0h0M458.5 724.2h0M600.7 695.2h0M493.8 721.3h0M486.5 575.8h0M567.4 779.9h0M764.1 673.1h0M677.5 760.2h0M578.5 582.0h0M682.6 804.3h0M505.6 672.4h0M685.0 604.2h0M544.1 710.9h0M721.1 762.8h0M606.3 629.8h0M599.1 828.0h0M583.8 645.1h0M551.9 423.7h0M561.9 676.9h0M418.7 442.4h0M607.8 766.8h0M642.1 869.0h0M465.4 607.5h0M528.2 876.9h0M553.6 717.1h0M502.5 775.1h0M595.6 606.3h0M621.1 708.3h0M684.5 822.5h0M521.4 564.1h0M390.5 688.7h0M552.3 786.4h0M414.6 618.1h0M678.1 765.4h0M377.2 618.7h0M739.2 907.6h0M531.5 564.1h0M608.2 856.1h0M521.5 775.3h0M601.4 732.7h0M471.3 652.5h0M353.9 640.6h0M460.1 729.8h0M561.9 513.2h0M588.9 747.6h0M678.8 872.4h0M475.0 698.9h0M559.8 678.0h0M557.6 703.4h0M570.1 645.2h0M579.0 921.6h0M634.5 671.5h0M405.9 728.2h0M541.1 536.7h0M897.0 773.2h0M556.0 605.8h0M700.5 573.2h0M677.4 792.9h0M519.4 521.9h0M546.5 713.3h0M622.6 855.8h0M370.1 586.9h0M611.3 714.7h0M627.1 776.9h0M622.3 841.0h0M405.9 457.8h0M657.4 691.9h0M568.1 632.7h0M462.2 661.1h0M604.0 812.6h0M428.5 606.9h0M500.1 697.9h0M624.8 574.8h0M309.1 551.6h0M634.9 664.4h0M497.5 743.1h0M620.1 673.0h0M252.4 472.9h0M650.9 869.4h0M409.6 887.8h0M562.2 785.4h0M664.7 784.4h0M622.4 732.0h0M570.5 659.8h0M644.7 751.4h0M656.3 580.4h0M759.5 740.0h0M415.1 436.6h0M514.4 727.0h0M603.7 723.5h0M625.3 873.3h0M487.4 652.8h0M533.7 649.7h0M437.9 724.6h0M497.0 832.0h0M372.6 759.6h0M474.1 535.0h0M485.3 798.8h0M498.5 773.3h0M563.3 733.3h0M444.0 848.6h0M463.6 739.0h0M574.5 587.5h0M440.3 621.6h0M216.8 428.5h0M538.7 677.0h0M541.3 702.0h0M563.9 729.5h0M695.6 826.5h0M262.3 433.9h0M730.0 725.2h0M452.2 511.4h0M702.5 844.9h0M518.2 686.0h0M636.1 796.6h0M416.4 320.2h0M547.4 678.3h0M581.9 738.4h0M625.7 731.6h0M389.1 661.1h0M542.5 668.1h0M489.0 677.0h0M420.1 608.1h0M518.3 788.2h0M410.4 585.6h0M592.5 639.6h0M547.3 790.4h0M648.4 749.6h0M622.6 786.3h0M897.0 858.2h0M600.0 714.6h0M293.6 485.2h0M496.3 597.5h0M405.6 574.6h0M460.6 529.9h0M509.9 627.8h0M406.8 461.4h0M550.5 741.1h0M856.7 837.1h0M473.7 701.8h0M505.3 463.9h0M497.3 830.3h0M641.0 736.8h0M397.0 614.9h0M525.6 667.0h0M564.5 663.9h0M578.0 578.5h0M465.0 646.8h0M523.4 685.0h0M531.5 571.5h0M523.7 784.0h0M437.5 517.5h0M527.2 583.0h0M474.2 575.0h0M457.8 675.2h0M455.5 699.9h0M480.7 797.3h0M585.1 853.7h0M516.1 702.8h0M624.5 768.6h0M545.5 583.5h0M667.7 651.1h0M622.6 583.8h0M805.6 934.9h0M422.0 647.3h0M707.7 864.3h0M413.2 454.6h0M434.6 590.0h0M499.5 859.6h0M434.1 502.6h0M599.4 771.8h0M340.8 503.3h0M642.7 906.9h0M501.5 563.5h0M409.3 711.3h0M504.9 812.3h0M588.3 700.8h0M651.7 822.9h0M462.2 557.7h0M350.2 526.5h0M468.6 720.6h0M579.6 706.4h0M329.9 475.4h0M625.9 695.7h0M697.7 732.2h0M529.8 755.7h0M392.3 611.6h0M619.9 876.7h0M545.7 637.4h0M476.2 564.4h0M625.9 638.3h0M604.6 729.3h0M386.0 811.5h0M571.0 566.6h0M610.6 811.4h0M530.3 719.2h0M557.2 768.0h0M538.5 587.8h0M496.4 697.4h0M626.5 746.8h0M562.1 765.5h0M479.8 734.1h0M522.0 731.3h0M420.8 584.2h0M616.8 786.7h0M434.5 696.1h0M561.3 870.4h0M520.3 911.3h0M481.6 807.1h0M604.3 737.4h0M653.6 717.7h0M449.3 639.9h0M623.4 677.3h0M558.3 671.0h0M468.6 735.0h0M533.0 372.6h0M394.9 550.9h0M508.8 775.0h0M539.9 806.1h0M569.5 482.6h0M563.5 804.0h0M797.2 837.6h0M528.3 901.4h0M502.7 872.6h0M695.2 668.4h0M480.4 712.2h0M597.5 673.9h0M587.5 790.7h0M749.2 787.4h0M839.1 856.7h0M622.5 885.3h0M808.8 960.0h0M393.5 560.0h0M408.4 375.6h0M379.0 496.1h0M468.7 621.8h0M378.2 609.6h0M567.3 789.2h0M473.4 641.7h0M431.4 615.6h0M293.9 476.9h0M510.7 619.5h0M608.4 728.6h0M345.4 645.9h0M511.4 909.1h0M547.7 761.4h0M569.2 873.7h0M464.4 787.5h0M485.3 657.4h0M460.6 564.6h0M244.1 570.4h0M528.4 623.9h0M509.5 384.2h0M683.2 678.0h0M587.3 683.3h0M452.1 613.9h0M519.8 784.4h0M583.8 804.5h0M498.7 572.5h0M570.6 551.8h0M677.6 816.1h0M613.4 893.4h0M543.8 862.3h0M501.8 765.5h0M272.5 474.6h0M595.5 658.6h0M443.5 644.3h0M405.8 515.1h0M534.9 671.6h0M550.2 708.3h0M483.8 796.4h0M418.9 724.5h0M574.6 617.7h0"/><path d="M521.2 616.6h0M656.5 772.2h0M527.9 602.5h0M497.1 530.0h0M526.3 688.6h0M339.3 460.1h0M598.4 723.5h0M543.9 650.5h0M419.7 807.1h0M428.7 531.7h0M306.0 811.0h0M680.1 710.8h0M679.5 667.4h0M519.2 826.3h0M540.9 602.4h0M473.9 831.5h0M411.3 581.2h0M201.0 551.5h0M643.9 674.3h0M467.3 641.9h0M438.6 653.5h0M447.0 627.4h0M487.4 542.3h0M715.4 903.5h0M655.4 805.2h0M631.6 624.9h0M524.1 797.0h0M394.8 738.7h0M581.4 663.5h0M551.9 693.6h0M566.0 734.5h0M292.8 699.1h0M242.6 552.9h0M670.6 803.9h0M256.7 369.9h0M633.2 664.1h0M532.4 848.6h0M580.3 702.2h0M367.1 456.1h0M519.5 992.0h0M467.0 646.9h0M546.3 625.8h0M541.3 510.1h0M618.4 662.3h0M567.8 727.3h0M262.2 352.9h0M800.7 930.3h0M329.8 690.1h0M566.5 714.5h0M515.7 707.2h0M399.0 511.3h0M617.4 565.8h0M790.4 813.0h0M438.0 558.5h0M596.7 908.9h0M461.3 740.8h0M482.5 621.8h0M616.6 711.7h0M490.0 710.2h0M547.7 572.2h0M651.8 618.6h0M500.2 690.8h0M617.1 703.9h0M584.4 839.6h0M487.0 626.8h0M647.5 667.4h0M533.4 879.9h0M500.8 692.2h0M618.2 697.4h0M603.1 641.2h0M505.9 823.0h0M541.2 670.8h0M686.6 847.0h0M717.7 735.5h0M635.0 855.6h0M695.9 672.6h0M662.8 694.4h0M584.8 657.7h0M525.0 675.1h0M602.5 629.3h0M643.3 657.6h0M697.7 901.3h0M477.4 782.6h0M582.7 512.7h0M569.7 580.5h0M452.2 677.4h0M573.4 774.3h0M568.9 842.3h0M554.7 749.6h0M603.3 807.8h0M543.3 734.5h0M489.3 745.5h0M538.5 645.7h0M520.4 767.0h0M732.8 798.3h0M540.8 831.8h0M466.5 642.4h0M686.2 639.9h0M482.1 742.7h0M686.7 599.9h0M476.6 598.6h0M563.8 661.6h0M397.2 642.4h0M720.3 850.4h0M557.0 472.6h0M516.7 751.5h0M406.6 557.9h0M507.6 649.8h0M873.8 671.8h0M542.4 676.6h0M762.9 645.6h0M534.8 640.2h0M470.6 777.5h0M654.3 806.7h0M470.9 774.2h0M416.9 550.2h0M501.7 652.1h0M482.0 535.0h0M391.6 492.3h0M526.3 662.0h0M526.1 490.2h0M597.8 569.2h0M632.6 640.7h0M613.3 798.6h0M549.9 639.7h0M527.7 599.7h0M477.7 793.3h0M534.0 742.6h0M494.6 740.1h0M485.2 635.8h0M504.5 613.3h0M491.0 725.6h0M623.4 705.4h0M561.9 470.5h0M650.6 680.8h0M586.9 548.4h0M434.8 627.1h0M472.2 726.8h0M396.4 562.3h0M410.9 736.5h0M556.3 564.3h0M675.1 824.4h0M565.7 649.7h0M515.6 760.6h0M554.0 644.0h0M587.4 856.8h0M634.7 814.1h0M620.0 889.6h0M642.1 671.6h0M306.4 555.0h0M419.1 769.6h0M559.5 696.7h0M353.5 622.5h0M456.4 732.4h0M359.6 450.9h0M524.1 747.1h0M623.4 768.8h0M638.9 866.0h0M517.3 872.9h0M729.3 796.4h0M599.6 768.0h0M647.8 608.1h0M547.2 765.4h0M529.7 679.5h0M604.1 813.1h0M558.0 682.7h0M642.3 704.8h0M792.0 1001.8h0M453.4 730.3h0M540.5 683.0h0M518.0 828.3h0M489.4 747.1h0M602.8 593.2h0M441.1 673.1h0M473.2 529.7h0M481.6 537.0h0M598.3 745.8h0M726.8 765.6h0M416.1 517.2h0M466.8 566.0h0M461.6 576.2h0M624.1 708.2h0M234.3 353.7h0M515.8 529.2h0M701.0 646.0h0M327.8 547.0h0M599.1 714.5h0M489.9 760.5h0M557.8 769.0h0M688.4 901.6h0M496.0 797.3h0M513.9 745.1h0M455.5 656.7h0M645.6 914.9h0M529.8 580.8h0M236.0 646.7h0M588.7 708.1h0M379.4 662.4h0M488.9 657.8h0M446.8 616.4h0M480.4 638.8h0M721.7 889.6h0M900.0 868.8h0M504.0 514.7h0M561.1 689.2h0M589.1 704.4h0M455.3 617.6h0M653.7 754.5h0M377.2 557.3h0M662.4 706.2h0M697.7 931.4h0M385.1 635.4h0M847.0 623.0h0M499.8 676.0h0M603.3 733.5h0M588.9 581.1h0M649.0 699.4h0M742.3 897.3h0M638.9 571.6h0M677.8 777.1h0M476.5 653.2h0M342.2 535.5h0M510.3 639.0h0M631.1 651.3h0M564.4 481.2h0M444.1 767.1h0M468.5 729.5h0M590.7 669.4h0M605.5 630.0h0M582.8 910.0h0M479.3 789.3h0M645.8 775.1h0M516.4 734.5h0M470.7 584.4h0M426.3 556.3h0M703.3 719.8h0M672.6 675.9h0M663.0 692.8h0M440.0 740.9h0M563.6 554.7h0M638.7 642.5h0M418.7 624.8h0M419.1 384.6h0M580.6 834.4h0M651.5 721.5h0M510.5 646.1h0M670.7 684.0h0M528.2 661.4h0M591.7 637.5h0M487.3 604.2h0M385.0 631.8h0M615.3 615.0h0M334.0 571.2h0M419.7 615.3h0M672.2 712.5h0M594.0 967.9h0M630.6 863.8h0M599.5 736.2h0M363.4 509.5h0M480.4 605.0h0M529.9 652.7h0M589.3 744.7h0M586.7 698.8h0M612.9 660.5h0M673.8 801.3h0M551.6 601.9h0M820.0 947.5h0M585.4 915.9h0M411.9 580.2h0M519.2 587.5h0M491.9 572.4h0M534.8 674.7h0M543.0 536.9h0M486.1 687.9h0M711.4 812.2h0M651.5 673.2h0M718.5 865.0h0M458.9 620.3h0M509.2 770.2h0M706.8 786.4h0M691.8 685.8h0M702.7 717.6h0M399.8 473.8h0M485.2 652.9h0M485.8 679.4h0M481.0 452.1h0M453.9 876.9h0M535.7 745.1h0M331.3 610.7h0M431.5 598.7h0M485.1 545.3h0M561.9 509.7h0M419.1 558.4h0M377.6 598.8h0M607.3 546.7h0M765.7 822.1h0M451.4 758.0h0M497.6 698.0h0M685.2 893.7h0M567.6 767.7h0M618.2 762.0h0M562.6 745.2h0M655.7 859.3h0M537.7 928.2h0M595.2 562.1h0M620.2 795.1h0M521.0 890.3h0M431.1 590.7h0M595.7 590.2h0M420.4 655.6h0M585.5 799.2h0M507.6 719.8h0M418.4 630.1h0M351.2 594.5h0M596.4 795.8h0M440.8 557.5h0M491.4 873.3h0M498.3 617.6h0M798.9 942.3h0M453.1 621.5h0M811.6 662.5h0M522.5 645.7h0M411.7 568.2h0M234.7 359.8h0M420.6 644.2h0M592.1 808.4h0M570.2 594.1h0M436.3 761.8h0M475.0 552.7h0M421.4 529.6h0M496.0 646.8h0M674.4 800.0h0M621.0 644.3h0M705.9 528.7h0M394.3 588.4h0M633.0 654.8h0M556.7 585.3h0M394.9 624.5h0M707.2 856.9h0M439.1 744.6h0M506.9 738.3h0M488.8 726.3h0M555.4 447.4h0M562.5 725.8h0M578.6 715.2h0M544.2 690.6h0M547.5 717.5h0M782.2 918.1h0M278.4 571.4h0M550.0 561.3h0M555.1 722.8h0M420.4 745.6h0M432.3 737.7h0M600.7 726.3h0M511.7 521.6h0M600.2 688.9h0M428.1 752.7h0M523.1 562.5h0M708.8 463.8h0M539.8 559.6h0M528.5 611.3h0M515.1 635.5h0M629.3 787.2h0M491.4 745.5h0M497.1 769.2h0M498.6 683.1h0M581.8 677.7h0M443.8 561.9h0M510.8 841.2h0M590.9 574.9h0M506.8 516.1h0M452.7 688.3h0M595.6 689.7h0M691.9 644.7h0M461.7 591.1h0M591.3 636.5h0M376.4 584.5h0M825.6 681.2h0M391.6 516.1h0M557.2 760.1h0M471.6 693.3h0"/><path d="M298.1 572.5h0M508.7 762.7h0M295.8 546.5h0M470.5 609.5h0M661.3 857.1h0M404.7 719.9h0M620.8 747.3h0M468.6 544.6h0M442.2 496.9h0M441.5 804.4h0M540.3 739.0h0M477.8 500.2h0M585.2 819.8h0M626.5 597.4h0M561.6 761.6h0M392.7 425.1h0M559.1 735.0h0M595.7 809.2h0M582.4 787.6h0M650.8 407.0h0M454.7 648.9h0M534.6 453.3h0M363.1 455.9h0M653.3 704.7h0M463.0 297.5h0M509.5 434.8h0M254.8 653.2h0M352.4 488.8h0M377.4 563.7h0M452.7 515.7h0M459.5 634.9h0M467.3 584.5h0M710.6 634.6h0M353.7 458.8h0M449.0 499.2h0M407.1 600.0h0M539.1 567.5h0M466.3 553.8h0M634.4 720.4h0M532.4 601.7h0M383.4 448.8h0M516.8 519.4h0M486.4 759.5h0M560.9 915.1h0M226.9 615.8h0M579.4 668.7h0M624.5 768.8h0M546.9 697.4h0M511.8 640.5h0M628.4 670.7h0M530.7 607.8h0M578.3 725.1h0M518.1 689.6h0M413.3 596.2h0M637.5 732.2h0M489.7 476.0h0M673.4 776.0h0M564.9 592.7h0M449.8 821.7h0M665.7 849.5h0M535.0 588.9h0M451.3 677.9h0M597.9 673.0h0M616.4 708.2h0M401.3 582.9h0M430.2 701.8h0M426.9 560.6h0M535.3 584.6h0M422.9 554.5h0M575.2 656.3h0M584.2 862.4h0M619.7 845.0h0M528.2 870.2h0M443.2 532.8h0M515.2 656.9h0M581.6 682.7h0M752.2 764.1h0M431.5 800.4h0M680.1 800.0h0M538.9 642.7h0M554.3 794.8h0M375.4 654.9h0M465.5 562.0h0M544.0 593.6h0M531.7 753.5h0M682.2 889.4h0M481.9 831.8h0M365.8 586.7h0M486.0 680.6h0M640.5 668.8h0M393.3 653.5h0M436.4 480.3h0M670.9 685.1h0M498.7 583.5h0M485.7 590.5h0M464.7 543.3h0M619.7 834.8h0M681.5 860.0h0M473.7 589.6h0M481.7 816.4h0M457.6 703.0h0M637.2 774.6h0M458.2 526.7h0M521.8 790.4h0M485.8 788.5h0M662.1 689.6h0M435.7 589.5h0M558.9 749.1h0M350.9 435.8h0M570.9 918.9h0M494.0 744.0h0M504.6 549.6h0M529.3 553.2h0M453.6 719.2h0M409.2 700.2h0M617.1 688.9h0M552.9 711.8h0M469.0 716.1h0M198.5 373.0h0M551.3 540.2h0M636.7 649.9h0M462.6 634.1h0M612.3 737.7h0M674.9 746.7h0M545.7 631.6h0M517.2 660.1h0M424.9 558.2h0M519.6 683.3h0M600.0 700.3h0M541.5 589.7h0M616.4 856.2h0M551.4 804.5h0M588.9 750.2h0M447.4 617.9h0M382.5 461.0h0M342.1 553.6h0M585.3 838.2h0M637.5 741.7h0M497.2 614.8h0M542.4 784.4h0M427.0 408.0h0M522.3 722.5h0M673.4 662.5h0M479.4 568.3h0M699.0 795.4h0M546.3 673.9h0M549.2 752.2h0M814.9 744.8h0M482.0 631.3h0M633.5 841.7h0M298.5 573.3h0M735.0 520.2h0M557.9 691.2h0M453.0 744.3h0M738.5 878.7h0M541.0 630.1h0M508.2 727.1h0M535.4 609.7h0M777.0 726.8h0M435.7 599.2h0M495.4 724.6h0M557.0 693.5h0M403.4 724.5h0M462.0 845.2h0M500.0 661.5h0M473.2 723.2h0M624.3 561.6h0M478.8 493.6h0M705.3 671.7h0M471.8 439.6h0M415.7 764.4h0M423.2 805.0h0M619.1 766.8h0M561.8 737.3h0M394.3 715.2h0M558.7 639.8h0M636.8 808.1h0M543.3 553.8h0M463.2 727.9h0M597.2 829.6h0M458.4 649.4h0M400.4 560.1h0M571.2 702.5h0M691.6 771.1h0M410.5 671.3h0M737.6 663.6h0M694.5 963.4h0M377.0 530.7h0M647.1 708.8h0M577.2 635.5h0M390.8 576.8h0M502.0 651.7h0M392.0 507.5h0M512.4 765.1h0M627.5 864.4h0M337.7 673.0h0M457.5 589.1h0M488.3 899.4h0M505.8 877.5h0M480.5 793.8h0M472.5 467.8h0M455.7 743.7h0M437.7 616.3h0M559.1 798.9h0M635.3 527.7h0M403.3 634.3h0M654.5 888.1h0M633.3 747.2h0M480.1 835.7h0M368.9 602.7h0M440.1 855.6h0M531.2 781.6h0M604.0 656.4h0M470.5 629.6h0M517.0 711.1h0M621.5 893.0h0M536.3 651.1h0M596.4 772.4h0M470.7 892.8h0M672.2 708.1h0M416.2 383.8h0M516.3 670.6h0M437.8 605.3h0M323.0 549.3h0M505.3 556.3h0M623.1 801.6h0M419.2 721.3h0M488.3 576.2h0M583.9 748.1h0M678.3 889.1h0M693.3 869.7h0M791.8 865.6h0M699.5 855.6h0M484.4 538.4h0M642.9 559.7h0M556.6 564.4h0M354.2 362.9h0M542.6 790.3h0M484.5 598.7h0M529.8 779.0h0M559.4 750.2h0M539.0 620.4h0M461.4 575.4h0M406.8 509.0h0M680.5 819.9h0M443.5 602.6h0M564.9 634.5h0M460.9 694.9h0M586.8 626.5h0M460.1 623.2h0M499.3 655.4h0M485.5 706.3h0M452.4 696.4h0M523.2 858.8h0M434.7 537.1h0M591.4 696.8h0M608.6 938.5h0M510.0 640.6h0M494.3 485.1h0M384.5 630.1h0M753.1 734.3h0M615.9 681.6h0M602.1 693.1h0M655.0 776.1h0M523.5 723.3h0M455.0 757.0h0M540.4 755.6h0M440.1 794.7h0M541.8 606.4h0M479.4 655.1h0M662.8 740.6h0M524.9 748.6h0M539.3 683.1h0M619.4 728.7h0M597.5 683.7h0M602.4 669.4h0M597.9 702.9h0M505.2 692.6h0M568.2 801.2h0M575.1 693.4h0M507.8 697.2h0M609.6 847.8h0M452.7 635.0h0M463.5 485.9h0M570.3 913.9h0M624.8 906.5h0M724.4 640.1h0M477.2 580.3h0M459.0 642.0h0M541.2 763.9h0M492.7 658.4h0M696.5 902.9h0M555.4 744.8h0M460.9 544.8h0M466.9 687.9h0M577.8 740.3h0M454.7 661.7h0M643.8 919.8h0M523.0 602.7h0M400.6 615.9h0M469.8 687.5h0M601.1 900.3h0M477.8 825.7h0M528.6 669.6h0M426.7 520.5h0M498.9 787.3h0M587.6 831.8h0M572.5 803.7h0M552.6 879.9h0M671.3 639.1h0M533.6 535.6h0M593.8 656.8h0M475.9 623.9h0M296.6 447.7h0M523.2 855.4h0M617.5 654.7h0M344.2 842.0h0M437.2 648.5h0M581.1 718.5h0M734.4 923.2h0M671.1 751.5h0M547.2 662.3h0M615.2 745.9h0M605.3 687.7h0M348.5 588.7h0M761.3 879.2h0M572.4 774.0h0M536.8 736.0h0M481.6 682.1h0M538.3 680.9h0M649.2 735.9h0M652.7 629.0h0M639.2 728.0h0M522.8 585.8h0M740.6 868.3h0M708.9 772.0h0M807.2 777.8h0M579.2 1087.5h0M587.2 695.3h0M541.0 835.4h0M523.6 640.2h0M534.7 510.1h0M642.2 799.5h0M615.1 912.8h0M523.5 766.8h0M589.2 687.6h0M575.2 651.3h0M785.3 796.9h0M519.6 930.6h0M578.5 545.4h0M352.6 571.5h0M497.6 475.8h0M702.4 729.9h0M562.3 672.7h0M582.2 719.9h0M399.2 666.2h0M455.3 520.0h0M470.5 700.4h0M284.6 691.4h0M532.2 740.1h0M405.7 627.2h0M473.2 945.3h0M568.4 617.2h0M603.5 762.1h0M872.5 836.6h0M581.6 654.5h0M536.5 649.8h0M536.0 727.5h0M564.4 618.5h0M651.1 765.5h0M622.2 848.7h0M489.8 463.2h0M588.4 719.4h0M636.6 774.9h0M618.0 739.3h0M547.2 695.6h0M428.5 502.0h0M495.6 695.4h0M558.4 539.3h0M430.0 937.0h0M570.3 801.1h0"/><path d="M271.5 397.4h0M478.5 531.3h0M587.2 681.0h0M592.8 733.6h0M605.9 864.1h0M527.6 682.8h0M502.9 820.0h0M494.8 662.6h0M456.8 677.9h0M471.1 561.9h0M449.8 546.5h0M558.4 838.4h0M574.6 676.8h0M587.0 856.7h0M691.3 814.8h0M471.4 604.4h0M539.0 716.2h0M621.0 897.4h0M614.5 630.2h0M453.1 682.3h0M707.6 764.3h0M687.5 1061.0h0M625.9 685.4h0M468.8 772.1h0M525.6 601.7h0M661.5 840.7h0M385.4 559.0h0M384.3 720.2h0M608.1 957.7h0M179.5 403.2h0M542.1 711.1h0M532.8 745.2h0M508.1 622.7h0M496.3 541.7h0M522.9 727.0h0M570.9 568.5h0M568.4 729.9h0M637.6 898.5h0M468.2 590.5h0M515.5 800.0h0M559.6 816.8h0M435.2 582.0h0M578.1 669.9h0M657.0 814.0h0M647.4 864.7h0M488.2 797.4h0M515.0 612.5h0M538.5 726.8h0M503.6 646.9h0M626.4 860.5h0M555.0 835.5h0M604.8 726.4h0M672.7 825.6h0M329.4 530.3h0M527.0 718.8h0M635.5 742.5h0M681.3 708.1h0M544.4 640.7h0M515.8 867.7h0M651.7 769.8h0M449.3 489.4h0M395.2 767.9h0M494.4 852.1h0M479.3 439.6h0M521.6 732.5h0M591.5 879.7h0M418.6 685.9h0M291.0 565.0h0M485.1 909.3h0M652.7 828.5h0M558.6 942.1h0M444.1 555.9h0M768.7 786.2h0M541.0 827.1h0M407.4 635.9h0M488.9 744.1h0M530.4 501.0h0M490.9 605.0h0M446.5 546.2h0M681.0 823.2h0M586.4 761.2h0M507.5 745.6h0M555.7 686.6h0M461.6 673.6h0M441.1 648.3h0M464.2 712.7h0M568.1 928.1h0M561.9 548.0h0M526.3 653.4h0M581.5 810.7h0M477.8 612.4h0M515.7 578.7h0M323.9 460.5h0M639.0 824.2h0M450.2 614.4h0M450.3 578.6h0M331.1 501.5h0M563.6 721.4h0M569.8 901.3h0M394.1 581.1h0M549.8 789.4h0M337.5 595.5h0M570.4 633.3h0M401.8 688.4h0M501.5 415.8h0M525.7 754.8h0M425.6 579.8h0M554.8 636.6h0M670.8 616.7h0M828.5 598.8h0M528.4 823.7h0M494.3 730.8h0M605.7 684.1h0M601.6 730.3h0M547.9 795.1h0M539.0 675.9h0M436.3 613.4h0M620.0 660.4h0M662.0 939.8h0M408.1 535.9h0M709.2 548.8h0M420.3 538.9h0M580.4 640.4h0M555.4 874.6h0M469.9 738.5h0M545.5 761.3h0M649.1 649.8h0M542.5 770.0h0M604.9 834.0h0M522.9 636.4h0M375.4 595.7h0M473.4 813.7h0M572.9 748.5h0M517.9 664.9h0M380.6 520.4h0M494.5 635.0h0M529.6 767.4h0M490.1 702.6h0M628.7 930.0h0M245.3 503.5h0M469.5 658.6h0M482.7 529.4h0M444.4 662.8h0M607.1 791.9h0M492.3 546.2h0M415.6 450.5h0M667.6 914.0h0M621.0 728.4h0M763.4 710.9h0M367.0 647.1h0M563.5 599.7h0M560.2 749.0h0M445.6 615.2h0M352.7 702.5h0M369.8 600.0h0M724.7 814.1h0M313.1 664.2h0M701.1 621.7h0M547.1 578.9h0M468.8 621.6h0M934.0 733.2h0M586.4 958.2h0M428.9 544.3h0M538.7 548.8h0M270.4 513.8h0M482.7 701.0h0M571.5 672.8h0M526.8 899.7h0M596.4 920.2h0M531.8 654.7h0M347.9 528.4h0M610.0 678.8h0M546.6 665.3h0M547.1 888.0h0M519.3 715.9h0M643.4 742.8h0M482.1 532.6h0M432.3 560.9h0M615.2 719.6h0M567.3 823.8h0M472.9 769.9h0M528.2 761.8h0M558.9 663.6h0M704.2 721.1h0M544.0 542.5h0M482.8 457.3h0M284.9 364.0h0M208.9 442.6h0M485.1 715.4h0M479.7 690.9h0M502.6 605.5h0M483.4 577.0h0M331.3 511.1h0M607.5 1037.8h0M595.5 730.2h0M588.3 829.4h0M661.2 675.3h0M460.0 639.2h0M533.5 732.2h0M621.2 357.0h0M277.3 418.6h0M696.8 1058.0h0M595.8 786.5h0M537.3 703.6h0M196.6 408.5h0M529.9 701.1h0M478.2 843.0h0M504.7 703.1h0M746.9 685.4h0M587.6 676.5h0M609.9 768.9h0M419.9 894.2h0M402.4 658.7h0M368.9 598.4h0M693.2 710.1h0M644.0 810.0h0M605.9 789.6h0M545.5 718.9h0M373.1 571.7h0M420.6 585.0h0M685.7 654.1h0M520.9 745.0h0M504.9 487.7h0M568.1 605.3h0M333.5 477.0h0M358.9 499.3h0M502.1 822.4h0M594.0 799.4h0M277.1 497.2h0M500.5 824.4h0M585.1 501.5h0M477.6 828.9h0M468.9 643.2h0M602.5 598.5h0M649.5 664.2h0M615.5 735.7h0M717.0 678.2h0M432.9 686.5h0M346.7 508.0h0M446.2 838.3h0M561.4 828.0h0M661.6 840.3h0M391.3 367.1h0M582.9 627.8h0M587.3 802.7h0M496.1 536.6h0M555.1 786.8h0M697.8 721.4h0M497.4 793.2h0M589.4 749.5h0M621.4 705.9h0M578.4 694.3h0M552.0 769.7h0M522.5 688.7h0M455.7 485.8h0M427.0 480.0h0M609.4 711.0h0M537.4 701.3h0M598.5 657.9h0M528.6 793.6h0M675.6 685.4h0M476.5 444.9h0M716.6 781.9h0M410.2 481.6h0M388.5 552.6h0M606.2 602.2h0M494.5 613.0h0M542.3 944.5h0M444.4 663.7h0M580.3 665.8h0M392.2 601.4h0M656.3 762.9h0M490.4 616.6h0M417.0 609.2h0M560.5 962.8h0M692.5 776.2h0M530.7 791.3h0M643.4 718.9h0M690.4 686.0h0M404.4 560.4h0M315.4 610.9h0M456.6 776.5h0M496.5 598.5h0M711.2 771.5h0M553.2 733.8h0M456.8 511.2h0M614.1 716.9h0M527.9 534.9h0M531.9 595.9h0M378.6 625.6h0M574.7 748.5h0M425.0 643.4h0M607.7 739.0h0M316.9 684.2h0M745.1 789.0h0M661.1 853.4h0M477.6 626.1h0M358.3 576.6h0M406.8 699.4h0M535.2 717.3h0M663.3 750.3h0M498.8 692.2h0M562.4 538.2h0M602.0 675.2h0M645.0 676.8h0M448.3 715.9h0M425.9 803.7h0M523.1 801.0h0M715.4 808.3h0M459.4 752.1h0M646.6 771.3h0M458.1 677.2h0M270.1 583.7h0M330.0 500.3h0M626.7 735.5h0M567.9 756.6h0M645.6 684.5h0M556.4 678.8h0M495.8 833.9h0M534.8 466.5h0M629.2 805.3h0M531.5 709.9h0M590.4 952.3h0M401.0 600.8h0M553.6 698.1h0M477.1 675.4h0M471.2 744.9h0M581.8 807.8h0M612.0 853.5h0M548.1 692.2h0M604.7 915.0h0M474.7 713.4h0M738.1 810.2h0M442.5 452.7h0M567.8 747.6h0M651.4 727.2h0M544.9 740.0h0M526.9 707.2h0M641.6 864.8h0M624.4 736.1h0M680.0 855.0h0M491.0 775.0h0M572.0 712.6h0M626.6 677.0h0M515.9 531.8h0M586.8 693.6h0M572.9 634.3h0M380.6 597.1h0M403.1 665.0h0M411.5 343.3h0M413.7 534.7h0M485.4 484.8h0M570.7 723.5h0M486.8 682.7h0M477.7 778.5h0M642.1 775.3h0M875.9 690.2h0M492.3 694.6h0M393.6 458.7h0M665.3 715.1h0M406.9 776.2h0M694.3 861.1h0M304.5 370.8h0M646.7 659.9h0M625.3 628.4h0M717.5 731.4h0M324.0 424.9h0M514.9 720.9h0M438.3 731.8h0M347.1 608.6h0M401.5 553.4h0M650.7 723.3h0M433.2 771.8h0M558.6 728.5h0M424.6 643.1h0M246.3 587.4h0M690.8 770.6h0M611.7 715.1h0M670.7 616.9h0M656.9 996.2h0M494.5 704.9h0"/><path d="M639.9 764.4h0M593.0 652.6h0M388.1 455.5h0M611.5 865.1h0M742.5 867.6h0M321.4 555.7h0M635.4 669.1h0M553.1 840.5h0M590.9 578.8h0M636.3 653.3h0M365.7 581.9h0M376.6 431.2h0M512.9 879.4h0M582.2 877.6h0M580.9 490.1h0M563.2 736.1h0M587.6 696.1h0M642.7 885.9h0M669.5 644.1h0M399.5 718.5h0M474.1 751.4h0M502.8 685.9h0M658.2 731.0h0M553.2 539.0h0M615.6 829.2h0M544.5 805.4h0M672.1 658.1h0M461.0 515.9h0M767.8 1031.5h0M576.0 769.5h0M304.5 351.4h0M639.6 746.4h0M627.5 351.8h0M666.7 672.5h0M374.5 403.9h0M586.9 822.2h0M586.4 831.5h0M546.2 691.3h0M483.5 663.0h0M446.0 521.1h0M583.8 592.7h0M422.5 555.2h0M445.6 692.6h0M547.1 722.9h0M694.5 693.3h0M787.6 719.1h0M595.6 620.4h0M576.5 754.2h0M668.7 739.9h0M621.8 606.5h0M389.8 417.9h0M601.3 712.5h0M683.8 441.8h0M667.1 777.2h0M441.2 298.8h0M501.2 690.0h0M593.1 660.4h0M722.6 674.1h0M522.2 633.1h0M708.9 872.1h0M698.1 641.7h0M372.7 577.8h0M763.1 847.4h0M586.0 1067.5h0M752.6 806.5h0M490.4 633.6h0M566.4 545.1h0M612.3 760.3h0M589.0 752.8h0M496.3 633.5h0M632.7 701.7h0M446.0 556.6h0M673.6 717.0h0M678.6 773.2h0M515.1 710.8h0M493.4 749.5h0M632.1 788.0h0M583.1 748.7h0M648.2 632.6h0M571.3 786.6h0M774.5 778.7h0M480.5 800.1h0M671.5 821.1h0M436.4 857.1h0M519.2 742.1h0M563.9 610.7h0M490.7 679.3h0M432.1 535.0h0M543.2 689.3h0M455.2 786.6h0M648.0 879.7h0M450.5 609.9h0M605.7 835.0h0M591.3 711.2h0M670.5 756.5h0M469.9 674.3h0M586.3 694.3h0M545.6 647.6h0M462.2 730.4h0M535.3 740.7h0M569.9 761.9h0M738.3 927.5h0M445.9 752.2h0M540.3 883.3h0M562.7 729.7h0M722.3 626.3h0M501.4 593.8h0M404.3 620.9h0M424.2 699.4h0M576.5 624.7h0M329.0 382.2h0M645.3 895.3h0M481.2 756.0h0M382.5 535.4h0M531.8 623.9h0M576.5 773.2h0M732.9 852.4h0M637.6 736.9h0M487.6 770.9h0M500.1 667.0h0M559.6 705.3h0M454.5 657.7h0M692.9 908.0h0M453.1 725.2h0M799.3 735.5h0M593.4 852.9h0M467.7 651.7h0M596.9 792.5h0M725.1 656.6h0M561.1 740.6h0M900.0 685.5h0M657.2 723.0h0M683.5 763.8h0M610.3 635.8h0M499.6 697.6h0M454.6 604.2h0M521.0 467.3h0M736.1 601.4h0M443.4 619.5h0M789.1 747.9h0M484.4 605.5h0M515.1 681.1h0M606.0 761.1h0M454.6 652.3h0M667.5 763.1h0M429.0 773.4h0M598.1 702.5h0M558.9 687.1h0M278.1 485.7h0M603.7 607.8h0M228.3 437.7h0M638.2 819.9h0M622.5 751.0h0M324.3 661.2h0M648.0 616.6h0M597.8 846.3h0M348.8 457.4h0M367.8 508.5h0M645.9 691.6h0M450.7 447.6h0M526.7 723.5h0M483.2 734.5h0M390.7 469.8h0M362.9 558.6h0M341.1 621.5h0M547.0 653.8h0M560.9 569.1h0M586.4 484.3h0M564.1 730.0h0M538.2 651.1h0M484.8 674.4h0M454.5 750.7h0M547.7 731.2h0M519.6 634.5h0M543.8 806.6h0M632.8 681.0h0M459.6 586.0h0M546.6 610.4h0M435.3 694.4h0M537.3 368.1h0M735.7 724.4h0M570.0 792.0h0M512.9 561.2h0M369.6 693.8h0M728.8 787.4h0M739.3 719.4h0M480.6 491.6h0M606.8 672.7h0M577.2 645.9h0M734.0 801.4h0M437.6 517.5h0M692.3 699.7h0M548.3 583.2h0M580.5 677.1h0M633.4 660.0h0M463.2 739.6h0M399.9 594.1h0M574.4 601.7h0M648.7 657.0h0M538.5 516.0h0M602.0 747.7h0M389.9 619.4h0M472.7 662.9h0M629.9 705.2h0M597.1 871.8h0M424.1 489.1h0M474.5 521.2h0M487.4 631.3h0M641.0 720.2h0M457.4 603.2h0M591.0 688.6h0M411.8 544.7h0M425.7 555.0h0M434.0 533.2h0M448.3 486.6h0M437.4 541.2h0M517.3 617.4h0M553.1 708.6h0M544.7 760.5h0M584.9 947.2h0M461.4 727.7h0M436.3 599.7h0M513.6 596.8h0M440.0 655.2h0M413.4 697.2h0M579.3 670.8h0M685.9 917.1h0M571.3 815.5h0M490.7 628.8h0M357.5 648.4h0M517.7 811.0h0M505.6 703.1h0M564.2 836.0h0M521.7 571.5h0M543.0 660.9h0M694.1 802.8h0M699.7 929.6h0M643.2 603.6h0M561.2 563.4h0M664.0 790.9h0M598.4 851.0h0M632.4 629.4h0M475.4 647.5h0M534.1 697.8h0M445.9 557.6h0M522.4 551.1h0M424.2 615.8h0M646.7 695.1h0M520.6 756.9h0M660.1 887.4h0M700.5 686.1h0M567.2 610.5h0M351.7 602.7h0M342.0 711.9h0M492.1 664.4h0M483.5 800.4h0M551.2 518.8h0M473.9 779.2h0M401.9 514.1h0M805.0 737.9h0M523.0 894.3h0M435.3 672.9h0M543.8 658.6h0M564.0 586.0h0M629.4 910.3h0M677.9 703.3h0M445.1 424.6h0M446.2 734.7h0M433.1 737.1h0M607.9 761.8h0M520.2 671.9h0M513.7 465.5h0M403.5 766.3h0M741.5 810.8h0M579.8 624.4h0M632.3 622.4h0M565.2 589.9h0M440.1 560.7h0M402.0 843.4h0M244.9 668.4h0M629.5 759.5h0M362.6 514.1h0M429.1 603.8h0M641.5 683.4h0M576.3 694.9h0M688.6 613.0h0M460.4 524.1h0M699.6 697.7h0M640.1 874.5h0M568.4 854.7h0M522.1 617.6h0M401.4 589.8h0M665.6 759.2h0M836.7 720.8h0M535.9 718.7h0M348.8 677.7h0M760.7 695.4h0M613.1 901.7h0M550.0 667.0h0M457.9 722.5h0M659.9 757.2h0M560.7 717.2h0M501.4 591.8h0M853.9 751.3h0M717.8 685.0h0M484.8 714.3h0M663.6 648.8h0M527.5 755.8h0M601.8 809.9h0M708.7 823.3h0M662.1 725.5h0M445.7 543.7h0M489.8 672.0h0M629.0 799.0h0M620.4 586.5h0M840.0 986.5h0M344.0 559.2h0M477.0 799.4h0M400.0 201.2h0M523.2 683.8h0M260.7 499.1h0M419.3 749.4h0M374.2 548.4h0M361.2 686.5h0M613.5 796.8h0M397.2 613.1h0M292.0 429.4h0M523.0 800.7h0M717.3 816.2h0M442.4 699.9h0M692.8 680.2h0M725.2 752.8h0M589.7 811.7h0M463.3 571.9h0M543.9 705.3h0M529.2 607.3h0M607.1 807.2h0M306.9 587.8h0M635.5 744.9h0M602.7 735.0h0M442.9 458.3h0M542.6 937.6h0M509.1 700.2h0M592.0 695.6h0M470.3 631.0h0M468.4 737.0h0M518.8 692.0h0M496.6 667.8h0M330.1 521.5h0M516.3 514.5h0M585.1 867.8h0M561.4 690.6h0M542.0 752.7h0M452.4 822.3h0M489.7 797.8h0M418.3 568.4h0M548.3 693.1h0M611.6 737.6h0M340.1 356.4h0M483.6 719.5h0M508.8 731.2h0M509.0 752.8h0M564.1 754.4h0M365.9 532.4h0M499.9 685.9h0M643.5 747.8h0M628.7 837.7h0M687.3 668.1h0M462.8 684.5h0M502.0 740.9h0M606.1 607.2h0M643.0 646.1h0M516.8 463.4h0M226.0 490.0h0M442.8 439.5h0M604.9 689.9h0M442.0 453.8h0M602.0 759.4h0M541.1 560.7h0M490.0 438.0h0M541.0 555.5h0"/><path d="M565.4 646.4h0M535.1 601.2h0M625.4 854.6h0M556.5 761.9h0M588.9 611.1h0M406.2 644.8h0M484.3 652.9h0M399.6 489.4h0M633.5 740.0h0M401.8 409.1h0M351.8 527.5h0M473.7 654.5h0M500.0 540.6h0M605.4 810.8h0M283.3 652.4h0M500.2 527.7h0M415.6 645.5h0M585.2 621.6h0M337.8 477.4h0M819.3 659.1h0M498.8 553.8h0M453.6 488.5h0M554.9 776.1h0M615.1 866.2h0M548.7 453.8h0M576.1 645.2h0M550.5 784.7h0M558.3 861.0h0M438.3 559.0h0M634.3 806.6h0M499.9 768.7h0M381.2 665.6h0M527.9 632.3h0M541.0 592.2h0M439.0 390.3h0M396.1 474.7h0M586.3 626.2h0M442.4 793.7h0M625.8 575.4h0M635.1 580.9h0M507.4 701.8h0M583.0 779.4h0M371.1 698.5h0M418.7 609.8h0M601.4 586.3h0M428.3 603.9h0M734.1 718.3h0M479.7 570.0h0M678.1 616.8h0M520.4 597.9h0M396.0 612.6h0M692.3 766.6h0M621.0 721.0h0M699.2 776.9h0M564.7 740.0h0M546.0 607.8h0M553.8 762.8h0M705.3 873.7h0M602.5 697.2h0M694.6 772.7h0M450.3 642.0h0M543.4 786.0h0M541.2 767.4h0M722.8 756.9h0M505.3 587.4h0M509.6 635.0h0M401.3 661.3h0M477.4 671.3h0M371.4 608.0h0M728.2 644.6h0M689.0 829.0h0M496.9 734.7h0M747.1 643.8h0M650.8 786.3h0M464.5 669.0h0M511.9 456.1h0M524.8 542.5h0M518.2 751.8h0M274.7 444.4h0M617.0 626.8h0M524.6 700.0h0M607.9 715.1h0M558.6 724.6h0M648.5 762.5h0M706.9 595.0h0M642.6 636.1h0M502.3 658.0h0M499.2 733.2h0M579.4 694.9h0M649.2 714.4h0M432.5 636.0h0M441.9 720.6h0M594.9 764.9h0M503.8 716.1h0M648.7 797.5h0M648.1 833.4h0M422.7 454.9h0M615.8 765.4h0M613.6 857.4h0M536.7 738.2h0M608.9 673.7h0M680.0 703.0h0M609.8 840.2h0M574.8 749.0h0M516.6 376.4h0M387.9 529.2h0M509.2 721.4h0M376.4 642.6h0M788.0 557.5h0M322.4 538.6h0M382.6 627.4h0M425.0 716.8h0M394.1 585.6h0M651.2 814.9h0M587.8 906.7h0M541.3 745.8h0M617.8 772.2h0M516.2 849.7h0M495.3 775.7h0M481.4 559.7h0M590.2 749.9h0M622.0 759.9h0M457.8 664.5h0M517.5 539.2h0M551.4 793.1h0M544.5 773.0h0M256.7 461.3h0M811.5 508.8h0M566.0 593.1h0M581.1 757.3h0M696.3 771.4h0M631.7 822.8h0M545.5 879.3h0M622.4 545.8h0M520.2 798.1h0M643.2 764.0h0M557.4 616.9h0M719.7 766.5h0M474.9 642.6h0M456.5 705.9h0M580.8 594.1h0M547.4 779.3h0M449.2 781.0h0M535.0 621.1h0M458.1 497.7h0M937.5 680.0h0M486.3 778.9h0M566.9 565.1h0M592.1 790.7h0M436.4 550.8h0M374.8 344.1h0M523.2 676.1h0M545.5 842.6h0M601.7 860.3h0M633.2 838.0h0M421.4 547.4h0M501.3 575.3h0M342.2 501.4h0M723.8 617.4h0M778.2 736.9h0M600.8 597.0h0M448.0 429.0h0M723.7 818.8h0M536.8 695.6h0M476.8 819.1h0M734.4 676.7h0M693.1 679.9h0M385.8 373.7h0M612.8 723.8h0M636.7 694.1h0M632.9 805.6h0M433.6 765.5h0M518.8 571.7h0M540.3 674.9h0M529.7 791.9h0M575.0 758.1h0M657.9 706.7h0M487.1 701.2h0M571.8 807.5h0M492.5 649.7h0M391.7 584.9h0M623.4 603.8h0M529.5 614.2h0M513.0 780.5h0M554.3 588.1h0M562.4 697.6h0M441.8 515.1h0M489.5 492.3h0M484.2 545.3h0M471.0 618.4h0M581.1 601.8h0M578.4 867.9h0M796.4 758.5h0M615.8 699.7h0M387.4 639.9h0M588.5 729.1h0M561.1 479.4h0M465.3 621.0h0M500.0 462.4h0M332.8 442.8h0M652.1 737.3h0M608.5 823.4h0M630.9 890.5h0M666.6 1008.0h0M362.6 638.4h0M667.2 869.5h0M535.6 870.1h0M420.6 629.7h0M763.4 883.8h0M489.2 611.3h0M375.7 456.4h0M547.1 833.6h0M418.6 654.7h0M554.0 726.1h0M553.9 801.5h0M341.3 463.2h0M453.4 825.7h0M398.6 514.1h0M515.7 566.7h0M486.5 655.7h0M573.6 721.9h0M532.8 614.0h0M681.8 784.9h0M565.6 712.1h0M665.9 736.9h0M409.6 438.4h0M484.0 593.3h0M552.1 629.7h0M475.0 385.4h0M554.4 872.1h0M594.7 761.5h0M482.8 769.1h0M542.3 695.2h0M495.9 789.1h0M538.3 498.6h0M578.2 827.7h0M544.6 623.1h0M520.8 612.9h0M623.6 836.6h0M622.0 761.7h0M633.2 812.1h0M679.1 725.6h0M509.8 729.2h0M336.4 451.7h0M577.4 873.5h0M486.8 617.1h0M758.3 863.5h0M555.8 477.2h0M488.6 601.2h0M621.6 788.4h0M609.9 868.1h0M466.2 792.1h0M521.9 769.5h0M680.3 781.5h0M640.2 790.6h0M279.1 560.5h0M294.6 495.4h0M572.8 685.0h0M486.2 597.5h0M490.0 754.5h0M487.2 675.2h0M454.9 701.9h0M616.2 684.7h0M704.5 644.9h0M552.1 618.8h0M806.3 737.7h0M625.7 688.5h0M475.9 701.3h0M605.8 711.0h0M571.7 627.2h0M234.5 572.4h0M561.0 630.7h0M420.9 653.9h0M599.1 831.6h0M504.3 767.1h0M761.2 922.8h0M642.2 789.3h0M586.7 677.1h0M611.4 744.3h0M585.8 732.9h0M582.2 695.3h0M635.6 751.1h0M618.5 710.1h0M396.9 513.7h0M455.8 716.1h0M616.6 592.0h0M440.2 715.5h0M558.8 761.7h0M521.3 731.2h0M428.1 506.4h0M316.6 440.9h0M493.4 533.7h0M608.5 634.3h0M773.6 814.6h0M487.1 585.4h0M606.2 606.4h0M532.2 567.1h0M511.6 630.5h0M281.1 549.9h0M512.0 463.3h0M621.2 777.3h0M654.5 812.8h0M715.4 759.9h0M357.7 609.4h0M663.9 654.6h0M378.7 582.8h0M618.9 797.8h0M420.4 815.0h0M447.5 503.0h0M659.2 932.6h0M497.9 774.2h0M529.0 605.9h0M611.1 698.9h0M671.1 874.6h0M598.5 727.9h0M387.1 591.3h0M458.0 572.1h0M539.2 840.2h0M543.7 700.1h0M495.3 605.5h0M470.5 559.0h0M494.0 829.9h0M342.8 641.7h0M608.0 771.1h0M662.4 415.8h0M596.3 709.1h0M615.5 575.8h0M552.3 719.7h0M604.6 808.2h0M681.0 931.2h0M590.3 937.0h0M744.9 791.6h0M536.0 679.1h0M470.5 653.7h0M545.5 703.2h0M489.3 743.3h0M488.7 533.0h0M619.0 742.3h0M680.0 784.5h0M461.5 642.8h0M566.9 668.7h0M605.7 882.2h0M588.5 685.6h0M362.4 498.6h0M185.1 413.4h0M567.6 694.9h0M428.3 704.0h0M496.5 714.9h0M739.5 727.8h0M416.6 625.8h0M778.5 764.3h0M486.3 375.1h0M521.3 530.1h0M423.4 695.8h0M620.1 725.2h0M613.7 667.8h0M378.1 587.8h0M444.6 508.6h0M471.1 425.8h0M587.8 648.6h0M485.7 781.2h0M532.2 567.8h0M632.6 752.5h0M621.9 833.7h0M643.8 780.9h0M422.0 759.6h0M481.7 722.5h0M597.1 627.1h0M487.2 703.9h0M647.8 735.9h0M560.2 698.5h0M466.3 628.7h0M657.7 720.1h0M515.0 592.1h0M625.9 809.3h0M707.7 892.0h0M576.4 720.0h0M560.6 702.9h0M471.7 567.7h0M659.1 777.8h0M495.2 496.4h0"/><path d="M528.3 718.2h0M590.7 882.4h0M463.9 653.8h0M548.5 746.8h0M495.3 543.4h0M632.4 575.5h0M551.0 598.7h0M420.6 702.0h0M599.4 768.3h0M286.8 202.5h0M574.8 697.3h0M577.2 708.3h0M515.1 645.7h0M670.5 750.1h0M439.8 615.4h0M669.4 899.2h0M495.0 803.9h0M755.0 704.6h0M335.0 764.7h0M537.1 722.8h0M585.4 774.0h0M556.1 616.0h0M692.0 686.0h0M516.8 786.2h0M605.1 648.6h0M717.0 661.7h0M544.9 738.1h0M576.2 637.7h0M478.4 529.0h0M513.5 710.3h0M500.3 539.8h0M460.9 608.4h0M335.1 532.5h0M694.0 756.9h0M368.3 400.9h0M701.1 797.5h0M543.9 685.5h0M429.9 596.5h0M536.9 788.1h0M445.7 536.8h0M562.0 565.6h0M351.9 477.4h0M551.2 752.1h0M587.1 788.4h0M495.5 820.7h0M589.9 676.5h0M519.3 571.0h0M498.3 826.4h0M528.1 710.9h0M444.4 416.0h0M650.3 820.5h0M511.5 721.5h0M476.1 585.9h0M574.3 771.2h0M418.9 579.4h0M390.9 761.3h0M603.9 706.5h0M588.1 648.0h0M416.6 576.8h0M636.5 620.4h0M595.4 765.8h0M907.5 779.0h0M698.8 917.5h0M535.8 745.9h0M571.5 567.9h0M726.7 698.4h0M578.0 638.5h0M549.0 713.4h0M576.5 970.7h0M533.4 708.7h0M555.9 617.6h0M486.5 628.7h0M596.5 807.6h0M417.7 562.5h0M770.4 562.8h0M603.1 750.9h0M518.3 765.3h0M716.0 652.6h0M577.8 787.2h0M493.0 592.0h0M734.6 699.5h0M430.5 528.8h0M243.7 536.3h0M592.7 614.0h0M551.7 688.3h0M763.4 752.4h0M534.5 747.7h0M595.4 785.8h0M641.5 897.1h0M409.5 617.8h0M493.2 573.9h0M319.9 744.0h0M537.2 850.6h0M645.9 715.5h0M575.9 788.8h0M590.2 730.4h0M336.9 535.0h0M754.4 739.7h0M571.5 758.9h0M485.9 608.2h0M434.9 765.7h0M470.4 733.0h0M543.5 653.4h0M604.1 645.6h0M427.7 491.3h0M496.6 737.3h0M573.8 578.6h0M384.8 557.6h0M489.7 589.0h0M605.1 705.9h0M611.2 688.8h0M665.5 697.3h0M466.9 620.9h0M425.9 761.3h0M427.6 572.2h0M427.8 778.1h0M395.8 510.4h0M411.7 750.8h0M609.0 822.8h0M615.8 717.5h0M576.0 518.6h0M557.8 703.6h0M614.1 500.8h0M547.2 535.7h0M607.4 682.6h0M656.6 606.3h0M550.6 689.7h0M661.6 735.8h0M524.3 814.3h0M539.9 516.2h0M571.6 701.2h0M463.6 676.0h0M620.2 930.8h0M369.4 772.1h0M400.0 700.0h0M549.6 670.1h0M482.4 657.5h0M604.7 753.0h0M536.7 575.5h0M494.6 652.6h0M632.0 553.0h0M248.2 519.5h0M244.4 507.1h0M761.4 630.0h0M522.8 801.6h0M507.0 604.2h0M671.4 760.7h0M515.1 724.4h0M346.6 464.9h0M382.2 544.9h0M494.1 457.5h0M703.3 782.4h0M505.9 703.5h0M553.5 627.5h0M630.5 648.9h0M535.1 876.5h0M744.5 624.8h0M609.1 685.5h0M593.8 553.6h0M385.6 579.7h0M669.3 735.3h0M399.7 598.4h0M420.1 778.4h0M461.1 593.3h0M501.2 874.7h0M454.2 641.8h0M582.1 761.9h0M276.3 635.2h0M560.1 897.7h0M582.8 718.9h0M427.6 584.5h0M554.9 688.3h0M625.2 767.5h0M582.5 1016.5h0M515.1 628.1h0M536.6 587.7h0M671.6 822.7h0M446.2 431.3h0M443.2 586.4h0M543.0 568.0h0M602.1 696.0h0M449.7 676.1h0M440.8 698.9h0M546.1 704.7h0M800.9 692.7h0M385.8 597.1h0M536.2 760.4h0M678.0 736.6h0M463.7 730.0h0M593.2 787.0h0M482.6 689.4h0M338.5 518.2h0M435.5 667.0h0M573.2 668.9h0M544.9 719.6h0M439.3 762.1h0M586.1 444.8h0M519.8 936.9h0M706.4 941.8h0M466.4 588.9h0M461.4 600.1h0M559.9 628.7h0M523.6 815.6h0M493.5 767.4h0M430.7 584.3h0M548.6 649.2h0M272.7 384.4h0M591.3 742.4h0M492.2 721.0h0M449.1 791.1h0M552.6 538.0h0M280.9 538.1h0M553.3 751.1h0M642.7 649.2h0M521.0 673.4h0M675.9 682.9h0M466.4 592.0h0M561.2 877.7h0M692.6 777.7h0M537.5 605.9h0M606.2 882.4h0M795.1 692.9h0M448.4 637.3h0M514.3 395.0h0M572.9 662.6h0M526.8 758.2h0M445.3 565.9h0M646.0 631.7h0M574.0 858.1h0M539.2 604.1h0M489.6 509.4h0M647.3 909.7h0M509.9 793.6h0M544.0 877.2h0M497.9 574.7h0M509.7 725.6h0M677.3 548.7h0M339.6 724.6h0M578.0 737.4h0M524.9 668.4h0M591.0 748.6h0M588.6 729.7h0M542.8 615.5h0M558.5 667.5h0M337.4 459.3h0M532.7 799.9h0M435.5 634.3h0M438.2 584.0h0M610.3 608.9h0M373.2 850.6h0M483.1 657.8h0M497.9 547.3h0M426.7 543.8h0M302.9 382.0h0M531.9 699.7h0M602.6 904.6h0M567.1 598.4h0M625.6 522.3h0M384.5 653.6h0M522.2 852.1h0M579.8 738.1h0M712.7 875.8h0M490.4 693.0h0M514.5 661.8h0M715.1 681.0h0M558.9 625.8h0M545.4 849.6h0M440.1 530.5h0M675.4 688.1h0M482.6 628.0h0M524.3 759.9h0M692.9 709.1h0M512.4 752.1h0M532.2 850.4h0M583.0 684.5h0M583.0 542.7h0M410.3 764.7h0M751.0 694.9h0M496.4 572.4h0M612.2 713.5h0M507.3 507.8h0M596.1 597.9h0M654.7 814.5h0M692.6 837.6h0M599.6 797.4h0M598.2 655.9h0M620.8 864.3h0M440.4 652.3h0M414.1 674.3h0M427.6 538.1h0M509.8 587.2h0M542.4 798.3h0M337.0 684.7h0M574.3 816.8h0M579.2 680.0h0M462.2 582.6h0M644.2 763.8h0M587.5 604.4h0M536.2 638.8h0M578.7 520.6h0M549.6 717.5h0M534.3 716.2h0M517.9 633.4h0M452.0 864.7h0M627.5 737.1h0M529.6 816.8h0M625.1 795.8h0M550.3 540.7h0M673.9 864.7h0M558.2 853.2h0M376.0 423.3h0M501.1 699.2h0M513.1 673.6h0M363.1 649.6h0M636.8 707.7h0M568.2 566.5h0M514.9 493.0h0M462.4 677.4h0M577.0 733.3h0M550.5 783.9h0M565.2 670.3h0M453.2 522.9h0M627.4 784.3h0M485.7 470.6h0M465.6 608.4h0M636.3 784.4h0M483.9 459.8h0M696.8 818.5h0M469.6 628.1h0M507.1 822.7h0M531.3 680.5h0M547.5 304.5h0M537.9 691.0h0M542.3 761.0h0M597.4 846.9h0M513.7 627.9h0M797.4 841.4h0M560.5 714.2h0M603.8 784.4h0M541.3 787.2h0M702.7 671.0h0M437.6 654.7h0M280.4 459.8h0M620.0 617.6h0M503.4 614.6h0M488.0 546.9h0M492.2 747.6h0M558.3 899.4h0M514.6 752.4h0M615.7 870.8h0M461.6 744.2h0M560.1 606.1h0M839.8 729.4h0M378.0 504.5h0M582.1 797.3h0M582.2 845.4h0M404.5 356.5h0M691.6 670.5h0M538.5 719.3h0M648.6 823.5h0M659.8 759.8h0M604.4 658.7h0M383.1 731.8h0M559.8 746.0h0M785.6 676.7h0M620.2 668.8h0M523.8 725.0h0M392.9 564.9h0M694.1 790.4h0M369.0 445.8h0M627.9 798.6h0M610.3 895.0h0M645.3 790.6h0M573.1 805.5h0M540.6 667.2h0M461.0 527.0h0M429.1 545.3h0M456.6 721.9h0M455.4 721.1h0M562.8 767.6h0M667.3 850.9h0"/><path d="M586.3 840.1h0M552.7 949.8h0M694.9 636.9h0M547.9 620.0h0M477.1 562.0h0M682.5 668.4h0M561.1 837.4h0M539.2 711.4h0M666.3 627.3h0M489.1 650.1h0M737.8 719.8h0M750.0 937.3h0M331.8 547.8h0M498.1 640.6h0M336.5 730.9h0M560.0 696.9h0M288.4 528.5h0M584.4 772.9h0M598.8 885.5h0M459.2 607.0h0M520.6 744.7h0M586.7 926.5h0M407.6 676.2h0M288.6 610.9h0M578.4 913.8h0M544.6 841.2h0M612.6 746.5h0M643.0 906.0h0M576.4 587.8h0M419.6 678.9h0M498.5 537.3h0M493.2 685.4h0M467.7 701.0h0M440.7 590.2h0M500.3 616.6h0M423.5 598.1h0M395.1 323.0h0M506.4 754.4h0M463.3 443.9h0M687.8 810.5h0M547.8 806.7h0M616.4 668.0h0M571.5 594.8h0M658.3 672.7h0M546.1 814.4h0M461.1 573.5h0M480.8 692.1h0M480.3 749.2h0M449.2 694.4h0M441.8 609.6h0M625.7 590.4h0M658.1 737.0h0M672.1 819.0h0M582.6 890.5h0M508.2 457.1h0M479.3 668.3h0M354.5 593.0h0M457.5 649.8h0M580.3 594.4h0M492.8 591.5h0M638.3 758.7h0M480.6 616.9h0M507.0 538.7h0M382.0 729.8h0M721.6 764.2h0M415.2 790.0h0M660.3 657.3h0M509.0 796.5h0M365.7 644.7h0M538.8 655.3h0M517.8 635.4h0M541.7 675.1h0M410.6 503.7h0M501.8 955.9h0M468.7 662.2h0M545.7 641.1h0M580.1 747.9h0M516.5 638.9h0M658.0 826.2h0M520.3 765.0h0M603.9 637.5h0M382.4 721.0h0M534.6 699.8h0M289.0 566.4h0M550.6 767.4h0M439.7 407.9h0M508.9 785.4h0M503.7 690.8h0M544.7 794.9h0M473.7 687.9h0M509.4 673.9h0M562.2 635.9h0M546.6 630.7h0M548.2 820.1h0M375.9 403.3h0M579.6 859.8h0M621.6 892.2h0M558.1 665.0h0M598.2 786.5h0M511.2 643.4h0M783.7 777.3h0M499.3 589.0h0M359.3 470.1h0M494.5 774.4h0M489.7 553.9h0M440.4 593.5h0M621.3 761.0h0M532.3 500.4h0M447.8 509.1h0M402.1 762.5h0M478.3 779.7h0M355.7 396.6h0M584.6 690.2h0M425.1 566.2h0M493.5 774.8h0M600.5 659.6h0M618.2 700.3h0M643.1 687.5h0M637.3 836.1h0M512.0 710.9h0M665.1 678.9h0M648.7 715.7h0M481.9 421.5h0M552.9 682.5h0M610.0 876.8h0M563.6 691.1h0M567.8 630.9h0M484.4 673.4h0M573.7 776.0h0M847.2 786.9h0M490.8 807.0h0M262.4 464.2h0M503.7 549.5h0M620.3 698.5h0M645.6 814.4h0M536.9 743.5h0M555.4 838.1h0M636.6 848.4h0M323.2 531.7h0M370.3 712.0h0M415.2 442.5h0M422.5 763.9h0M457.5 456.8h0M628.5 645.6h0M479.6 621.2h0M562.7 669.7h0M662.6 606.5h0M705.6 678.4h0M598.2 737.4h0M541.3 718.7h0M491.9 705.3h0M587.4 810.1h0M399.7 360.7h0M762.0 843.3h0M658.3 883.5h0M563.9 857.1h0M500.7 392.3h0M446.2 607.7h0M270.7 392.6h0M525.7 506.8h0M656.9 712.4h0M564.2 742.6h0M607.1 698.5h0M568.6 580.0h0M529.1 506.3h0M643.2 655.9h0M507.0 758.5h0M418.8 606.8h0M482.1 479.0h0M577.5 678.3h0M486.2 591.7h0M496.9 625.9h0M629.3 889.0h0M606.1 704.0h0M565.0 735.6h0M456.3 687.0h0M407.4 548.3h0M724.0 649.8h0M631.7 661.4h0M509.0 661.2h0M547.7 695.2h0M693.4 920.6h0M522.2 640.4h0M503.8 586.3h0M354.1 641.2h0M672.4 731.2h0M511.4 736.3h0M583.5 551.3h0M561.1 497.3h0M488.6 444.9h0M488.9 498.2h0M707.8 921.7h0M699.2 830.5h0M434.5 567.8h0M499.3 821.7h0M458.6 804.1h0M606.2 811.2h0M562.2 735.8h0M516.7 929.5h0M601.1 693.4h0M406.6 546.5h0M446.4 730.2h0M315.3 540.1h0M783.5 850.9h0M582.3 866.2h0M393.9 630.8h0M525.0 679.7h0M388.1 727.4h0M543.7 649.0h0M539.8 724.4h0M734.2 754.9h0M424.1 540.5h0M462.7 433.0h0M513.7 564.3h0M566.1 691.0h0M486.4 842.2h0M411.2 550.6h0M439.6 661.0h0M540.9 624.1h0M646.2 569.4h0M479.4 750.3h0M735.2 668.3h0M516.1 752.8h0M389.8 605.5h0M594.5 636.9h0M690.6 946.5h0M431.0 581.1h0M699.3 768.8h0M407.2 558.0h0M613.6 840.0h0M455.7 427.0h0M498.9 568.0h0M507.4 554.4h0M572.0 894.3h0M504.3 528.7h0M467.1 690.1h0M587.6 815.5h0M554.6 694.8h0M430.0 664.0h0M550.0 731.1h0M347.4 592.7h0M542.3 741.2h0M613.9 722.3h0M610.1 689.4h0M525.6 772.6h0M600.6 714.4h0M490.7 615.3h0M375.1 672.2h0M500.1 741.3h0M496.5 490.9h0M457.1 741.8h0M619.9 598.0h0M523.0 486.2h0M539.9 613.4h0M379.1 766.9h0M430.1 674.5h0M525.6 732.3h0M411.4 374.5h0M453.5 636.5h0M306.0 550.7h0M584.9 672.3h0M534.4 722.7h0M657.9 677.7h0M484.8 490.5h0M427.1 775.5h0M674.6 897.4h0M722.3 865.0h0M571.0 550.7h0M613.2 896.1h0M495.6 604.3h0M495.8 534.4h0M571.7 698.0h0M693.9 789.9h0M499.0 655.1h0M545.8 774.8h0M391.8 628.4h0M659.5 1042.0h0M599.8 694.8h0M385.8 489.5h0M486.8 551.1h0M472.0 634.0h0M365.9 804.5h0M696.9 780.4h0M700.0 1057.5h0M449.3 683.7h0M408.8 581.3h0M591.5 666.8h0M642.5 605.5h0M472.9 858.8h0M645.6 593.5h0M722.6 673.5h0M393.4 531.5h0M498.7 741.9h0M536.5 713.4h0M526.0 655.8h0M335.8 659.3h0M543.3 676.6h0M681.7 698.5h0M595.9 701.7h0M502.3 772.6h0M460.0 836.2h0M520.4 683.1h0M490.3 874.4h0M554.6 476.4h0M604.0 677.6h0M601.7 551.1h0M772.2 768.7h0M512.2 704.2h0M562.9 773.0h0M677.2 734.1h0M612.7 729.5h0M462.7 510.5h0M377.9 536.2h0M507.1 614.0h0M514.9 663.5h0M627.3 507.4h0M621.5 855.6h0M479.7 673.4h0M615.9 893.4h0M546.5 829.6h0M716.6 796.6h0M642.6 546.1h0M315.4 576.3h0M644.1 731.2h0M464.4 628.6h0M564.9 838.5h0M584.8 606.4h0M462.3 619.8h0M415.1 558.2h0M215.8 468.4h0M427.4 636.4h0M499.1 838.8h0M625.6 874.6h0M647.9 812.0h0M719.0 722.8h0M403.9 588.9h0M480.6 758.3h0M596.7 568.4h0M390.9 595.8h0M382.8 216.8h0M598.9 742.4h0M330.8 646.8h0M497.3 562.1h0M544.5 712.1h0M680.9 688.6h0M551.9 521.1h0M645.0 786.6h0M543.2 618.7h0M605.0 621.5h0M522.6 740.9h0M532.9 640.8h0M416.4 430.2h0M401.3 691.5h0M495.5 615.9h0M623.6 804.1h0M597.2 949.2h0M489.5 537.6h0M526.4 730.6h0M604.9 715.5h0M382.0 650.2h0M607.2 604.3h0M702.9 630.1h0M464.5 520.0h0M668.3 744.3h0M522.6 762.2h0M621.8 752.2h0M348.0 520.1h0M520.3 622.8h0M752.1 798.4h0M451.2 656.4h0M567.5 594.1h0M530.3 531.3h0M771.2 907.5h0M761.3 831.2h0M322.9 657.8h0M558.6 577.3h0M355.0 590.6h0M595.3 924.3h0M343.4 474.6h0M512.4 683.6h0M496.6 635.3h0"/></g>
</g>
<text class="lb" x="217" y="78.0">woman</text>
<text class="lb" x="469.5" y="181.75">mother</text>
<text class="lb" x="525.25" y="242.5">wife</text>
<text class="lb" x="597.5" y="267.25">daughter</text>
<text class="lb" x="587" y="288.0">father</text>
<text class="lb" x="660.5" y="358.75">son</text>
<text class="lb" x="672.5" y="373.0">widow</text>
<text class="lb" x="680" y="406.75">marriage</text>
<text class="lb" x="760" y="432.0">princess</text>
<text class="lb" x="733.25" y="455.5">uncle</text>
<text class="lb" x="836.75" y="413.0">queen</text>
<text class="lb" x="837.25" y="505.5">elizabeth</text>
<text class="lb" x="895.75" y="548.5">prince</text>
<text class="lb" x="889.75" y="576.0">monarch</text>
<text class="lb" x="1029" y="571.75">king</text>
<text class="lb" x="982" y="629.0">throne</text>
<text class="lb" x="996" y="670.0">kingdom</text>
<text class="lb" x="987.4" y="690.5">emperor</text>
<text class="lb" x="911.75" y="703.0">ruler</text>
<text class="lb" x="1008" y="774.1">frederick</text>
<text class="lb" x="1024" y="834.25">iii</text>
<text class="lb" x="1053.5" y="834.75">vi</text>
<text class="lb" x="1069.25" y="834.75">iv</text>
<path d="M112 56V1110M111 1109H1156" stroke="#000" stroke-width="2" fill="none"/>
<path d="M112.2 1106V1118M145.4 1109V1115M178.7 1109V1115M211.9 1109V1115M245.2 1109V1115M278.4 1106V1118M311.6 1109V1115M344.9 1109V1115M378.1 1109V1115M411.4 1109V1115M444.6 1106V1118M477.8 1109V1115M511.1 1109V1115M544.3 1109V1115M577.6 1109V1115M610.8 1106V1118M644.0 1109V1115M677.3 1109V1115M710.5 1109V1115M743.8 1109V1115M777.0 1106V1118M810.2 1109V1115M843.5 1109V1115M876.7 1109V1115M910.0 1109V1115M943.2 1106V1118M976.4 1109V1115M1009.7 1109V1115M1042.9 1109V1115M1076.2 1109V1115M1109.4 1106V1118M1142.6 1109V1115M115 1091.2H103M112 1057.7H106M112 1024.1H106M112 990.6H106M112 957.0H106M115 923.5H103M112 890.0H106M112 856.4H106M112 822.9H106M112 789.3H106M115 755.8H103M112 722.3H106M112 688.7H106M112 655.2H106M112 621.6H106M115 588.1H103M112 554.6H106M112 521.0H106M112 487.5H106M112 453.9H106M115 420.4H103M112 386.9H106M112 353.3H106M112 319.8H106M112 286.2H106M115 252.7H103M112 219.2H106M112 185.6H106M112 152.1H106M112 118.5H106M115 85.0H103" stroke="#000" stroke-width="1.8" fill="none"/>
<text class="tk" text-anchor="middle" x="112.2" y="1145">-0.6</text>
<text class="tk" text-anchor="middle" x="278.4" y="1145">-0.4</text>
<text class="tk" text-anchor="middle" x="444.6" y="1145">-0.2</text>
<text class="tk" text-anchor="middle" x="610.8" y="1145">0</text>
<text class="tk" text-anchor="middle" x="777.0" y="1145">0.2</text>
<text class="tk" text-anchor="middle" x="943.2" y="1145">0.4</text>
<text class="tk" text-anchor="middle" x="1109.4" y="1145">0.6</text>
<text class="tk" text-anchor="end" x="95.5" y="1101.2">-0.2</text>
<text class="tk" text-anchor="end" x="95.5" y="933.5">0</text>
<text class="tk" text-anchor="end" x="95.5" y="765.8">0.2</text>
<text class="tk" text-anchor="end" x="95.5" y="598.1">0.4</text>
<text class="tk" text-anchor="end" x="95.5" y="430.4">0.6</text>
<text class="tk" text-anchor="end" x="95.5" y="262.7">0.8</text>
<text class="tk" text-anchor="end" x="95.5" y="95.0">1</text>
<text class="ax" x="634.0" y="1185.8">king - man</text>
<text class="ax" transform="translate(35,582.5) rotate(-90)">woman</text>
<text class="ti" x="112" y="43.1">10000 embeddings selected, cosine similarity measure</text>
</svg></body></html>
